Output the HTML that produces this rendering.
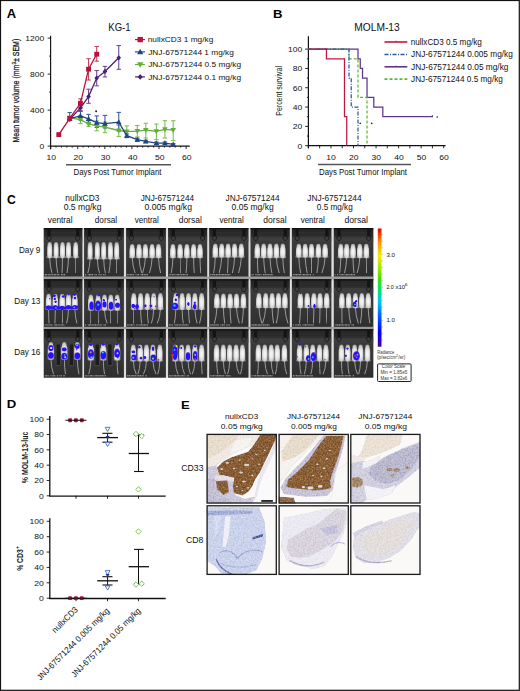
<!DOCTYPE html>
<html><head><meta charset="utf-8"><title>Figure</title>
<style>html,body{margin:0;padding:0;background:#fff;}body{width:520px;height:691px;overflow:hidden;font-family:"Liberation Sans",sans-serif;}svg{display:block;}</style>
</head><body>
<svg width="520" height="691" viewBox="0 0 520 691" font-family='"Liberation Sans", sans-serif'><defs><radialGradient id="mg" cx="50%" cy="55%" r="58%"><stop offset="0" stop-color="#fafafa"/><stop offset="0.45" stop-color="#e8e8e8"/><stop offset="0.8" stop-color="#c6c6c6"/><stop offset="1" stop-color="#848484"/></radialGradient><linearGradient id="cellbg" x1="0" y1="0" x2="0" y2="1"><stop offset="0" stop-color="#222"/><stop offset="0.18" stop-color="#2a2a2a"/><stop offset="0.2" stop-color="#3b3b3b"/><stop offset="0.6" stop-color="#363636"/><stop offset="1" stop-color="#2e2e2e"/></linearGradient><radialGradient id="bB" cx="50%" cy="50%" r="50%"><stop offset="0" stop-color="#2418ff"/><stop offset="0.75" stop-color="#2010ff"/><stop offset="1" stop-color="#6a20e0" stop-opacity="0.7"/></radialGradient><radialGradient id="bH" cx="50%" cy="50%" r="50%"><stop offset="0" stop-color="#c8f040"/><stop offset="0.18" stop-color="#30d8a0"/><stop offset="0.38" stop-color="#2090ff"/><stop offset="0.65" stop-color="#2010ff"/><stop offset="1" stop-color="#6a20e0" stop-opacity="0.7"/></radialGradient><radialGradient id="bC" cx="50%" cy="50%" r="50%"><stop offset="0" stop-color="#40e0e0"/><stop offset="0.35" stop-color="#2080ff"/><stop offset="0.7" stop-color="#2010ff"/><stop offset="1" stop-color="#6a20e0" stop-opacity="0.7"/></radialGradient><radialGradient id="bR" cx="50%" cy="50%" r="50%"><stop offset="0" stop-color="#e02010"/><stop offset="0.2" stop-color="#f0a020"/><stop offset="0.38" stop-color="#50d060"/><stop offset="0.58" stop-color="#2060ff"/><stop offset="0.8" stop-color="#2010ff"/><stop offset="1" stop-color="#6a20e0" stop-opacity="0.7"/></radialGradient><filter id="soft" x="-20%" y="-20%" width="140%" height="140%"><feGaussianBlur stdDeviation="0.35"/></filter><filter id="soft2" x="-20%" y="-20%" width="140%" height="140%"><feGaussianBlur stdDeviation="0.25"/></filter><filter id="grain" x="0" y="0" width="100%" height="100%"><feTurbulence type="fractalNoise" baseFrequency="0.6" numOctaves="2" seed="3" result="n"/><feColorMatrix in="n" type="matrix" values="0.9 0 0 0 0.05  0.9 0 0 0 0.05  0.9 0 0 0 0.05  0 0 0 0 1" result="g"/><feBlend in="g" in2="SourceGraphic" mode="soft-light" result="b"/><feComposite in="b" in2="SourceGraphic" operator="in"/></filter><linearGradient id="cbar" x1="0" y1="1" x2="0" y2="0"><stop offset="0" stop-color="#5000d0"/><stop offset="0.08" stop-color="#0000ff"/><stop offset="0.3" stop-color="#00a0ff"/><stop offset="0.45" stop-color="#00e0c0"/><stop offset="0.6" stop-color="#40e000"/><stop offset="0.75" stop-color="#e8e800"/><stop offset="0.88" stop-color="#ff8000"/><stop offset="1" stop-color="#e00000"/></linearGradient><linearGradient id="cbar2" x1="0" y1="1" x2="0" y2="0"><stop offset="0" stop-color="#4b00a0"/><stop offset="0.12" stop-color="#0000ff"/><stop offset="0.28" stop-color="#0070ff"/><stop offset="0.37" stop-color="#00c0ff"/><stop offset="0.47" stop-color="#00e080"/><stop offset="0.57" stop-color="#40e000"/><stop offset="0.67" stop-color="#a0e800"/><stop offset="0.77" stop-color="#f0f000"/><stop offset="0.885" stop-color="#ff9000"/><stop offset="1" stop-color="#e00000"/></linearGradient></defs><rect width="520" height="691" fill="#fff"/><text x="6.88" y="17.6" font-size="12.25" font-weight="bold" fill="#000" textLength="9.38" lengthAdjust="spacingAndGlyphs" >A</text>
<text x="272.9" y="17.8" font-size="11.69" font-weight="bold" fill="#000" textLength="9.47" lengthAdjust="spacingAndGlyphs" >B</text>
<text x="7.01" y="204" font-size="11.97" font-weight="bold" fill="#000" textLength="8.82" lengthAdjust="spacingAndGlyphs" >C</text>
<text x="6.84" y="408.3" font-size="11.27" font-weight="bold" fill="#000" textLength="9.51" lengthAdjust="spacingAndGlyphs" >D</text>
<text x="180.95" y="408.5" font-size="11.69" font-weight="bold" fill="#000" textLength="8.74" lengthAdjust="spacingAndGlyphs" >E</text>
<line x1="50.6" y1="35.8" x2="50.6" y2="149.2" stroke="#111" stroke-width="1.15" />
<line x1="50.1" y1="146.1" x2="189.8" y2="146.1" stroke="#111" stroke-width="1.15" />
<line x1="47.6" y1="146.1" x2="50.6" y2="146.1" stroke="#111" stroke-width="0.9" />
<line x1="49.1" y1="128.1" x2="50.6" y2="128.1" stroke="#111" stroke-width="0.9" />
<line x1="47.6" y1="110.1" x2="50.6" y2="110.1" stroke="#111" stroke-width="0.9" />
<line x1="49.1" y1="92.1" x2="50.6" y2="92.1" stroke="#111" stroke-width="0.9" />
<line x1="47.6" y1="74.1" x2="50.6" y2="74.1" stroke="#111" stroke-width="0.9" />
<line x1="49.1" y1="56.1" x2="50.6" y2="56.1" stroke="#111" stroke-width="0.9" />
<line x1="47.6" y1="38.1" x2="50.6" y2="38.1" stroke="#111" stroke-width="0.9" />
<text x="39.5" y="148.9" font-size="7.89" font-weight="normal" fill="#111" textLength="4.75" lengthAdjust="spacingAndGlyphs" >0</text>
<text x="30.02" y="112.9" font-size="7.89" font-weight="normal" fill="#111" textLength="14.25" lengthAdjust="spacingAndGlyphs" >400</text>
<text x="30.02" y="76.9" font-size="7.89" font-weight="normal" fill="#111" textLength="14.25" lengthAdjust="spacingAndGlyphs" >800</text>
<text x="25.23" y="40.9" font-size="7.89" font-weight="normal" fill="#111" textLength="19.01" lengthAdjust="spacingAndGlyphs" >1200</text>
<line x1="50.6" y1="146.1" x2="50.6" y2="149.1" stroke="#111" stroke-width="0.9" />
<line x1="56.02" y1="146.1" x2="56.02" y2="147.6" stroke="#111" stroke-width="0.9" />
<line x1="61.44" y1="146.1" x2="61.44" y2="147.6" stroke="#111" stroke-width="0.9" />
<line x1="66.86" y1="146.1" x2="66.86" y2="147.6" stroke="#111" stroke-width="0.9" />
<line x1="72.28" y1="146.1" x2="72.28" y2="147.6" stroke="#111" stroke-width="0.9" />
<line x1="77.7" y1="146.1" x2="77.7" y2="149.1" stroke="#111" stroke-width="0.9" />
<line x1="83.12" y1="146.1" x2="83.12" y2="147.6" stroke="#111" stroke-width="0.9" />
<line x1="88.54" y1="146.1" x2="88.54" y2="147.6" stroke="#111" stroke-width="0.9" />
<line x1="93.96" y1="146.1" x2="93.96" y2="147.6" stroke="#111" stroke-width="0.9" />
<line x1="99.38" y1="146.1" x2="99.38" y2="147.6" stroke="#111" stroke-width="0.9" />
<line x1="104.8" y1="146.1" x2="104.8" y2="149.1" stroke="#111" stroke-width="0.9" />
<line x1="110.22" y1="146.1" x2="110.22" y2="147.6" stroke="#111" stroke-width="0.9" />
<line x1="115.64" y1="146.1" x2="115.64" y2="147.6" stroke="#111" stroke-width="0.9" />
<line x1="121.06" y1="146.1" x2="121.06" y2="147.6" stroke="#111" stroke-width="0.9" />
<line x1="126.48" y1="146.1" x2="126.48" y2="147.6" stroke="#111" stroke-width="0.9" />
<line x1="131.9" y1="146.1" x2="131.9" y2="149.1" stroke="#111" stroke-width="0.9" />
<line x1="137.32" y1="146.1" x2="137.32" y2="147.6" stroke="#111" stroke-width="0.9" />
<line x1="142.74" y1="146.1" x2="142.74" y2="147.6" stroke="#111" stroke-width="0.9" />
<line x1="148.16" y1="146.1" x2="148.16" y2="147.6" stroke="#111" stroke-width="0.9" />
<line x1="153.58" y1="146.1" x2="153.58" y2="147.6" stroke="#111" stroke-width="0.9" />
<line x1="159" y1="146.1" x2="159" y2="149.1" stroke="#111" stroke-width="0.9" />
<line x1="164.42" y1="146.1" x2="164.42" y2="147.6" stroke="#111" stroke-width="0.9" />
<line x1="169.84" y1="146.1" x2="169.84" y2="147.6" stroke="#111" stroke-width="0.9" />
<line x1="175.26" y1="146.1" x2="175.26" y2="147.6" stroke="#111" stroke-width="0.9" />
<line x1="180.68" y1="146.1" x2="180.68" y2="147.6" stroke="#111" stroke-width="0.9" />
<line x1="186.1" y1="146.1" x2="186.1" y2="149.1" stroke="#111" stroke-width="0.9" />
<text x="46.41" y="159.85" font-size="7.89" font-weight="normal" fill="#111" textLength="9.5" lengthAdjust="spacingAndGlyphs" >10</text>
<text x="73.62" y="159.85" font-size="7.89" font-weight="normal" fill="#111" textLength="9.5" lengthAdjust="spacingAndGlyphs" >20</text>
<text x="100.76" y="159.85" font-size="7.89" font-weight="normal" fill="#111" textLength="9.5" lengthAdjust="spacingAndGlyphs" >30</text>
<text x="127.92" y="159.85" font-size="7.89" font-weight="normal" fill="#111" textLength="9.5" lengthAdjust="spacingAndGlyphs" >40</text>
<text x="154.96" y="159.85" font-size="7.89" font-weight="normal" fill="#111" textLength="9.5" lengthAdjust="spacingAndGlyphs" >50</text>
<text x="182.02" y="159.85" font-size="7.89" font-weight="normal" fill="#111" textLength="9.5" lengthAdjust="spacingAndGlyphs" >60</text>
<line x1="66" y1="164.7" x2="171" y2="164.7" stroke="#555" stroke-width="1.4" />
<text x="73.47" y="175.3" font-size="8.31" font-weight="normal" fill="#111" textLength="87.98" lengthAdjust="spacingAndGlyphs" >Days Post Tumor Implant</text>
<text transform="translate(19.3,142.5) rotate(-90)" x="0" y="0" font-size="9.3" fill="#111" textLength="103.8" lengthAdjust="spacingAndGlyphs" stroke="#111" stroke-width="0.25">Mean tumor volume (mm<tspan font-size="6.04" dy="-3.2">3</tspan><tspan dy="3.2">± SEM)</tspan></text>
<text x="108.28" y="30.6" font-size="10.28" font-weight="normal" fill="#111" textLength="22.34" lengthAdjust="spacingAndGlyphs" >KG-1</text>
<line x1="80.45" y1="116" x2="80.45" y2="123.6" stroke="#7cc055" stroke-width="1.1" />
<line x1="78.25" y1="116" x2="82.65" y2="116" stroke="#7cc055" stroke-width="1.1" />
<line x1="78.25" y1="123.6" x2="82.65" y2="123.6" stroke="#7cc055" stroke-width="1.1" />
<line x1="88.55" y1="121" x2="88.55" y2="126.3" stroke="#7cc055" stroke-width="1.1" />
<line x1="86.35" y1="121" x2="90.75" y2="121" stroke="#7cc055" stroke-width="1.1" />
<line x1="86.35" y1="126.3" x2="90.75" y2="126.3" stroke="#7cc055" stroke-width="1.1" />
<line x1="96.7" y1="121" x2="96.7" y2="130.8" stroke="#7cc055" stroke-width="1.1" />
<line x1="94.5" y1="121" x2="98.9" y2="121" stroke="#7cc055" stroke-width="1.1" />
<line x1="94.5" y1="130.8" x2="98.9" y2="130.8" stroke="#7cc055" stroke-width="1.1" />
<line x1="104.95" y1="122" x2="104.95" y2="132.7" stroke="#7cc055" stroke-width="1.1" />
<line x1="102.75" y1="122" x2="107.15" y2="122" stroke="#7cc055" stroke-width="1.1" />
<line x1="102.75" y1="132.7" x2="107.15" y2="132.7" stroke="#7cc055" stroke-width="1.1" />
<line x1="118.75" y1="125.3" x2="118.75" y2="136.6" stroke="#7cc055" stroke-width="1.1" />
<line x1="116.55" y1="125.3" x2="120.95" y2="125.3" stroke="#7cc055" stroke-width="1.1" />
<line x1="116.55" y1="136.6" x2="120.95" y2="136.6" stroke="#7cc055" stroke-width="1.1" />
<line x1="126.8" y1="125.9" x2="126.8" y2="137.2" stroke="#7cc055" stroke-width="1.1" />
<line x1="124.6" y1="125.9" x2="129" y2="125.9" stroke="#7cc055" stroke-width="1.1" />
<line x1="124.6" y1="137.2" x2="129" y2="137.2" stroke="#7cc055" stroke-width="1.1" />
<line x1="137.3" y1="125.5" x2="137.3" y2="137" stroke="#7cc055" stroke-width="1.1" />
<line x1="135.1" y1="125.5" x2="139.5" y2="125.5" stroke="#7cc055" stroke-width="1.1" />
<line x1="135.1" y1="137" x2="139.5" y2="137" stroke="#7cc055" stroke-width="1.1" />
<line x1="145.8" y1="123.3" x2="145.8" y2="138" stroke="#7cc055" stroke-width="1.1" />
<line x1="143.6" y1="123.3" x2="148" y2="123.3" stroke="#7cc055" stroke-width="1.1" />
<line x1="143.6" y1="138" x2="148" y2="138" stroke="#7cc055" stroke-width="1.1" />
<line x1="156.4" y1="124.1" x2="156.4" y2="139.7" stroke="#7cc055" stroke-width="1.1" />
<line x1="154.2" y1="124.1" x2="158.6" y2="124.1" stroke="#7cc055" stroke-width="1.1" />
<line x1="154.2" y1="139.7" x2="158.6" y2="139.7" stroke="#7cc055" stroke-width="1.1" />
<line x1="164.9" y1="120.7" x2="164.9" y2="138" stroke="#7cc055" stroke-width="1.1" />
<line x1="162.7" y1="120.7" x2="167.1" y2="120.7" stroke="#7cc055" stroke-width="1.1" />
<line x1="162.7" y1="138" x2="167.1" y2="138" stroke="#7cc055" stroke-width="1.1" />
<line x1="173.2" y1="120.7" x2="173.2" y2="140.6" stroke="#7cc055" stroke-width="1.1" />
<line x1="171" y1="120.7" x2="175.4" y2="120.7" stroke="#7cc055" stroke-width="1.1" />
<line x1="171" y1="140.6" x2="175.4" y2="140.6" stroke="#7cc055" stroke-width="1.1" />
<line x1="69.7" y1="112.5" x2="69.7" y2="119.5" stroke="#3d5f9a" stroke-width="1.1" />
<line x1="67.5" y1="112.5" x2="71.9" y2="112.5" stroke="#3d5f9a" stroke-width="1.1" />
<line x1="67.5" y1="119.5" x2="71.9" y2="119.5" stroke="#3d5f9a" stroke-width="1.1" />
<line x1="80.45" y1="111.5" x2="80.45" y2="120" stroke="#3d5f9a" stroke-width="1.1" />
<line x1="78.25" y1="111.5" x2="82.65" y2="111.5" stroke="#3d5f9a" stroke-width="1.1" />
<line x1="78.25" y1="120" x2="82.65" y2="120" stroke="#3d5f9a" stroke-width="1.1" />
<line x1="88.55" y1="114.4" x2="88.55" y2="123" stroke="#3d5f9a" stroke-width="1.1" />
<line x1="86.35" y1="114.4" x2="90.75" y2="114.4" stroke="#3d5f9a" stroke-width="1.1" />
<line x1="86.35" y1="123" x2="90.75" y2="123" stroke="#3d5f9a" stroke-width="1.1" />
<line x1="96.7" y1="115.9" x2="96.7" y2="127.4" stroke="#3d5f9a" stroke-width="1.1" />
<line x1="94.5" y1="115.9" x2="98.9" y2="115.9" stroke="#3d5f9a" stroke-width="1.1" />
<line x1="94.5" y1="127.4" x2="98.9" y2="127.4" stroke="#3d5f9a" stroke-width="1.1" />
<line x1="104.95" y1="115.4" x2="104.95" y2="128" stroke="#3d5f9a" stroke-width="1.1" />
<line x1="102.75" y1="115.4" x2="107.15" y2="115.4" stroke="#3d5f9a" stroke-width="1.1" />
<line x1="102.75" y1="128" x2="107.15" y2="128" stroke="#3d5f9a" stroke-width="1.1" />
<line x1="118.75" y1="112.4" x2="118.75" y2="131" stroke="#3d5f9a" stroke-width="1.1" />
<line x1="116.55" y1="112.4" x2="120.95" y2="112.4" stroke="#3d5f9a" stroke-width="1.1" />
<line x1="116.55" y1="131" x2="120.95" y2="131" stroke="#3d5f9a" stroke-width="1.1" />
<line x1="126.8" y1="134" x2="126.8" y2="137.6" stroke="#3d5f9a" stroke-width="1.1" />
<line x1="124.6" y1="134" x2="129" y2="134" stroke="#3d5f9a" stroke-width="1.1" />
<line x1="124.6" y1="137.6" x2="129" y2="137.6" stroke="#3d5f9a" stroke-width="1.1" />
<line x1="137.3" y1="138.2" x2="137.3" y2="141.2" stroke="#3d5f9a" stroke-width="1.1" />
<line x1="135.1" y1="138.2" x2="139.5" y2="138.2" stroke="#3d5f9a" stroke-width="1.1" />
<line x1="135.1" y1="141.2" x2="139.5" y2="141.2" stroke="#3d5f9a" stroke-width="1.1" />
<line x1="145.8" y1="140.2" x2="145.8" y2="142.6" stroke="#3d5f9a" stroke-width="1.1" />
<line x1="143.6" y1="140.2" x2="148" y2="140.2" stroke="#3d5f9a" stroke-width="1.1" />
<line x1="143.6" y1="142.6" x2="148" y2="142.6" stroke="#3d5f9a" stroke-width="1.1" />
<line x1="156.4" y1="142" x2="156.4" y2="144.4" stroke="#3d5f9a" stroke-width="1.1" />
<line x1="154.2" y1="142" x2="158.6" y2="142" stroke="#3d5f9a" stroke-width="1.1" />
<line x1="154.2" y1="144.4" x2="158.6" y2="144.4" stroke="#3d5f9a" stroke-width="1.1" />
<line x1="164.9" y1="142" x2="164.9" y2="144.4" stroke="#3d5f9a" stroke-width="1.1" />
<line x1="162.7" y1="142" x2="167.1" y2="142" stroke="#3d5f9a" stroke-width="1.1" />
<line x1="162.7" y1="144.4" x2="167.1" y2="144.4" stroke="#3d5f9a" stroke-width="1.1" />
<line x1="173.2" y1="143.6" x2="173.2" y2="145.2" stroke="#3d5f9a" stroke-width="1.1" />
<line x1="171" y1="143.6" x2="175.4" y2="143.6" stroke="#3d5f9a" stroke-width="1.1" />
<line x1="171" y1="145.2" x2="175.4" y2="145.2" stroke="#3d5f9a" stroke-width="1.1" />
<line x1="80.45" y1="105.5" x2="80.45" y2="110.5" stroke="#6f4c95" stroke-width="1.1" />
<line x1="78.25" y1="105.5" x2="82.65" y2="105.5" stroke="#6f4c95" stroke-width="1.1" />
<line x1="78.25" y1="110.5" x2="82.65" y2="110.5" stroke="#6f4c95" stroke-width="1.1" />
<line x1="88.55" y1="89.2" x2="88.55" y2="103.3" stroke="#6f4c95" stroke-width="1.1" />
<line x1="86.35" y1="89.2" x2="90.75" y2="89.2" stroke="#6f4c95" stroke-width="1.1" />
<line x1="86.35" y1="103.3" x2="90.75" y2="103.3" stroke="#6f4c95" stroke-width="1.1" />
<line x1="96.7" y1="70.5" x2="96.7" y2="85.8" stroke="#6f4c95" stroke-width="1.1" />
<line x1="94.5" y1="70.5" x2="98.9" y2="70.5" stroke="#6f4c95" stroke-width="1.1" />
<line x1="94.5" y1="85.8" x2="98.9" y2="85.8" stroke="#6f4c95" stroke-width="1.1" />
<line x1="104.95" y1="66.4" x2="104.95" y2="76.9" stroke="#6f4c95" stroke-width="1.1" />
<line x1="102.75" y1="66.4" x2="107.15" y2="66.4" stroke="#6f4c95" stroke-width="1.1" />
<line x1="102.75" y1="76.9" x2="107.15" y2="76.9" stroke="#6f4c95" stroke-width="1.1" />
<line x1="118.75" y1="45.5" x2="118.75" y2="69.3" stroke="#6f4c95" stroke-width="1.1" />
<line x1="116.55" y1="45.5" x2="120.95" y2="45.5" stroke="#6f4c95" stroke-width="1.1" />
<line x1="116.55" y1="69.3" x2="120.95" y2="69.3" stroke="#6f4c95" stroke-width="1.1" />
<line x1="69.7" y1="116.5" x2="69.7" y2="120.5" stroke="#c8405f" stroke-width="1.1" />
<line x1="67.5" y1="116.5" x2="71.9" y2="116.5" stroke="#c8405f" stroke-width="1.1" />
<line x1="67.5" y1="120.5" x2="71.9" y2="120.5" stroke="#c8405f" stroke-width="1.1" />
<line x1="80.45" y1="98.8" x2="80.45" y2="107.8" stroke="#c8405f" stroke-width="1.1" />
<line x1="78.25" y1="98.8" x2="82.65" y2="98.8" stroke="#c8405f" stroke-width="1.1" />
<line x1="78.25" y1="107.8" x2="82.65" y2="107.8" stroke="#c8405f" stroke-width="1.1" />
<line x1="88.55" y1="58.7" x2="88.55" y2="80" stroke="#c8405f" stroke-width="1.1" />
<line x1="86.35" y1="58.7" x2="90.75" y2="58.7" stroke="#c8405f" stroke-width="1.1" />
<line x1="86.35" y1="80" x2="90.75" y2="80" stroke="#c8405f" stroke-width="1.1" />
<line x1="96.7" y1="46.5" x2="96.7" y2="61.2" stroke="#c8405f" stroke-width="1.1" />
<line x1="94.5" y1="46.5" x2="98.9" y2="46.5" stroke="#c8405f" stroke-width="1.1" />
<line x1="94.5" y1="61.2" x2="98.9" y2="61.2" stroke="#c8405f" stroke-width="1.1" />
<polyline points="69.7,117.8 80.45,119.7 88.55,124 96.7,125.8 104.95,127.2 118.75,130.5 126.8,131.6 137.3,131.2 145.8,130.2 156.4,131.4 164.9,129.3 173.2,130.2" fill="none" stroke="#62ad3c" stroke-width="1.3" />
<polygon points="69.7,120.7 72.5,115.7 66.9,115.7" fill="#62ad3c" stroke="none" stroke-width="1" />
<polygon points="80.45,122.6 83.25,117.6 77.65,117.6" fill="#62ad3c" stroke="none" stroke-width="1" />
<polygon points="88.55,126.9 91.35,121.9 85.75,121.9" fill="#62ad3c" stroke="none" stroke-width="1" />
<polygon points="96.7,128.7 99.5,123.7 93.9,123.7" fill="#62ad3c" stroke="none" stroke-width="1" />
<polygon points="104.95,130.1 107.75,125.1 102.15,125.1" fill="#62ad3c" stroke="none" stroke-width="1" />
<polygon points="118.75,133.4 121.55,128.4 115.95,128.4" fill="#62ad3c" stroke="none" stroke-width="1" />
<polygon points="126.8,134.5 129.6,129.5 124,129.5" fill="#62ad3c" stroke="none" stroke-width="1" />
<polygon points="137.3,134.1 140.1,129.1 134.5,129.1" fill="#62ad3c" stroke="none" stroke-width="1" />
<polygon points="145.8,133.1 148.6,128.1 143,128.1" fill="#62ad3c" stroke="none" stroke-width="1" />
<polygon points="156.4,134.3 159.2,129.3 153.6,129.3" fill="#62ad3c" stroke="none" stroke-width="1" />
<polygon points="164.9,132.2 167.7,127.2 162.1,127.2" fill="#62ad3c" stroke="none" stroke-width="1" />
<polygon points="173.2,133.1 176,128.1 170.4,128.1" fill="#62ad3c" stroke="none" stroke-width="1" />
<polyline points="69.7,118.6 80.45,115.9 88.55,118.8 96.7,122.6 104.95,123.6 118.75,122.1 126.8,135.7 137.3,139.7 145.8,141.4 156.4,143.2 164.9,143.2 173.2,144.4" fill="none" stroke="#1f4585" stroke-width="1.3" />
<polygon points="69.7,115.7 72.5,120.7 66.9,120.7" fill="#1f4585" stroke="none" stroke-width="1" />
<polygon points="80.45,113 83.25,118 77.65,118" fill="#1f4585" stroke="none" stroke-width="1" />
<polygon points="88.55,115.9 91.35,120.9 85.75,120.9" fill="#1f4585" stroke="none" stroke-width="1" />
<polygon points="96.7,119.7 99.5,124.7 93.9,124.7" fill="#1f4585" stroke="none" stroke-width="1" />
<polygon points="104.95,120.7 107.75,125.7 102.15,125.7" fill="#1f4585" stroke="none" stroke-width="1" />
<polygon points="118.75,119.2 121.55,124.2 115.95,124.2" fill="#1f4585" stroke="none" stroke-width="1" />
<polygon points="126.8,132.8 129.6,137.8 124,137.8" fill="#1f4585" stroke="none" stroke-width="1" />
<polygon points="137.3,136.8 140.1,141.8 134.5,141.8" fill="#1f4585" stroke="none" stroke-width="1" />
<polygon points="145.8,138.5 148.6,143.5 143,143.5" fill="#1f4585" stroke="none" stroke-width="1" />
<polygon points="156.4,140.3 159.2,145.3 153.6,145.3" fill="#1f4585" stroke="none" stroke-width="1" />
<polygon points="164.9,140.3 167.7,145.3 162.1,145.3" fill="#1f4585" stroke="none" stroke-width="1" />
<polygon points="173.2,141.5 176,146.5 170.4,146.5" fill="#1f4585" stroke="none" stroke-width="1" />
<polyline points="69.7,119.5 80.45,107.9 88.55,96.6 96.7,78.1 104.95,71.4 118.75,57.8" fill="none" stroke="#4a2170" stroke-width="1.3" />
<polygon points="69.7,116.9 72,119.5 69.7,122.1 67.4,119.5" fill="#4a2170" stroke="none" stroke-width="1" />
<polygon points="80.45,105.3 82.75,107.9 80.45,110.5 78.15,107.9" fill="#4a2170" stroke="none" stroke-width="1" />
<polygon points="88.55,94 90.85,96.6 88.55,99.2 86.25,96.6" fill="#4a2170" stroke="none" stroke-width="1" />
<polygon points="96.7,75.5 99,78.1 96.7,80.7 94.4,78.1" fill="#4a2170" stroke="none" stroke-width="1" />
<polygon points="104.95,68.8 107.25,71.4 104.95,74 102.65,71.4" fill="#4a2170" stroke="none" stroke-width="1" />
<polygon points="118.75,55.2 121.05,57.8 118.75,60.4 116.45,57.8" fill="#4a2170" stroke="none" stroke-width="1" />
<polyline points="58.8,134.6 69.7,118.4 80.45,103.3 88.55,69.2 96.7,54.2" fill="none" stroke="#b8123a" stroke-width="1.3" />
<rect x="56.35" y="132.2" width="4.9" height="4.8" fill="#b8123a"/>
<rect x="67.25" y="116" width="4.9" height="4.8" fill="#b8123a"/>
<rect x="78" y="100.9" width="4.9" height="4.8" fill="#b8123a"/>
<rect x="86.1" y="66.8" width="4.9" height="4.8" fill="#b8123a"/>
<rect x="94.25" y="51.8" width="4.9" height="4.8" fill="#b8123a"/>
<circle cx="96.1" cy="111.3" r="1.0" fill="#222"/>
<line x1="135" y1="39.6" x2="144.9" y2="39.6" stroke="#b8123a" stroke-width="1.2" />
<rect x="137.5" y="36.96" width="5.39" height="5.28" fill="#b8123a"/>
<text x="147.76" y="42.4" font-size="7.89" font-weight="normal" fill="#111" textLength="65.5" lengthAdjust="spacingAndGlyphs" >nullxCD3 1 mg/kg</text>
<line x1="135" y1="51.9" x2="144.9" y2="51.9" stroke="#1f4585" stroke-width="1.2" />
<polygon points="140.2,48.71 143.28,54.21 137.12,54.21" fill="#1f4585" stroke="none" stroke-width="1" />
<text x="148.18" y="54.7" font-size="7.89" font-weight="normal" fill="#111" textLength="85.66" lengthAdjust="spacingAndGlyphs" >JNJ-67571244 1 mg/kg</text>
<line x1="135" y1="64.5" x2="144.9" y2="64.5" stroke="#62ad3c" stroke-width="1.2" />
<polygon points="140.2,67.69 143.28,62.19 137.12,62.19" fill="#62ad3c" stroke="none" stroke-width="1" />
<text x="148.18" y="67.3" font-size="7.89" font-weight="normal" fill="#111" textLength="93" lengthAdjust="spacingAndGlyphs" >JNJ-67571244 0.5 mg/kg</text>
<line x1="135" y1="76.9" x2="144.9" y2="76.9" stroke="#4a2170" stroke-width="1.2" />
<polygon points="140.2,74.04 142.73,76.9 140.2,79.76 137.67,76.9" fill="#4a2170" stroke="none" stroke-width="1" />
<text x="148.18" y="79.7" font-size="7.89" font-weight="normal" fill="#111" textLength="92.89" lengthAdjust="spacingAndGlyphs" >JNJ-67571244 0.1 mg/kg</text>
<line x1="308.4" y1="36.2" x2="308.4" y2="148.3" stroke="#111" stroke-width="1.2" />
<line x1="307.9" y1="145.7" x2="445.6" y2="145.7" stroke="#111" stroke-width="1.2" />
<line x1="305.1" y1="145.7" x2="308.4" y2="145.7" stroke="#111" stroke-width="0.9" />
<line x1="306.9" y1="136.04" x2="308.4" y2="136.04" stroke="#111" stroke-width="0.9" />
<line x1="305.1" y1="126.38" x2="308.4" y2="126.38" stroke="#111" stroke-width="0.9" />
<line x1="306.9" y1="116.72" x2="308.4" y2="116.72" stroke="#111" stroke-width="0.9" />
<line x1="305.1" y1="107.06" x2="308.4" y2="107.06" stroke="#111" stroke-width="0.9" />
<line x1="306.9" y1="97.4" x2="308.4" y2="97.4" stroke="#111" stroke-width="0.9" />
<line x1="305.1" y1="87.74" x2="308.4" y2="87.74" stroke="#111" stroke-width="0.9" />
<line x1="306.9" y1="78.08" x2="308.4" y2="78.08" stroke="#111" stroke-width="0.9" />
<line x1="305.1" y1="68.42" x2="308.4" y2="68.42" stroke="#111" stroke-width="0.9" />
<line x1="306.9" y1="58.76" x2="308.4" y2="58.76" stroke="#111" stroke-width="0.9" />
<line x1="305.1" y1="49.1" x2="308.4" y2="49.1" stroke="#111" stroke-width="0.9" />
<text x="297.4" y="148.5" font-size="7.89" font-weight="normal" fill="#111" textLength="4.75" lengthAdjust="spacingAndGlyphs" >0</text>
<text x="292.66" y="129.18" font-size="7.89" font-weight="normal" fill="#111" textLength="9.5" lengthAdjust="spacingAndGlyphs" >20</text>
<text x="292.66" y="109.86" font-size="7.89" font-weight="normal" fill="#111" textLength="9.5" lengthAdjust="spacingAndGlyphs" >40</text>
<text x="292.66" y="90.54" font-size="7.89" font-weight="normal" fill="#111" textLength="9.5" lengthAdjust="spacingAndGlyphs" >60</text>
<text x="292.66" y="71.22" font-size="7.89" font-weight="normal" fill="#111" textLength="9.5" lengthAdjust="spacingAndGlyphs" >80</text>
<text x="287.92" y="51.9" font-size="7.89" font-weight="normal" fill="#111" textLength="14.25" lengthAdjust="spacingAndGlyphs" >100</text>
<line x1="308.4" y1="145.7" x2="308.4" y2="148.3" stroke="#111" stroke-width="0.9" />
<line x1="319.67" y1="145.7" x2="319.67" y2="148.3" stroke="#111" stroke-width="0.9" />
<line x1="330.95" y1="145.7" x2="330.95" y2="148.3" stroke="#111" stroke-width="0.9" />
<line x1="342.22" y1="145.7" x2="342.22" y2="148.3" stroke="#111" stroke-width="0.9" />
<line x1="353.5" y1="145.7" x2="353.5" y2="148.3" stroke="#111" stroke-width="0.9" />
<line x1="364.77" y1="145.7" x2="364.77" y2="148.3" stroke="#111" stroke-width="0.9" />
<line x1="376.05" y1="145.7" x2="376.05" y2="148.3" stroke="#111" stroke-width="0.9" />
<line x1="387.32" y1="145.7" x2="387.32" y2="148.3" stroke="#111" stroke-width="0.9" />
<line x1="398.6" y1="145.7" x2="398.6" y2="148.3" stroke="#111" stroke-width="0.9" />
<line x1="409.88" y1="145.7" x2="409.88" y2="148.3" stroke="#111" stroke-width="0.9" />
<line x1="421.15" y1="145.7" x2="421.15" y2="148.3" stroke="#111" stroke-width="0.9" />
<line x1="432.42" y1="145.7" x2="432.42" y2="148.3" stroke="#111" stroke-width="0.9" />
<line x1="443.7" y1="145.7" x2="443.7" y2="148.3" stroke="#111" stroke-width="0.9" />
<text x="306.33" y="159.9" font-size="7.89" font-weight="normal" fill="#111" textLength="4.75" lengthAdjust="spacingAndGlyphs" >0</text>
<text x="326.36" y="159.9" font-size="7.89" font-weight="normal" fill="#111" textLength="9.5" lengthAdjust="spacingAndGlyphs" >10</text>
<text x="349.02" y="159.9" font-size="7.89" font-weight="normal" fill="#111" textLength="9.5" lengthAdjust="spacingAndGlyphs" >20</text>
<text x="371.61" y="159.9" font-size="7.89" font-weight="normal" fill="#111" textLength="9.5" lengthAdjust="spacingAndGlyphs" >30</text>
<text x="394.22" y="159.9" font-size="7.89" font-weight="normal" fill="#111" textLength="9.5" lengthAdjust="spacingAndGlyphs" >40</text>
<text x="416.71" y="159.9" font-size="7.89" font-weight="normal" fill="#111" textLength="9.5" lengthAdjust="spacingAndGlyphs" >50</text>
<text x="439.22" y="159.9" font-size="7.89" font-weight="normal" fill="#111" textLength="9.5" lengthAdjust="spacingAndGlyphs" >60</text>
<line x1="318" y1="164.5" x2="411" y2="164.5" stroke="#555" stroke-width="1.4" />
<text x="318.97" y="175" font-size="8.31" font-weight="normal" fill="#111" textLength="88.08" lengthAdjust="spacingAndGlyphs" >Days Post Tumor Implant</text>
<text transform="translate(281.5,115.2) rotate(-90)" x="-0.56" y="0" font-size="9.15" font-weight="normal" fill="#111" textLength="49.74" lengthAdjust="spacingAndGlyphs">Percent survival</text>
<text x="354.28" y="30.7" font-size="10.14" font-weight="normal" fill="#111" textLength="45.38" lengthAdjust="spacingAndGlyphs" >MOLM-13</text>
<polyline points="308.4,49.1 358.01,49.1 358.01,58.76 360.26,58.76 360.26,68.42 362.52,68.42 362.52,78.08 367.03,78.08 367.03,97.4 373.79,97.4 373.79,107.06 382.81,107.06 382.81,116.72 432.42,116.72 432.42,115.27" fill="none" stroke="#60358a" stroke-width="1.25" />
<polyline points="308.4,49.1 348.99,49.1 348.99,58.76 358.01,58.76 358.01,97.4 367.03,97.4 367.03,145.7" fill="none" stroke="#5fb536" stroke-width="1.25" stroke-dasharray="3,2"/>
<polyline points="308.4,49.1 348.99,49.1 348.99,78.08 351.25,78.08 351.25,107.06 358.01,107.06 358.01,145.7" fill="none" stroke="#2f5a9e" stroke-width="1.25" stroke-dasharray="4,1.5,1,1.5"/>
<polyline points="308.4,49.1 326.44,49.1 326.44,58.76 344.48,58.76 344.48,116.72 346.73,116.72 346.73,145.7" fill="none" stroke="#c41540" stroke-width="1.25" />
<circle cx="360.2" cy="123.4" r="0.8" fill="#222"/>
<circle cx="371.7" cy="123.4" r="0.8" fill="#222"/>
<circle cx="437.2" cy="117.0" r="0.8" fill="#222"/>
<line x1="384.5" y1="42" x2="407.3" y2="42" stroke="#c41540" stroke-width="1.6" />
<line x1="395.9" y1="42" x2="395.9" y2="40.7" stroke="#c41540" stroke-width="0.8" />
<text x="410.67" y="44.7" font-size="8.17" font-weight="normal" fill="#111" textLength="71.17" lengthAdjust="spacingAndGlyphs" >nullxCD3 0.5 mg/kg</text>
<line x1="384.5" y1="54.5" x2="407.3" y2="54.5" stroke="#2f5a9e" stroke-width="1.6" stroke-dasharray="4,1.5,1,1.5"/>
<text x="411.08" y="57.2" font-size="8.17" font-weight="normal" fill="#111" textLength="101.77" lengthAdjust="spacingAndGlyphs" >JNJ-67571244 0.005 mg/kg</text>
<line x1="384.5" y1="66.8" x2="407.3" y2="66.8" stroke="#60358a" stroke-width="1.6" />
<line x1="395.9" y1="66.8" x2="395.9" y2="65.5" stroke="#60358a" stroke-width="0.8" />
<text x="411.08" y="69.5" font-size="8.17" font-weight="normal" fill="#111" textLength="97.36" lengthAdjust="spacingAndGlyphs" >JNJ-67571244 0.05 mg/kg</text>
<line x1="384.5" y1="79.1" x2="407.3" y2="79.1" stroke="#5fb536" stroke-width="1.6" stroke-dasharray="3,2"/>
<text x="411.08" y="81.8" font-size="8.17" font-weight="normal" fill="#111" textLength="91.79" lengthAdjust="spacingAndGlyphs" >JNJ-67571244 0.5 mg/kg</text>
<rect x="43.5" y="228.1" width="330.1" height="149.6" fill="#dcdcdc"/>
<rect x="43.5" y="276.6" width="330.1" height="2.6" fill="#9a9a9a"/>
<rect x="43.5" y="326.9" width="330.1" height="2.3" fill="#9a9a9a"/>
<g transform="translate(43.8,228.1)"><rect x="0" y="0" width="38.6" height="48.5" fill="url(#cellbg)"/><rect x="0" y="0" width="38.6" height="1.2" fill="#0e0e0e"/><rect x="6" y="2.4" width="26.6" height="0.6" fill="#343434"/><rect x="6" y="3.9" width="26.6" height="0.6" fill="#343434"/><rect x="6" y="5.4" width="26.6" height="0.6" fill="#343434"/><rect x="6" y="6.9" width="26.6" height="0.6" fill="#343434"/><rect x="0" y="8.3" width="38.6" height="5.2" fill="#414141" opacity="0.55"/><rect x="3.6" y="0.8" width="3.2" height="7.6" rx="1.2" fill="#141414"/><path d="M3,8.2 Q3,12.4 5.2,12.4 Q7.4,12.4 7.4,8.2" fill="none" stroke="#1c1c1c" stroke-width="1.0"/><rect x="32.4" y="0.8" width="3.2" height="7.6" rx="1.2" fill="#141414"/><path d="M31.8,8.2 Q31.8,12.4 34,12.4 Q36.2,12.4 36.2,8.2" fill="none" stroke="#1c1c1c" stroke-width="1.0"/><path d="M5.9,29.7 Q6.23,38.2 8.1,45" stroke="#9a9a9a" stroke-width="1.0" fill="none" filter="url(#soft)"/><path d="M12.3,29.7 Q12.55,38.2 13.95,45" stroke="#9a9a9a" stroke-width="1.0" fill="none" filter="url(#soft)"/><path d="M18.7,29.7 Q18.62,38.2 18.19,45" stroke="#9a9a9a" stroke-width="1.0" fill="none" filter="url(#soft)"/><path d="M24.7,29.7 Q24.47,38.2 23.16,45" stroke="#9a9a9a" stroke-width="1.0" fill="none" filter="url(#soft)"/><path d="M31.9,29.7 Q31.91,38.2 31.97,45" stroke="#9a9a9a" stroke-width="1.0" fill="none" filter="url(#soft)"/><ellipse cx="3.5" cy="29" rx="0.9" ry="1.1" fill="#8e8e8e"/><ellipse cx="8.3" cy="29" rx="0.9" ry="1.1" fill="#8e8e8e"/><path d="M3.7,15.6 Q3.7,13.8 5.9,13.8 Q8.1,13.8 8.1,15.6 L8.2,17.5 Q8.4,18.5 8.4,20.5 L8.5,27.7 Q8.5,30 7.5,30.2 L4.3,30.2 Q3.3,30 3.3,27.7 L3.4,20.5 Q3.4,18.5 3.6,17.5 Z" fill="url(#mg)" filter="url(#soft)"/><ellipse cx="9.9" cy="29" rx="0.9" ry="1.1" fill="#8e8e8e"/><ellipse cx="14.7" cy="29" rx="0.9" ry="1.1" fill="#8e8e8e"/><path d="M10.1,15.6 Q10.1,13.8 12.3,13.8 Q14.5,13.8 14.5,15.6 L14.6,17.5 Q14.8,18.5 14.8,20.5 L14.9,27.7 Q14.9,30 13.9,30.2 L10.7,30.2 Q9.7,30 9.7,27.7 L9.8,20.5 Q9.8,18.5 10,17.5 Z" fill="url(#mg)" filter="url(#soft)"/><ellipse cx="16.3" cy="29" rx="0.9" ry="1.1" fill="#8e8e8e"/><ellipse cx="21.1" cy="29" rx="0.9" ry="1.1" fill="#8e8e8e"/><path d="M16.5,15.6 Q16.5,13.8 18.7,13.8 Q20.9,13.8 20.9,15.6 L21,17.5 Q21.2,18.5 21.2,20.5 L21.3,27.7 Q21.3,30 20.3,30.2 L17.1,30.2 Q16.1,30 16.1,27.7 L16.2,20.5 Q16.2,18.5 16.4,17.5 Z" fill="url(#mg)" filter="url(#soft)"/><ellipse cx="22.3" cy="29" rx="0.9" ry="1.1" fill="#8e8e8e"/><ellipse cx="27.1" cy="29" rx="0.9" ry="1.1" fill="#8e8e8e"/><path d="M22.5,15.6 Q22.5,13.8 24.7,13.8 Q26.9,13.8 26.9,15.6 L27,17.5 Q27.2,18.5 27.2,20.5 L27.3,27.7 Q27.3,30 26.3,30.2 L23.1,30.2 Q22.1,30 22.1,27.7 L22.2,20.5 Q22.2,18.5 22.4,17.5 Z" fill="url(#mg)" filter="url(#soft)"/><ellipse cx="29.5" cy="29" rx="0.9" ry="1.1" fill="#8e8e8e"/><ellipse cx="34.3" cy="29" rx="0.9" ry="1.1" fill="#8e8e8e"/><path d="M29.7,15.6 Q29.7,13.8 31.9,13.8 Q34.1,13.8 34.1,15.6 L34.2,17.5 Q34.4,18.5 34.4,20.5 L34.5,27.7 Q34.5,30 33.5,30.2 L30.3,30.2 Q29.3,30 29.3,27.7 L29.4,20.5 Q29.4,18.5 29.6,17.5 Z" fill="url(#mg)" filter="url(#soft)"/><rect x="1" y="45.9" width="1.15" height="1.3" fill="#9c9c9c"/><rect x="2.5" y="45.9" width="1.01" height="1.3" fill="#9c9c9c"/><rect x="4.08" y="45.9" width="0.8" height="1.3" fill="#9c9c9c"/><rect x="5.39" y="45.9" width="0.78" height="1.3" fill="#9c9c9c"/><rect x="6.74" y="45.9" width="1.17" height="1.3" fill="#9c9c9c"/><rect x="8.47" y="45.9" width="1.11" height="1.3" fill="#9c9c9c"/><rect x="10.14" y="45.9" width="0.93" height="1.3" fill="#9c9c9c"/><rect x="11.36" y="45.9" width="1.03" height="1.3" fill="#9c9c9c"/><rect x="12.96" y="45.9" width="0.93" height="1.3" fill="#9c9c9c"/><rect x="14.44" y="45.9" width="1.16" height="1.3" fill="#9c9c9c"/><rect x="17.25" y="45.9" width="1.1" height="1.3" fill="#9c9c9c"/><rect x="18.74" y="45.9" width="1.07" height="1.3" fill="#9c9c9c"/><rect x="20.06" y="45.9" width="1.21" height="1.3" fill="#9c9c9c"/></g>
<g transform="translate(84.1,228.1)"><rect x="0" y="0" width="39.8" height="48.5" fill="url(#cellbg)"/><rect x="0" y="0" width="39.8" height="1.2" fill="#0e0e0e"/><rect x="6" y="2.4" width="27.8" height="0.6" fill="#343434"/><rect x="6" y="3.9" width="27.8" height="0.6" fill="#343434"/><rect x="6" y="5.4" width="27.8" height="0.6" fill="#343434"/><rect x="6" y="6.9" width="27.8" height="0.6" fill="#343434"/><rect x="0" y="8.3" width="39.8" height="5.2" fill="#414141" opacity="0.55"/><rect x="3.6" y="0.8" width="3.2" height="7.6" rx="1.2" fill="#141414"/><path d="M3,8.2 Q3,12.4 5.2,12.4 Q7.4,12.4 7.4,8.2" fill="none" stroke="#1c1c1c" stroke-width="1.0"/><rect x="33.6" y="0.8" width="3.2" height="7.6" rx="1.2" fill="#141414"/><path d="M33,8.2 Q33,12.4 35.2,12.4 Q37.4,12.4 37.4,8.2" fill="none" stroke="#1c1c1c" stroke-width="1.0"/><path d="M6,30.9 Q5.65,39.4 3.66,45" stroke="#9a9a9a" stroke-width="1.0" fill="none" filter="url(#soft)"/><path d="M13.2,30.9 Q13.53,39.4 15.42,45" stroke="#9a9a9a" stroke-width="1.0" fill="none" filter="url(#soft)"/><path d="M19.6,30.9 Q19.85,39.4 21.29,45" stroke="#9a9a9a" stroke-width="1.0" fill="none" filter="url(#soft)"/><path d="M26.3,30.9 Q26.06,39.4 24.73,45" stroke="#9a9a9a" stroke-width="1.0" fill="none" filter="url(#soft)"/><path d="M32.6,30.9 Q32.6,39.4 32.57,45" stroke="#9a9a9a" stroke-width="1.0" fill="none" filter="url(#soft)"/><ellipse cx="3.6" cy="30.2" rx="0.9" ry="1.1" fill="#8e8e8e"/><ellipse cx="8.4" cy="30.2" rx="0.9" ry="1.1" fill="#8e8e8e"/><path d="M3.8,15.8 Q3.8,14 6,14 Q8.2,14 8.2,15.8 L8.3,17.7 Q8.5,18.7 8.5,20.7 L8.6,28.9 Q8.6,31.2 7.6,31.4 L4.4,31.4 Q3.4,31.2 3.4,28.9 L3.5,20.7 Q3.5,18.7 3.7,17.7 Z" fill="url(#mg)" filter="url(#soft)"/><ellipse cx="10.8" cy="30.2" rx="0.9" ry="1.1" fill="#8e8e8e"/><ellipse cx="15.6" cy="30.2" rx="0.9" ry="1.1" fill="#8e8e8e"/><path d="M11,15.8 Q11,14 13.2,14 Q15.4,14 15.4,15.8 L15.5,17.7 Q15.7,18.7 15.7,20.7 L15.8,28.9 Q15.8,31.2 14.8,31.4 L11.6,31.4 Q10.6,31.2 10.6,28.9 L10.7,20.7 Q10.7,18.7 10.9,17.7 Z" fill="url(#mg)" filter="url(#soft)"/><ellipse cx="17.2" cy="30.2" rx="0.9" ry="1.1" fill="#8e8e8e"/><ellipse cx="22" cy="30.2" rx="0.9" ry="1.1" fill="#8e8e8e"/><path d="M17.4,15.8 Q17.4,14 19.6,14 Q21.8,14 21.8,15.8 L21.9,17.7 Q22.1,18.7 22.1,20.7 L22.2,28.9 Q22.2,31.2 21.2,31.4 L18,31.4 Q17,31.2 17,28.9 L17.1,20.7 Q17.1,18.7 17.3,17.7 Z" fill="url(#mg)" filter="url(#soft)"/><ellipse cx="23.9" cy="30.2" rx="0.9" ry="1.1" fill="#8e8e8e"/><ellipse cx="28.7" cy="30.2" rx="0.9" ry="1.1" fill="#8e8e8e"/><path d="M24.1,15.8 Q24.1,14 26.3,14 Q28.5,14 28.5,15.8 L28.6,17.7 Q28.8,18.7 28.8,20.7 L28.9,28.9 Q28.9,31.2 27.9,31.4 L24.7,31.4 Q23.7,31.2 23.7,28.9 L23.8,20.7 Q23.8,18.7 24,17.7 Z" fill="url(#mg)" filter="url(#soft)"/><ellipse cx="30.2" cy="30.2" rx="0.9" ry="1.1" fill="#8e8e8e"/><ellipse cx="35" cy="30.2" rx="0.9" ry="1.1" fill="#8e8e8e"/><path d="M30.4,15.8 Q30.4,14 32.6,14 Q34.8,14 34.8,15.8 L34.9,17.7 Q35.1,18.7 35.1,20.7 L35.2,28.9 Q35.2,31.2 34.2,31.4 L31,31.4 Q30,31.2 30,28.9 L30.1,20.7 Q30.1,18.7 30.3,17.7 Z" fill="url(#mg)" filter="url(#soft)"/><rect x="1" y="45.9" width="1.06" height="1.3" fill="#9c9c9c"/><rect x="3.78" y="45.9" width="0.62" height="1.3" fill="#9c9c9c"/><rect x="4.94" y="45.9" width="1.13" height="1.3" fill="#9c9c9c"/><rect x="6.33" y="45.9" width="1.11" height="1.3" fill="#9c9c9c"/><rect x="7.76" y="45.9" width="1.23" height="1.3" fill="#9c9c9c"/><rect x="10.46" y="45.9" width="0.98" height="1.3" fill="#9c9c9c"/><rect x="12.01" y="45.9" width="0.75" height="1.3" fill="#9c9c9c"/><rect x="14.36" y="45.9" width="0.76" height="1.3" fill="#9c9c9c"/><rect x="15.52" y="45.9" width="0.76" height="1.3" fill="#9c9c9c"/><rect x="16.62" y="45.9" width="0.92" height="1.3" fill="#9c9c9c"/><rect x="19.09" y="45.9" width="1.19" height="1.3" fill="#9c9c9c"/><rect x="20.72" y="45.9" width="0.73" height="1.3" fill="#9c9c9c"/></g>
<g transform="translate(126.1,228.1)"><rect x="0" y="0" width="39.8" height="48.5" fill="url(#cellbg)"/><rect x="0" y="0" width="39.8" height="1.2" fill="#0e0e0e"/><rect x="6" y="2.4" width="27.8" height="0.6" fill="#343434"/><rect x="6" y="3.9" width="27.8" height="0.6" fill="#343434"/><rect x="6" y="5.4" width="27.8" height="0.6" fill="#343434"/><rect x="6" y="6.9" width="27.8" height="0.6" fill="#343434"/><rect x="0" y="8.3" width="39.8" height="5.2" fill="#414141" opacity="0.55"/><rect x="3.6" y="0.8" width="3.2" height="7.6" rx="1.2" fill="#141414"/><path d="M3,8.2 Q3,12.4 5.2,12.4 Q7.4,12.4 7.4,8.2" fill="none" stroke="#1c1c1c" stroke-width="1.0"/><rect x="33.6" y="0.8" width="3.2" height="7.6" rx="1.2" fill="#141414"/><path d="M33,8.2 Q33,12.4 35.2,12.4 Q37.4,12.4 37.4,8.2" fill="none" stroke="#1c1c1c" stroke-width="1.0"/><path d="M6.1,29.7 Q6.54,38.2 9.02,45" stroke="#9a9a9a" stroke-width="1.0" fill="none" filter="url(#soft)"/><path d="M12.9,29.7 Q13.33,38.2 15.77,45" stroke="#9a9a9a" stroke-width="1.0" fill="none" filter="url(#soft)"/><path d="M19.3,29.7 Q18.87,38.2 16.46,45" stroke="#9a9a9a" stroke-width="1.0" fill="none" filter="url(#soft)"/><path d="M26,29.7 Q25.6,38.2 23.34,45" stroke="#9a9a9a" stroke-width="1.0" fill="none" filter="url(#soft)"/><path d="M32.4,29.7 Q32.72,38.2 34.55,45" stroke="#9a9a9a" stroke-width="1.0" fill="none" filter="url(#soft)"/><ellipse cx="3.7" cy="29" rx="0.9" ry="1.1" fill="#8e8e8e"/><ellipse cx="8.5" cy="29" rx="0.9" ry="1.1" fill="#8e8e8e"/><path d="M3.9,17.7 Q3.9,15.9 6.1,15.9 Q8.3,15.9 8.3,17.7 L8.4,19.6 Q8.9,20.6 8.9,22.6 L9,27.7 Q9,30 7.7,30.2 L4.5,30.2 Q3.2,30 3.2,27.7 L3.3,22.6 Q3.3,20.6 3.8,19.6 Z" fill="url(#mg)" filter="url(#soft)"/><ellipse cx="10.5" cy="29" rx="0.9" ry="1.1" fill="#8e8e8e"/><ellipse cx="15.3" cy="29" rx="0.9" ry="1.1" fill="#8e8e8e"/><path d="M10.7,17.7 Q10.7,15.9 12.9,15.9 Q15.1,15.9 15.1,17.7 L15.2,19.6 Q15.7,20.6 15.7,22.6 L15.8,27.7 Q15.8,30 14.5,30.2 L11.3,30.2 Q10,30 10,27.7 L10.1,22.6 Q10.1,20.6 10.6,19.6 Z" fill="url(#mg)" filter="url(#soft)"/><ellipse cx="16.9" cy="29" rx="0.9" ry="1.1" fill="#8e8e8e"/><ellipse cx="21.7" cy="29" rx="0.9" ry="1.1" fill="#8e8e8e"/><path d="M17.1,17.7 Q17.1,15.9 19.3,15.9 Q21.5,15.9 21.5,17.7 L21.6,19.6 Q22.1,20.6 22.1,22.6 L22.2,27.7 Q22.2,30 20.9,30.2 L17.7,30.2 Q16.4,30 16.4,27.7 L16.5,22.6 Q16.5,20.6 17,19.6 Z" fill="url(#mg)" filter="url(#soft)"/><ellipse cx="23.6" cy="29" rx="0.9" ry="1.1" fill="#8e8e8e"/><ellipse cx="28.4" cy="29" rx="0.9" ry="1.1" fill="#8e8e8e"/><path d="M23.8,17.7 Q23.8,15.9 26,15.9 Q28.2,15.9 28.2,17.7 L28.3,19.6 Q28.8,20.6 28.8,22.6 L28.9,27.7 Q28.9,30 27.6,30.2 L24.4,30.2 Q23.1,30 23.1,27.7 L23.2,22.6 Q23.2,20.6 23.7,19.6 Z" fill="url(#mg)" filter="url(#soft)"/><ellipse cx="30" cy="29" rx="0.9" ry="1.1" fill="#8e8e8e"/><ellipse cx="34.8" cy="29" rx="0.9" ry="1.1" fill="#8e8e8e"/><path d="M30.2,17.7 Q30.2,15.9 32.4,15.9 Q34.6,15.9 34.6,17.7 L34.7,19.6 Q35.2,20.6 35.2,22.6 L35.3,27.7 Q35.3,30 34,30.2 L30.8,30.2 Q29.5,30 29.5,27.7 L29.6,22.6 Q29.6,20.6 30.1,19.6 Z" fill="url(#mg)" filter="url(#soft)"/><rect x="1" y="45.9" width="1.07" height="1.3" fill="#9c9c9c"/><rect x="2.43" y="45.9" width="1.02" height="1.3" fill="#9c9c9c"/><rect x="3.9" y="45.9" width="0.9" height="1.3" fill="#9c9c9c"/><rect x="5.19" y="45.9" width="1.3" height="1.3" fill="#9c9c9c"/><rect x="7.07" y="45.9" width="0.91" height="1.3" fill="#9c9c9c"/><rect x="9.53" y="45.9" width="0.62" height="1.3" fill="#9c9c9c"/><rect x="10.56" y="45.9" width="0.87" height="1.3" fill="#9c9c9c"/><rect x="11.99" y="45.9" width="0.99" height="1.3" fill="#9c9c9c"/><rect x="14.51" y="45.9" width="0.83" height="1.3" fill="#9c9c9c"/><rect x="15.64" y="45.9" width="1.3" height="1.3" fill="#9c9c9c"/><rect x="17.42" y="45.9" width="1.23" height="1.3" fill="#9c9c9c"/><rect x="19.18" y="45.9" width="1.23" height="1.3" fill="#9c9c9c"/><rect x="20.93" y="45.9" width="0.85" height="1.3" fill="#9c9c9c"/></g>
<g transform="translate(168.1,228.1)"><rect x="0" y="0" width="39.1" height="48.5" fill="url(#cellbg)"/><rect x="0" y="0" width="39.1" height="1.2" fill="#0e0e0e"/><rect x="6" y="2.4" width="27.1" height="0.6" fill="#343434"/><rect x="6" y="3.9" width="27.1" height="0.6" fill="#343434"/><rect x="6" y="5.4" width="27.1" height="0.6" fill="#343434"/><rect x="6" y="6.9" width="27.1" height="0.6" fill="#343434"/><rect x="0" y="8.3" width="39.1" height="5.2" fill="#414141" opacity="0.55"/><rect x="3.6" y="0.8" width="3.2" height="7.6" rx="1.2" fill="#141414"/><path d="M3,8.2 Q3,12.4 5.2,12.4 Q7.4,12.4 7.4,8.2" fill="none" stroke="#1c1c1c" stroke-width="1.0"/><rect x="32.9" y="0.8" width="3.2" height="7.6" rx="1.2" fill="#141414"/><path d="M32.3,8.2 Q32.3,12.4 34.5,12.4 Q36.7,12.4 36.7,8.2" fill="none" stroke="#1c1c1c" stroke-width="1.0"/><path d="M4.8,29.7 Q4.55,38.2 3.12,45" stroke="#9a9a9a" stroke-width="1.0" fill="none" filter="url(#soft)"/><path d="M12,29.7 Q12.04,38.2 12.28,45" stroke="#9a9a9a" stroke-width="1.0" fill="none" filter="url(#soft)"/><path d="M18.8,29.7 Q18.68,38.2 17.97,45" stroke="#9a9a9a" stroke-width="1.0" fill="none" filter="url(#soft)"/><path d="M25.5,29.7 Q25.6,38.2 26.17,45" stroke="#9a9a9a" stroke-width="1.0" fill="none" filter="url(#soft)"/><path d="M31.9,29.7 Q32.02,38.2 32.7,45" stroke="#9a9a9a" stroke-width="1.0" fill="none" filter="url(#soft)"/><ellipse cx="2.4" cy="29" rx="0.9" ry="1.1" fill="#8e8e8e"/><ellipse cx="7.2" cy="29" rx="0.9" ry="1.1" fill="#8e8e8e"/><path d="M2.6,17.7 Q2.6,15.9 4.8,15.9 Q7,15.9 7,17.7 L7.1,19.6 Q7.6,20.6 7.6,22.6 L7.7,27.7 Q7.7,30 6.4,30.2 L3.2,30.2 Q1.9,30 1.9,27.7 L2,22.6 Q2,20.6 2.5,19.6 Z" fill="url(#mg)" filter="url(#soft)"/><ellipse cx="9.6" cy="29" rx="0.9" ry="1.1" fill="#8e8e8e"/><ellipse cx="14.4" cy="29" rx="0.9" ry="1.1" fill="#8e8e8e"/><path d="M9.8,17.7 Q9.8,15.9 12,15.9 Q14.2,15.9 14.2,17.7 L14.3,19.6 Q14.8,20.6 14.8,22.6 L14.9,27.7 Q14.9,30 13.6,30.2 L10.4,30.2 Q9.1,30 9.1,27.7 L9.2,22.6 Q9.2,20.6 9.7,19.6 Z" fill="url(#mg)" filter="url(#soft)"/><ellipse cx="16.4" cy="29" rx="0.9" ry="1.1" fill="#8e8e8e"/><ellipse cx="21.2" cy="29" rx="0.9" ry="1.1" fill="#8e8e8e"/><path d="M16.6,17.7 Q16.6,15.9 18.8,15.9 Q21,15.9 21,17.7 L21.1,19.6 Q21.6,20.6 21.6,22.6 L21.7,27.7 Q21.7,30 20.4,30.2 L17.2,30.2 Q15.9,30 15.9,27.7 L16,22.6 Q16,20.6 16.5,19.6 Z" fill="url(#mg)" filter="url(#soft)"/><ellipse cx="23.1" cy="29" rx="0.9" ry="1.1" fill="#8e8e8e"/><ellipse cx="27.9" cy="29" rx="0.9" ry="1.1" fill="#8e8e8e"/><path d="M23.3,17.7 Q23.3,15.9 25.5,15.9 Q27.7,15.9 27.7,17.7 L27.8,19.6 Q28.3,20.6 28.3,22.6 L28.4,27.7 Q28.4,30 27.1,30.2 L23.9,30.2 Q22.6,30 22.6,27.7 L22.7,22.6 Q22.7,20.6 23.2,19.6 Z" fill="url(#mg)" filter="url(#soft)"/><ellipse cx="29.5" cy="29" rx="0.9" ry="1.1" fill="#8e8e8e"/><ellipse cx="34.3" cy="29" rx="0.9" ry="1.1" fill="#8e8e8e"/><path d="M29.7,17.7 Q29.7,15.9 31.9,15.9 Q34.1,15.9 34.1,17.7 L34.2,19.6 Q34.7,20.6 34.7,22.6 L34.8,27.7 Q34.8,30 33.5,30.2 L30.3,30.2 Q29,30 29,27.7 L29.1,22.6 Q29.1,20.6 29.6,19.6 Z" fill="url(#mg)" filter="url(#soft)"/><rect x="1" y="45.9" width="0.61" height="1.3" fill="#9c9c9c"/><rect x="2.15" y="45.9" width="0.76" height="1.3" fill="#9c9c9c"/><rect x="3.51" y="45.9" width="1.19" height="1.3" fill="#9c9c9c"/><rect x="5.12" y="45.9" width="0.71" height="1.3" fill="#9c9c9c"/><rect x="6.29" y="45.9" width="0.97" height="1.3" fill="#9c9c9c"/><rect x="7.77" y="45.9" width="0.64" height="1.3" fill="#9c9c9c"/><rect x="8.93" y="45.9" width="0.81" height="1.3" fill="#9c9c9c"/><rect x="10" y="45.9" width="0.93" height="1.3" fill="#9c9c9c"/><rect x="11.43" y="45.9" width="1.1" height="1.3" fill="#9c9c9c"/><rect x="13.11" y="45.9" width="1.16" height="1.3" fill="#9c9c9c"/><rect x="14.67" y="45.9" width="1.22" height="1.3" fill="#9c9c9c"/><rect x="16.17" y="45.9" width="0.75" height="1.3" fill="#9c9c9c"/><rect x="17.51" y="45.9" width="1.04" height="1.3" fill="#9c9c9c"/><rect x="18.91" y="45.9" width="0.87" height="1.3" fill="#9c9c9c"/></g>
<g transform="translate(209.2,228.1)"><rect x="0" y="0" width="39.3" height="48.5" fill="url(#cellbg)"/><rect x="0" y="0" width="39.3" height="1.2" fill="#0e0e0e"/><rect x="6" y="2.4" width="27.3" height="0.6" fill="#343434"/><rect x="6" y="3.9" width="27.3" height="0.6" fill="#343434"/><rect x="6" y="5.4" width="27.3" height="0.6" fill="#343434"/><rect x="6" y="6.9" width="27.3" height="0.6" fill="#343434"/><rect x="0" y="8.3" width="39.3" height="5.2" fill="#414141" opacity="0.55"/><rect x="3.6" y="0.8" width="3.2" height="7.6" rx="1.2" fill="#141414"/><path d="M3,8.2 Q3,12.4 5.2,12.4 Q7.4,12.4 7.4,8.2" fill="none" stroke="#1c1c1c" stroke-width="1.0"/><rect x="33.1" y="0.8" width="3.2" height="7.6" rx="1.2" fill="#141414"/><path d="M32.5,8.2 Q32.5,12.4 34.7,12.4 Q36.9,12.4 36.9,8.2" fill="none" stroke="#1c1c1c" stroke-width="1.0"/><path d="M6.1,29.2 Q5.85,37.7 4.41,45" stroke="#9a9a9a" stroke-width="1.0" fill="none" filter="url(#soft)"/><path d="M12.5,29.2 Q12.12,37.7 9.96,45" stroke="#9a9a9a" stroke-width="1.0" fill="none" filter="url(#soft)"/><path d="M18.9,29.2 Q18.8,37.7 18.23,45" stroke="#9a9a9a" stroke-width="1.0" fill="none" filter="url(#soft)"/><path d="M25.4,29.2 Q25.07,37.7 23.19,45" stroke="#9a9a9a" stroke-width="1.0" fill="none" filter="url(#soft)"/><path d="M32.1,29.2 Q31.68,37.7 29.33,45" stroke="#9a9a9a" stroke-width="1.0" fill="none" filter="url(#soft)"/><ellipse cx="3.7" cy="28.5" rx="0.9" ry="1.1" fill="#8e8e8e"/><ellipse cx="8.5" cy="28.5" rx="0.9" ry="1.1" fill="#8e8e8e"/><path d="M3.9,17.3 Q3.9,15.5 6.1,15.5 Q8.3,15.5 8.3,17.3 L8.4,19.2 Q8.9,20.2 8.9,22.2 L9,27.2 Q9,29.5 7.7,29.7 L4.5,29.7 Q3.2,29.5 3.2,27.2 L3.3,22.2 Q3.3,20.2 3.8,19.2 Z" fill="url(#mg)" filter="url(#soft)"/><ellipse cx="10.1" cy="28.5" rx="0.9" ry="1.1" fill="#8e8e8e"/><ellipse cx="14.9" cy="28.5" rx="0.9" ry="1.1" fill="#8e8e8e"/><path d="M10.3,17.3 Q10.3,15.5 12.5,15.5 Q14.7,15.5 14.7,17.3 L14.8,19.2 Q15.3,20.2 15.3,22.2 L15.4,27.2 Q15.4,29.5 14.1,29.7 L10.9,29.7 Q9.6,29.5 9.6,27.2 L9.7,22.2 Q9.7,20.2 10.2,19.2 Z" fill="url(#mg)" filter="url(#soft)"/><ellipse cx="16.5" cy="28.5" rx="0.9" ry="1.1" fill="#8e8e8e"/><ellipse cx="21.3" cy="28.5" rx="0.9" ry="1.1" fill="#8e8e8e"/><path d="M16.7,17.3 Q16.7,15.5 18.9,15.5 Q21.1,15.5 21.1,17.3 L21.2,19.2 Q21.7,20.2 21.7,22.2 L21.8,27.2 Q21.8,29.5 20.5,29.7 L17.3,29.7 Q16,29.5 16,27.2 L16.1,22.2 Q16.1,20.2 16.6,19.2 Z" fill="url(#mg)" filter="url(#soft)"/><ellipse cx="23" cy="28.5" rx="0.9" ry="1.1" fill="#8e8e8e"/><ellipse cx="27.8" cy="28.5" rx="0.9" ry="1.1" fill="#8e8e8e"/><path d="M23.2,17.3 Q23.2,15.5 25.4,15.5 Q27.6,15.5 27.6,17.3 L27.7,19.2 Q28.2,20.2 28.2,22.2 L28.3,27.2 Q28.3,29.5 27,29.7 L23.8,29.7 Q22.5,29.5 22.5,27.2 L22.6,22.2 Q22.6,20.2 23.1,19.2 Z" fill="url(#mg)" filter="url(#soft)"/><ellipse cx="29.7" cy="28.5" rx="0.9" ry="1.1" fill="#8e8e8e"/><ellipse cx="34.5" cy="28.5" rx="0.9" ry="1.1" fill="#8e8e8e"/><path d="M29.9,17.3 Q29.9,15.5 32.1,15.5 Q34.3,15.5 34.3,17.3 L34.4,19.2 Q34.9,20.2 34.9,22.2 L35,27.2 Q35,29.5 33.7,29.7 L30.5,29.7 Q29.2,29.5 29.2,27.2 L29.3,22.2 Q29.3,20.2 29.8,19.2 Z" fill="url(#mg)" filter="url(#soft)"/><rect x="1" y="45.9" width="1.24" height="1.3" fill="#9c9c9c"/><rect x="2.77" y="45.9" width="0.76" height="1.3" fill="#9c9c9c"/><rect x="3.97" y="45.9" width="0.72" height="1.3" fill="#9c9c9c"/><rect x="4.97" y="45.9" width="1.25" height="1.3" fill="#9c9c9c"/><rect x="6.76" y="45.9" width="1.16" height="1.3" fill="#9c9c9c"/><rect x="8.24" y="45.9" width="1.04" height="1.3" fill="#9c9c9c"/><rect x="9.79" y="45.9" width="1.22" height="1.3" fill="#9c9c9c"/><rect x="11.28" y="45.9" width="1.07" height="1.3" fill="#9c9c9c"/><rect x="12.78" y="45.9" width="0.93" height="1.3" fill="#9c9c9c"/><rect x="13.99" y="45.9" width="1.21" height="1.3" fill="#9c9c9c"/><rect x="15.64" y="45.9" width="1.24" height="1.3" fill="#9c9c9c"/><rect x="17.33" y="45.9" width="1.19" height="1.3" fill="#9c9c9c"/><rect x="18.95" y="45.9" width="1.02" height="1.3" fill="#9c9c9c"/><rect x="20.37" y="45.9" width="0.81" height="1.3" fill="#9c9c9c"/></g>
<g transform="translate(250.5,228.1)"><rect x="0" y="0" width="39.3" height="48.5" fill="url(#cellbg)"/><rect x="0" y="0" width="39.3" height="1.2" fill="#0e0e0e"/><rect x="6" y="2.4" width="27.3" height="0.6" fill="#343434"/><rect x="6" y="3.9" width="27.3" height="0.6" fill="#343434"/><rect x="6" y="5.4" width="27.3" height="0.6" fill="#343434"/><rect x="6" y="6.9" width="27.3" height="0.6" fill="#343434"/><rect x="0" y="8.3" width="39.3" height="5.2" fill="#414141" opacity="0.55"/><rect x="3.6" y="0.8" width="3.2" height="7.6" rx="1.2" fill="#141414"/><path d="M3,8.2 Q3,12.4 5.2,12.4 Q7.4,12.4 7.4,8.2" fill="none" stroke="#1c1c1c" stroke-width="1.0"/><rect x="33.1" y="0.8" width="3.2" height="7.6" rx="1.2" fill="#141414"/><path d="M32.5,8.2 Q32.5,12.4 34.7,12.4 Q36.9,12.4 36.9,8.2" fill="none" stroke="#1c1c1c" stroke-width="1.0"/><path d="M6.8,29.7 Q6.92,38.2 7.59,45" stroke="#9a9a9a" stroke-width="1.0" fill="none" filter="url(#soft)"/><path d="M13.2,29.7 Q13.43,38.2 14.75,45" stroke="#9a9a9a" stroke-width="1.0" fill="none" filter="url(#soft)"/><path d="M19.5,29.7 Q19.78,38.2 21.39,45" stroke="#9a9a9a" stroke-width="1.0" fill="none" filter="url(#soft)"/><path d="M25.9,29.7 Q26.32,38.2 28.73,45" stroke="#9a9a9a" stroke-width="1.0" fill="none" filter="url(#soft)"/><path d="M32.3,29.7 Q32.53,38.2 33.84,45" stroke="#9a9a9a" stroke-width="1.0" fill="none" filter="url(#soft)"/><ellipse cx="4.4" cy="29" rx="0.9" ry="1.1" fill="#8e8e8e"/><ellipse cx="9.2" cy="29" rx="0.9" ry="1.1" fill="#8e8e8e"/><path d="M4.6,17.3 Q4.6,15.5 6.8,15.5 Q9,15.5 9,17.3 L9.1,19.2 Q9.6,20.2 9.6,22.2 L9.7,27.7 Q9.7,30 8.4,30.2 L5.2,30.2 Q3.9,30 3.9,27.7 L4,22.2 Q4,20.2 4.5,19.2 Z" fill="url(#mg)" filter="url(#soft)"/><ellipse cx="10.8" cy="29" rx="0.9" ry="1.1" fill="#8e8e8e"/><ellipse cx="15.6" cy="29" rx="0.9" ry="1.1" fill="#8e8e8e"/><path d="M11,17.3 Q11,15.5 13.2,15.5 Q15.4,15.5 15.4,17.3 L15.5,19.2 Q16,20.2 16,22.2 L16.1,27.7 Q16.1,30 14.8,30.2 L11.6,30.2 Q10.3,30 10.3,27.7 L10.4,22.2 Q10.4,20.2 10.9,19.2 Z" fill="url(#mg)" filter="url(#soft)"/><ellipse cx="17.1" cy="29" rx="0.9" ry="1.1" fill="#8e8e8e"/><ellipse cx="21.9" cy="29" rx="0.9" ry="1.1" fill="#8e8e8e"/><path d="M17.3,17.3 Q17.3,15.5 19.5,15.5 Q21.7,15.5 21.7,17.3 L21.8,19.2 Q22.3,20.2 22.3,22.2 L22.4,27.7 Q22.4,30 21.1,30.2 L17.9,30.2 Q16.6,30 16.6,27.7 L16.7,22.2 Q16.7,20.2 17.2,19.2 Z" fill="url(#mg)" filter="url(#soft)"/><ellipse cx="23.5" cy="29" rx="0.9" ry="1.1" fill="#8e8e8e"/><ellipse cx="28.3" cy="29" rx="0.9" ry="1.1" fill="#8e8e8e"/><path d="M23.7,17.3 Q23.7,15.5 25.9,15.5 Q28.1,15.5 28.1,17.3 L28.2,19.2 Q28.7,20.2 28.7,22.2 L28.8,27.7 Q28.8,30 27.5,30.2 L24.3,30.2 Q23,30 23,27.7 L23.1,22.2 Q23.1,20.2 23.6,19.2 Z" fill="url(#mg)" filter="url(#soft)"/><ellipse cx="29.9" cy="29" rx="0.9" ry="1.1" fill="#8e8e8e"/><ellipse cx="34.7" cy="29" rx="0.9" ry="1.1" fill="#8e8e8e"/><path d="M30.1,17.3 Q30.1,15.5 32.3,15.5 Q34.5,15.5 34.5,17.3 L34.6,19.2 Q35.1,20.2 35.1,22.2 L35.2,27.7 Q35.2,30 33.9,30.2 L30.7,30.2 Q29.4,30 29.4,27.7 L29.5,22.2 Q29.5,20.2 30,19.2 Z" fill="url(#mg)" filter="url(#soft)"/><rect x="1" y="45.9" width="0.62" height="1.3" fill="#9c9c9c"/><rect x="2.03" y="45.9" width="1.05" height="1.3" fill="#9c9c9c"/><rect x="4.85" y="45.9" width="0.93" height="1.3" fill="#9c9c9c"/><rect x="6.12" y="45.9" width="1" height="1.3" fill="#9c9c9c"/><rect x="7.37" y="45.9" width="0.8" height="1.3" fill="#9c9c9c"/><rect x="8.74" y="45.9" width="0.71" height="1.3" fill="#9c9c9c"/><rect x="9.98" y="45.9" width="1.03" height="1.3" fill="#9c9c9c"/><rect x="12.51" y="45.9" width="1.21" height="1.3" fill="#9c9c9c"/><rect x="14.04" y="45.9" width="1.29" height="1.3" fill="#9c9c9c"/><rect x="15.88" y="45.9" width="1.27" height="1.3" fill="#9c9c9c"/><rect x="17.6" y="45.9" width="0.74" height="1.3" fill="#9c9c9c"/><rect x="18.92" y="45.9" width="1.28" height="1.3" fill="#9c9c9c"/><rect x="20.76" y="45.9" width="0.85" height="1.3" fill="#9c9c9c"/><rect x="21.92" y="45.9" width="0.65" height="1.3" fill="#9c9c9c"/></g>
<g transform="translate(291.9,228.1)"><rect x="0" y="0" width="39.5" height="48.5" fill="url(#cellbg)"/><rect x="0" y="0" width="39.5" height="1.2" fill="#0e0e0e"/><rect x="6" y="2.4" width="27.5" height="0.6" fill="#343434"/><rect x="6" y="3.9" width="27.5" height="0.6" fill="#343434"/><rect x="6" y="5.4" width="27.5" height="0.6" fill="#343434"/><rect x="6" y="6.9" width="27.5" height="0.6" fill="#343434"/><rect x="0" y="8.3" width="39.5" height="5.2" fill="#414141" opacity="0.55"/><rect x="3.6" y="0.8" width="3.2" height="7.6" rx="1.2" fill="#141414"/><path d="M3,8.2 Q3,12.4 5.2,12.4 Q7.4,12.4 7.4,8.2" fill="none" stroke="#1c1c1c" stroke-width="1.0"/><rect x="33.3" y="0.8" width="3.2" height="7.6" rx="1.2" fill="#141414"/><path d="M32.7,8.2 Q32.7,12.4 34.9,12.4 Q37.1,12.4 37.1,8.2" fill="none" stroke="#1c1c1c" stroke-width="1.0"/><path d="M6.9,29.2 Q7.18,37.7 8.78,45" stroke="#9a9a9a" stroke-width="1.0" fill="none" filter="url(#soft)"/><path d="M13.3,29.2 Q13.61,37.7 15.36,45" stroke="#9a9a9a" stroke-width="1.0" fill="none" filter="url(#soft)"/><path d="M19.6,29.2 Q19.59,37.7 19.5,45" stroke="#9a9a9a" stroke-width="1.0" fill="none" filter="url(#soft)"/><path d="M26.5,29.2 Q26.27,37.7 24.97,45" stroke="#9a9a9a" stroke-width="1.0" fill="none" filter="url(#soft)"/><path d="M33.2,29.2 Q32.72,37.7 30,45" stroke="#9a9a9a" stroke-width="1.0" fill="none" filter="url(#soft)"/><ellipse cx="4.5" cy="28.5" rx="0.9" ry="1.1" fill="#8e8e8e"/><ellipse cx="9.3" cy="28.5" rx="0.9" ry="1.1" fill="#8e8e8e"/><path d="M4.7,17.5 Q4.7,15.7 6.9,15.7 Q9.1,15.7 9.1,17.5 L9.2,19.4 Q9.7,20.4 9.7,22.4 L9.8,27.2 Q9.8,29.5 8.5,29.7 L5.3,29.7 Q4,29.5 4,27.2 L4.1,22.4 Q4.1,20.4 4.6,19.4 Z" fill="url(#mg)" filter="url(#soft)"/><ellipse cx="10.9" cy="28.5" rx="0.9" ry="1.1" fill="#8e8e8e"/><ellipse cx="15.7" cy="28.5" rx="0.9" ry="1.1" fill="#8e8e8e"/><path d="M11.1,17.5 Q11.1,15.7 13.3,15.7 Q15.5,15.7 15.5,17.5 L15.6,19.4 Q16.1,20.4 16.1,22.4 L16.2,27.2 Q16.2,29.5 14.9,29.7 L11.7,29.7 Q10.4,29.5 10.4,27.2 L10.5,22.4 Q10.5,20.4 11,19.4 Z" fill="url(#mg)" filter="url(#soft)"/><ellipse cx="17.2" cy="28.5" rx="0.9" ry="1.1" fill="#8e8e8e"/><ellipse cx="22" cy="28.5" rx="0.9" ry="1.1" fill="#8e8e8e"/><path d="M17.4,17.5 Q17.4,15.7 19.6,15.7 Q21.8,15.7 21.8,17.5 L21.9,19.4 Q22.4,20.4 22.4,22.4 L22.5,27.2 Q22.5,29.5 21.2,29.7 L18,29.7 Q16.7,29.5 16.7,27.2 L16.8,22.4 Q16.8,20.4 17.3,19.4 Z" fill="url(#mg)" filter="url(#soft)"/><ellipse cx="24.1" cy="28.5" rx="0.9" ry="1.1" fill="#8e8e8e"/><ellipse cx="28.9" cy="28.5" rx="0.9" ry="1.1" fill="#8e8e8e"/><path d="M24.3,17.5 Q24.3,15.7 26.5,15.7 Q28.7,15.7 28.7,17.5 L28.8,19.4 Q29.3,20.4 29.3,22.4 L29.4,27.2 Q29.4,29.5 28.1,29.7 L24.9,29.7 Q23.6,29.5 23.6,27.2 L23.7,22.4 Q23.7,20.4 24.2,19.4 Z" fill="url(#mg)" filter="url(#soft)"/><ellipse cx="30.8" cy="28.5" rx="0.9" ry="1.1" fill="#8e8e8e"/><ellipse cx="35.6" cy="28.5" rx="0.9" ry="1.1" fill="#8e8e8e"/><path d="M31,17.5 Q31,15.7 33.2,15.7 Q35.4,15.7 35.4,17.5 L35.5,19.4 Q36,20.4 36,22.4 L36.1,27.2 Q36.1,29.5 34.8,29.7 L31.6,29.7 Q30.3,29.5 30.3,27.2 L30.4,22.4 Q30.4,20.4 30.9,19.4 Z" fill="url(#mg)" filter="url(#soft)"/><rect x="1" y="45.9" width="0.93" height="1.3" fill="#9c9c9c"/><rect x="2.45" y="45.9" width="1.14" height="1.3" fill="#9c9c9c"/><rect x="3.93" y="45.9" width="1.11" height="1.3" fill="#9c9c9c"/><rect x="5.44" y="45.9" width="1.08" height="1.3" fill="#9c9c9c"/><rect x="6.83" y="45.9" width="1.16" height="1.3" fill="#9c9c9c"/><rect x="8.34" y="45.9" width="1.08" height="1.3" fill="#9c9c9c"/><rect x="9.96" y="45.9" width="0.67" height="1.3" fill="#9c9c9c"/><rect x="11.16" y="45.9" width="0.91" height="1.3" fill="#9c9c9c"/><rect x="12.35" y="45.9" width="1.04" height="1.3" fill="#9c9c9c"/><rect x="13.75" y="45.9" width="1.01" height="1.3" fill="#9c9c9c"/><rect x="15.08" y="45.9" width="0.85" height="1.3" fill="#9c9c9c"/><rect x="16.51" y="45.9" width="0.96" height="1.3" fill="#9c9c9c"/><rect x="17.95" y="45.9" width="1.16" height="1.3" fill="#9c9c9c"/><rect x="20.9" y="45.9" width="0.85" height="1.3" fill="#9c9c9c"/></g>
<g transform="translate(333.8,228.1)"><rect x="0" y="0" width="39.5" height="48.5" fill="url(#cellbg)"/><rect x="0" y="0" width="39.5" height="1.2" fill="#0e0e0e"/><rect x="6" y="2.4" width="27.5" height="0.6" fill="#343434"/><rect x="6" y="3.9" width="27.5" height="0.6" fill="#343434"/><rect x="6" y="5.4" width="27.5" height="0.6" fill="#343434"/><rect x="6" y="6.9" width="27.5" height="0.6" fill="#343434"/><rect x="0" y="8.3" width="39.5" height="5.2" fill="#414141" opacity="0.55"/><rect x="3.6" y="0.8" width="3.2" height="7.6" rx="1.2" fill="#141414"/><path d="M3,8.2 Q3,12.4 5.2,12.4 Q7.4,12.4 7.4,8.2" fill="none" stroke="#1c1c1c" stroke-width="1.0"/><rect x="33.3" y="0.8" width="3.2" height="7.6" rx="1.2" fill="#141414"/><path d="M32.7,8.2 Q32.7,12.4 34.9,12.4 Q37.1,12.4 37.1,8.2" fill="none" stroke="#1c1c1c" stroke-width="1.0"/><path d="M7,29.7 Q6.83,38.2 5.87,45" stroke="#9a9a9a" stroke-width="1.0" fill="none" filter="url(#soft)"/><path d="M12.9,29.7 Q12.56,38.2 10.67,45" stroke="#9a9a9a" stroke-width="1.0" fill="none" filter="url(#soft)"/><path d="M19.2,29.7 Q19.34,38.2 20.17,45" stroke="#9a9a9a" stroke-width="1.0" fill="none" filter="url(#soft)"/><path d="M26,29.7 Q25.59,38.2 23.26,45" stroke="#9a9a9a" stroke-width="1.0" fill="none" filter="url(#soft)"/><path d="M32.5,29.7 Q32.53,38.2 32.73,45" stroke="#9a9a9a" stroke-width="1.0" fill="none" filter="url(#soft)"/><ellipse cx="4.6" cy="29" rx="0.9" ry="1.1" fill="#8e8e8e"/><ellipse cx="9.4" cy="29" rx="0.9" ry="1.1" fill="#8e8e8e"/><path d="M4.8,17.5 Q4.8,15.7 7,15.7 Q9.2,15.7 9.2,17.5 L9.3,19.4 Q9.8,20.4 9.8,22.4 L9.9,27.7 Q9.9,30 8.6,30.2 L5.4,30.2 Q4.1,30 4.1,27.7 L4.2,22.4 Q4.2,20.4 4.7,19.4 Z" fill="url(#mg)" filter="url(#soft)"/><ellipse cx="10.5" cy="29" rx="0.9" ry="1.1" fill="#8e8e8e"/><ellipse cx="15.3" cy="29" rx="0.9" ry="1.1" fill="#8e8e8e"/><path d="M10.7,17.5 Q10.7,15.7 12.9,15.7 Q15.1,15.7 15.1,17.5 L15.2,19.4 Q15.7,20.4 15.7,22.4 L15.8,27.7 Q15.8,30 14.5,30.2 L11.3,30.2 Q10,30 10,27.7 L10.1,22.4 Q10.1,20.4 10.6,19.4 Z" fill="url(#mg)" filter="url(#soft)"/><ellipse cx="16.8" cy="29" rx="0.9" ry="1.1" fill="#8e8e8e"/><ellipse cx="21.6" cy="29" rx="0.9" ry="1.1" fill="#8e8e8e"/><path d="M17,17.5 Q17,15.7 19.2,15.7 Q21.4,15.7 21.4,17.5 L21.5,19.4 Q22,20.4 22,22.4 L22.1,27.7 Q22.1,30 20.8,30.2 L17.6,30.2 Q16.3,30 16.3,27.7 L16.4,22.4 Q16.4,20.4 16.9,19.4 Z" fill="url(#mg)" filter="url(#soft)"/><ellipse cx="23.6" cy="29" rx="0.9" ry="1.1" fill="#8e8e8e"/><ellipse cx="28.4" cy="29" rx="0.9" ry="1.1" fill="#8e8e8e"/><path d="M23.8,17.5 Q23.8,15.7 26,15.7 Q28.2,15.7 28.2,17.5 L28.3,19.4 Q28.8,20.4 28.8,22.4 L28.9,27.7 Q28.9,30 27.6,30.2 L24.4,30.2 Q23.1,30 23.1,27.7 L23.2,22.4 Q23.2,20.4 23.7,19.4 Z" fill="url(#mg)" filter="url(#soft)"/><ellipse cx="30.1" cy="29" rx="0.9" ry="1.1" fill="#8e8e8e"/><ellipse cx="34.9" cy="29" rx="0.9" ry="1.1" fill="#8e8e8e"/><path d="M30.3,17.5 Q30.3,15.7 32.5,15.7 Q34.7,15.7 34.7,17.5 L34.8,19.4 Q35.3,20.4 35.3,22.4 L35.4,27.7 Q35.4,30 34.1,30.2 L30.9,30.2 Q29.6,30 29.6,27.7 L29.7,22.4 Q29.7,20.4 30.2,19.4 Z" fill="url(#mg)" filter="url(#soft)"/><rect x="1" y="45.9" width="0.64" height="1.3" fill="#9c9c9c"/><rect x="3.27" y="45.9" width="0.9" height="1.3" fill="#9c9c9c"/><rect x="5.65" y="45.9" width="0.9" height="1.3" fill="#9c9c9c"/><rect x="7.08" y="45.9" width="0.76" height="1.3" fill="#9c9c9c"/><rect x="8.31" y="45.9" width="1" height="1.3" fill="#9c9c9c"/><rect x="9.7" y="45.9" width="0.63" height="1.3" fill="#9c9c9c"/><rect x="10.88" y="45.9" width="0.7" height="1.3" fill="#9c9c9c"/><rect x="11.88" y="45.9" width="1.17" height="1.3" fill="#9c9c9c"/><rect x="13.36" y="45.9" width="1.05" height="1.3" fill="#9c9c9c"/><rect x="14.79" y="45.9" width="0.64" height="1.3" fill="#9c9c9c"/><rect x="15.7" y="45.9" width="1.08" height="1.3" fill="#9c9c9c"/><rect x="17.18" y="45.9" width="1.01" height="1.3" fill="#9c9c9c"/><rect x="18.6" y="45.9" width="1.16" height="1.3" fill="#9c9c9c"/><rect x="20.25" y="45.9" width="1" height="1.3" fill="#9c9c9c"/></g>
<g transform="translate(43.8,279.2)"><rect x="0" y="0" width="38.6" height="47.7" fill="url(#cellbg)"/><rect x="0" y="0" width="38.6" height="1.2" fill="#0e0e0e"/><rect x="6" y="2.4" width="26.6" height="0.6" fill="#343434"/><rect x="6" y="3.9" width="26.6" height="0.6" fill="#343434"/><rect x="6" y="5.4" width="26.6" height="0.6" fill="#343434"/><rect x="6" y="6.9" width="26.6" height="0.6" fill="#343434"/><rect x="0" y="8.3" width="38.6" height="5.2" fill="#414141" opacity="0.55"/><rect x="3.6" y="0.8" width="3.2" height="7.6" rx="1.2" fill="#141414"/><path d="M3,8.2 Q3,12.4 5.2,12.4 Q7.4,12.4 7.4,8.2" fill="none" stroke="#1c1c1c" stroke-width="1.0"/><rect x="32.4" y="0.8" width="3.2" height="7.6" rx="1.2" fill="#141414"/><path d="M31.8,8.2 Q31.8,12.4 34,12.4 Q36.2,12.4 36.2,8.2" fill="none" stroke="#1c1c1c" stroke-width="1.0"/><path d="M4.8,30.2 Q4.87,38.7 5.26,44.2" stroke="#9a9a9a" stroke-width="1.0" fill="none" filter="url(#soft)"/><path d="M11.5,30.2 Q11.43,38.7 11.04,44.2" stroke="#9a9a9a" stroke-width="1.0" fill="none" filter="url(#soft)"/><path d="M18.4,30.2 Q18.47,38.7 18.9,44.2" stroke="#9a9a9a" stroke-width="1.0" fill="none" filter="url(#soft)"/><path d="M24.7,30.2 Q24.42,38.7 22.82,44.2" stroke="#9a9a9a" stroke-width="1.0" fill="none" filter="url(#soft)"/><path d="M31.1,30.2 Q31.4,38.7 33.11,44.2" stroke="#9a9a9a" stroke-width="1.0" fill="none" filter="url(#soft)"/><ellipse cx="2.4" cy="29.5" rx="0.9" ry="1.1" fill="#8e8e8e"/><ellipse cx="7.2" cy="29.5" rx="0.9" ry="1.1" fill="#8e8e8e"/><path d="M2.6,16.4 Q2.6,14.6 4.8,14.6 Q7,14.6 7,16.4 L7.1,18.3 Q7.6,19.3 7.6,21.3 L7.7,28.2 Q7.7,30.5 6.4,30.7 L3.2,30.7 Q1.9,30.5 1.9,28.2 L2,21.3 Q2,19.3 2.5,18.3 Z" fill="url(#mg)" filter="url(#soft)"/><ellipse cx="9.1" cy="29.5" rx="0.9" ry="1.1" fill="#8e8e8e"/><ellipse cx="13.9" cy="29.5" rx="0.9" ry="1.1" fill="#8e8e8e"/><path d="M9.3,16.4 Q9.3,14.6 11.5,14.6 Q13.7,14.6 13.7,16.4 L13.8,18.3 Q14.3,19.3 14.3,21.3 L14.4,28.2 Q14.4,30.5 13.1,30.7 L9.9,30.7 Q8.6,30.5 8.6,28.2 L8.7,21.3 Q8.7,19.3 9.2,18.3 Z" fill="url(#mg)" filter="url(#soft)"/><ellipse cx="16" cy="29.5" rx="0.9" ry="1.1" fill="#8e8e8e"/><ellipse cx="20.8" cy="29.5" rx="0.9" ry="1.1" fill="#8e8e8e"/><path d="M16.2,16.4 Q16.2,14.6 18.4,14.6 Q20.6,14.6 20.6,16.4 L20.7,18.3 Q21.2,19.3 21.2,21.3 L21.3,28.2 Q21.3,30.5 20,30.7 L16.8,30.7 Q15.5,30.5 15.5,28.2 L15.6,21.3 Q15.6,19.3 16.1,18.3 Z" fill="url(#mg)" filter="url(#soft)"/><ellipse cx="22.3" cy="29.5" rx="0.9" ry="1.1" fill="#8e8e8e"/><ellipse cx="27.1" cy="29.5" rx="0.9" ry="1.1" fill="#8e8e8e"/><path d="M22.5,16.4 Q22.5,14.6 24.7,14.6 Q26.9,14.6 26.9,16.4 L27,18.3 Q27.5,19.3 27.5,21.3 L27.6,28.2 Q27.6,30.5 26.3,30.7 L23.1,30.7 Q21.8,30.5 21.8,28.2 L21.9,21.3 Q21.9,19.3 22.4,18.3 Z" fill="url(#mg)" filter="url(#soft)"/><ellipse cx="28.7" cy="29.5" rx="0.9" ry="1.1" fill="#8e8e8e"/><ellipse cx="33.5" cy="29.5" rx="0.9" ry="1.1" fill="#8e8e8e"/><path d="M28.9,16.4 Q28.9,14.6 31.1,14.6 Q33.3,14.6 33.3,16.4 L33.4,18.3 Q33.9,19.3 33.9,21.3 L34,28.2 Q34,30.5 32.7,30.7 L29.5,30.7 Q28.2,30.5 28.2,28.2 L28.3,21.3 Q28.3,19.3 28.8,18.3 Z" fill="url(#mg)" filter="url(#soft)"/><g filter="url(#soft)"><ellipse cx="4.8" cy="28.4" rx="3" ry="2.4" fill="url(#bB)"/><ellipse cx="8.2" cy="28.7" rx="1.8" ry="1.8" fill="url(#bB)"/><ellipse cx="11.5" cy="28.4" rx="3" ry="2.6" fill="url(#bB)"/><ellipse cx="12.08" cy="28.64" rx="1.05" ry="0.91" fill="#30b8f0"/><ellipse cx="15" cy="28.7" rx="1.8" ry="1.8" fill="url(#bB)"/><ellipse cx="18.4" cy="28.7" rx="2.8" ry="2.2" fill="url(#bB)"/><ellipse cx="21.6" cy="28.9" rx="1.8" ry="1.6" fill="url(#bB)"/><ellipse cx="24.7" cy="28.1" rx="2.8" ry="2.4" fill="url(#bB)"/><ellipse cx="28" cy="28.7" rx="1.8" ry="1.6" fill="url(#bB)"/><ellipse cx="31.1" cy="28.1" rx="3" ry="2.4" fill="url(#bB)"/><ellipse cx="30.49" cy="28.13" rx="1.05" ry="0.84" fill="#30b8f0"/><ellipse cx="33.5" cy="28" rx="1.5" ry="1.5" fill="url(#bB)"/><ellipse cx="10.6" cy="16.5" rx="1.5" ry="1.5" fill="url(#bB)"/><ellipse cx="11" cy="19.7" rx="1.2" ry="1.2" fill="url(#bB)"/><ellipse cx="11.8" cy="22.5" rx="1.3" ry="1.3" fill="url(#bB)"/><ellipse cx="19.3" cy="17.3" rx="1.5" ry="1.3" fill="url(#bB)"/><ellipse cx="30.7" cy="15.4" rx="1.6" ry="1.3" fill="url(#bB)"/><ellipse cx="31.1" cy="18.9" rx="1.3" ry="1.3" fill="url(#bB)"/><ellipse cx="24.8" cy="15.4" rx="1.2" ry="1" fill="url(#bB)"/><ellipse cx="6" cy="19.5" rx="0.8" ry="0.8" fill="#7a2ad8"/></g><rect x="1" y="45.1" width="0.77" height="1.3" fill="#9c9c9c"/><rect x="2.36" y="45.1" width="0.63" height="1.3" fill="#9c9c9c"/><rect x="3.54" y="45.1" width="0.87" height="1.3" fill="#9c9c9c"/><rect x="4.76" y="45.1" width="0.92" height="1.3" fill="#9c9c9c"/><rect x="6.17" y="45.1" width="0.69" height="1.3" fill="#9c9c9c"/><rect x="7.38" y="45.1" width="1.28" height="1.3" fill="#9c9c9c"/><rect x="10.32" y="45.1" width="0.6" height="1.3" fill="#9c9c9c"/><rect x="11.22" y="45.1" width="0.81" height="1.3" fill="#9c9c9c"/><rect x="12.41" y="45.1" width="0.82" height="1.3" fill="#9c9c9c"/><rect x="13.67" y="45.1" width="0.65" height="1.3" fill="#9c9c9c"/><rect x="14.77" y="45.1" width="0.71" height="1.3" fill="#9c9c9c"/><rect x="15.81" y="45.1" width="0.63" height="1.3" fill="#9c9c9c"/><rect x="16.86" y="45.1" width="1.06" height="1.3" fill="#9c9c9c"/><rect x="18.36" y="45.1" width="0.7" height="1.3" fill="#9c9c9c"/><rect x="19.51" y="45.1" width="1.02" height="1.3" fill="#9c9c9c"/></g>
<g transform="translate(84.1,279.2)"><rect x="0" y="0" width="39.8" height="47.7" fill="url(#cellbg)"/><rect x="0" y="0" width="39.8" height="1.2" fill="#0e0e0e"/><rect x="6" y="2.4" width="27.8" height="0.6" fill="#343434"/><rect x="6" y="3.9" width="27.8" height="0.6" fill="#343434"/><rect x="6" y="5.4" width="27.8" height="0.6" fill="#343434"/><rect x="6" y="6.9" width="27.8" height="0.6" fill="#343434"/><rect x="0" y="8.3" width="39.8" height="5.2" fill="#414141" opacity="0.55"/><rect x="3.6" y="0.8" width="3.2" height="7.6" rx="1.2" fill="#141414"/><path d="M3,8.2 Q3,12.4 5.2,12.4 Q7.4,12.4 7.4,8.2" fill="none" stroke="#1c1c1c" stroke-width="1.0"/><rect x="33.6" y="0.8" width="3.2" height="7.6" rx="1.2" fill="#141414"/><path d="M33,8.2 Q33,12.4 35.2,12.4 Q37.4,12.4 37.4,8.2" fill="none" stroke="#1c1c1c" stroke-width="1.0"/><path d="M6.8,31 Q6.75,39.5 6.5,44.2" stroke="#9a9a9a" stroke-width="1.0" fill="none" filter="url(#soft)"/><path d="M14,31 Q14.06,39.5 14.38,44.2" stroke="#9a9a9a" stroke-width="1.0" fill="none" filter="url(#soft)"/><path d="M20.4,31 Q20.81,39.5 23.11,44.2" stroke="#9a9a9a" stroke-width="1.0" fill="none" filter="url(#soft)"/><path d="M26.7,31 Q26.67,39.5 26.48,44.2" stroke="#9a9a9a" stroke-width="1.0" fill="none" filter="url(#soft)"/><path d="M33.1,31 Q33.11,39.5 33.15,44.2" stroke="#9a9a9a" stroke-width="1.0" fill="none" filter="url(#soft)"/><ellipse cx="4.4" cy="30.3" rx="0.9" ry="1.1" fill="#8e8e8e"/><ellipse cx="9.2" cy="30.3" rx="0.9" ry="1.1" fill="#8e8e8e"/><path d="M4.6,17.2 Q4.6,15.4 6.8,15.4 Q9,15.4 9,17.2 L9.1,19.1 Q9.6,20.1 9.6,22.1 L9.7,29 Q9.7,31.3 8.4,31.5 L5.2,31.5 Q3.9,31.3 3.9,29 L4,22.1 Q4,20.1 4.5,19.1 Z" fill="url(#mg)" filter="url(#soft)"/><ellipse cx="11.6" cy="30.3" rx="0.9" ry="1.1" fill="#8e8e8e"/><ellipse cx="16.4" cy="30.3" rx="0.9" ry="1.1" fill="#8e8e8e"/><path d="M11.8,17.2 Q11.8,15.4 14,15.4 Q16.2,15.4 16.2,17.2 L16.3,19.1 Q16.8,20.1 16.8,22.1 L16.9,29 Q16.9,31.3 15.6,31.5 L12.4,31.5 Q11.1,31.3 11.1,29 L11.2,22.1 Q11.2,20.1 11.7,19.1 Z" fill="url(#mg)" filter="url(#soft)"/><ellipse cx="18" cy="30.3" rx="0.9" ry="1.1" fill="#8e8e8e"/><ellipse cx="22.8" cy="30.3" rx="0.9" ry="1.1" fill="#8e8e8e"/><path d="M18.2,17.2 Q18.2,15.4 20.4,15.4 Q22.6,15.4 22.6,17.2 L22.7,19.1 Q23.2,20.1 23.2,22.1 L23.3,29 Q23.3,31.3 22,31.5 L18.8,31.5 Q17.5,31.3 17.5,29 L17.6,22.1 Q17.6,20.1 18.1,19.1 Z" fill="url(#mg)" filter="url(#soft)"/><ellipse cx="24.3" cy="30.3" rx="0.9" ry="1.1" fill="#8e8e8e"/><ellipse cx="29.1" cy="30.3" rx="0.9" ry="1.1" fill="#8e8e8e"/><path d="M24.5,17.2 Q24.5,15.4 26.7,15.4 Q28.9,15.4 28.9,17.2 L29,19.1 Q29.5,20.1 29.5,22.1 L29.6,29 Q29.6,31.3 28.3,31.5 L25.1,31.5 Q23.8,31.3 23.8,29 L23.9,22.1 Q23.9,20.1 24.4,19.1 Z" fill="url(#mg)" filter="url(#soft)"/><ellipse cx="30.7" cy="30.3" rx="0.9" ry="1.1" fill="#8e8e8e"/><ellipse cx="35.5" cy="30.3" rx="0.9" ry="1.1" fill="#8e8e8e"/><path d="M30.9,17.2 Q30.9,15.4 33.1,15.4 Q35.3,15.4 35.3,17.2 L35.4,19.1 Q35.9,20.1 35.9,22.1 L36,29 Q36,31.3 34.7,31.5 L31.5,31.5 Q30.2,31.3 30.2,29 L30.3,22.1 Q30.3,20.1 30.8,19.1 Z" fill="url(#mg)" filter="url(#soft)"/><g filter="url(#soft)"><ellipse cx="7.4" cy="26.5" rx="2.4" ry="4.5" fill="url(#bB)"/><ellipse cx="14" cy="26.5" rx="3.3" ry="5.5" fill="url(#bB)"/><ellipse cx="14.17" cy="25.46" rx="1.15" ry="1.15" fill="#30b8f0"/><ellipse cx="14.5" cy="16" rx="1.3" ry="1.3" fill="url(#bB)"/><ellipse cx="20.4" cy="25.3" rx="2.3" ry="3.3" fill="url(#bB)"/><ellipse cx="26.9" cy="26.5" rx="2.5" ry="4.3" fill="url(#bB)"/><ellipse cx="33.4" cy="26" rx="2.6" ry="2.8" fill="url(#bB)"/><ellipse cx="32" cy="20.5" rx="1" ry="1" fill="url(#bB)"/><ellipse cx="19.7" cy="21" rx="1.2" ry="1.2" fill="url(#bB)"/></g><rect x="1" y="45.1" width="1.04" height="1.3" fill="#9c9c9c"/><rect x="3.77" y="45.1" width="0.81" height="1.3" fill="#9c9c9c"/><rect x="4.86" y="45.1" width="1.09" height="1.3" fill="#9c9c9c"/><rect x="6.21" y="45.1" width="1.28" height="1.3" fill="#9c9c9c"/><rect x="7.97" y="45.1" width="0.71" height="1.3" fill="#9c9c9c"/><rect x="8.93" y="45.1" width="0.64" height="1.3" fill="#9c9c9c"/><rect x="9.89" y="45.1" width="0.62" height="1.3" fill="#9c9c9c"/><rect x="10.92" y="45.1" width="1.19" height="1.3" fill="#9c9c9c"/><rect x="12.55" y="45.1" width="0.95" height="1.3" fill="#9c9c9c"/><rect x="13.98" y="45.1" width="0.79" height="1.3" fill="#9c9c9c"/><rect x="15.37" y="45.1" width="1.19" height="1.3" fill="#9c9c9c"/><rect x="17.06" y="45.1" width="0.76" height="1.3" fill="#9c9c9c"/><rect x="19.37" y="45.1" width="1.14" height="1.3" fill="#9c9c9c"/><rect x="20.9" y="45.1" width="0.87" height="1.3" fill="#9c9c9c"/></g>
<g transform="translate(126.1,279.2)"><rect x="0" y="0" width="39.8" height="47.7" fill="url(#cellbg)"/><rect x="0" y="0" width="39.8" height="1.2" fill="#0e0e0e"/><rect x="6" y="2.4" width="27.8" height="0.6" fill="#343434"/><rect x="6" y="3.9" width="27.8" height="0.6" fill="#343434"/><rect x="6" y="5.4" width="27.8" height="0.6" fill="#343434"/><rect x="6" y="6.9" width="27.8" height="0.6" fill="#343434"/><rect x="0" y="8.3" width="39.8" height="5.2" fill="#414141" opacity="0.55"/><rect x="3.6" y="0.8" width="3.2" height="7.6" rx="1.2" fill="#141414"/><path d="M3,8.2 Q3,12.4 5.2,12.4 Q7.4,12.4 7.4,8.2" fill="none" stroke="#1c1c1c" stroke-width="1.0"/><rect x="33.6" y="0.8" width="3.2" height="7.6" rx="1.2" fill="#141414"/><path d="M33,8.2 Q33,12.4 35.2,12.4 Q37.4,12.4 37.4,8.2" fill="none" stroke="#1c1c1c" stroke-width="1.0"/><path d="M7.7,30.2 Q7.68,38.7 7.54,44.2" stroke="#9a9a9a" stroke-width="1.0" fill="none" filter="url(#soft)"/><path d="M14.5,30.2 Q14.65,38.7 15.51,44.2" stroke="#9a9a9a" stroke-width="1.0" fill="none" filter="url(#soft)"/><path d="M21.2,30.2 Q21.36,38.7 22.27,44.2" stroke="#9a9a9a" stroke-width="1.0" fill="none" filter="url(#soft)"/><path d="M27.6,30.2 Q27.26,38.7 25.31,44.2" stroke="#9a9a9a" stroke-width="1.0" fill="none" filter="url(#soft)"/><path d="M34.3,30.2 Q33.83,38.7 31.17,44.2" stroke="#9a9a9a" stroke-width="1.0" fill="none" filter="url(#soft)"/><ellipse cx="5.3" cy="29.5" rx="0.9" ry="1.1" fill="#8e8e8e"/><ellipse cx="10.1" cy="29.5" rx="0.9" ry="1.1" fill="#8e8e8e"/><path d="M5.5,15.6 Q5.5,13.8 7.7,13.8 Q9.9,13.8 9.9,15.6 L10,17.5 Q10.5,18.5 10.5,20.5 L10.6,28.2 Q10.6,30.5 9.3,30.7 L6.1,30.7 Q4.8,30.5 4.8,28.2 L4.9,20.5 Q4.9,18.5 5.4,17.5 Z" fill="url(#mg)" filter="url(#soft)"/><ellipse cx="12.1" cy="29.5" rx="0.9" ry="1.1" fill="#8e8e8e"/><ellipse cx="16.9" cy="29.5" rx="0.9" ry="1.1" fill="#8e8e8e"/><path d="M12.3,15.6 Q12.3,13.8 14.5,13.8 Q16.7,13.8 16.7,15.6 L16.8,17.5 Q17.3,18.5 17.3,20.5 L17.4,28.2 Q17.4,30.5 16.1,30.7 L12.9,30.7 Q11.6,30.5 11.6,28.2 L11.7,20.5 Q11.7,18.5 12.2,17.5 Z" fill="url(#mg)" filter="url(#soft)"/><ellipse cx="18.8" cy="29.5" rx="0.9" ry="1.1" fill="#8e8e8e"/><ellipse cx="23.6" cy="29.5" rx="0.9" ry="1.1" fill="#8e8e8e"/><path d="M19,15.6 Q19,13.8 21.2,13.8 Q23.4,13.8 23.4,15.6 L23.5,17.5 Q24,18.5 24,20.5 L24.1,28.2 Q24.1,30.5 22.8,30.7 L19.6,30.7 Q18.3,30.5 18.3,28.2 L18.4,20.5 Q18.4,18.5 18.9,17.5 Z" fill="url(#mg)" filter="url(#soft)"/><ellipse cx="25.2" cy="29.5" rx="0.9" ry="1.1" fill="#8e8e8e"/><ellipse cx="30" cy="29.5" rx="0.9" ry="1.1" fill="#8e8e8e"/><path d="M25.4,15.6 Q25.4,13.8 27.6,13.8 Q29.8,13.8 29.8,15.6 L29.9,17.5 Q30.4,18.5 30.4,20.5 L30.5,28.2 Q30.5,30.5 29.2,30.7 L26,30.7 Q24.7,30.5 24.7,28.2 L24.8,20.5 Q24.8,18.5 25.3,17.5 Z" fill="url(#mg)" filter="url(#soft)"/><ellipse cx="31.9" cy="29.5" rx="0.9" ry="1.1" fill="#8e8e8e"/><ellipse cx="36.7" cy="29.5" rx="0.9" ry="1.1" fill="#8e8e8e"/><path d="M32.1,15.6 Q32.1,13.8 34.3,13.8 Q36.5,13.8 36.5,15.6 L36.6,17.5 Q37.1,18.5 37.1,20.5 L37.2,28.2 Q37.2,30.5 35.9,30.7 L32.7,30.7 Q31.4,30.5 31.4,28.2 L31.5,20.5 Q31.5,18.5 32,17.5 Z" fill="url(#mg)" filter="url(#soft)"/><g filter="url(#soft)"><ellipse cx="7.1" cy="26.7" rx="2" ry="2.2" fill="url(#bB)"/><ellipse cx="10.9" cy="27.3" rx="2" ry="2.6" fill="url(#bB)"/><ellipse cx="19.3" cy="26.6" rx="1.3" ry="1.5" fill="url(#bB)"/><ellipse cx="24.8" cy="26.6" rx="1.6" ry="1.2" fill="url(#bB)"/><ellipse cx="29.7" cy="27.2" rx="0.8" ry="0.8" fill="#7a2ad8"/><ellipse cx="26.5" cy="30.7" rx="0.8" ry="0.8" fill="#7a2ad8"/><ellipse cx="8.5" cy="29.5" rx="1" ry="0.8" fill="#7a2ad8"/><ellipse cx="28" cy="17.5" rx="0.6" ry="0.6" fill="#7a2ad8"/></g><rect x="1" y="45.1" width="0.79" height="1.3" fill="#9c9c9c"/><rect x="2.33" y="45.1" width="1.02" height="1.3" fill="#9c9c9c"/><rect x="3.79" y="45.1" width="0.7" height="1.3" fill="#9c9c9c"/><rect x="4.9" y="45.1" width="1.23" height="1.3" fill="#9c9c9c"/><rect x="6.4" y="45.1" width="0.65" height="1.3" fill="#9c9c9c"/><rect x="7.55" y="45.1" width="0.88" height="1.3" fill="#9c9c9c"/><rect x="10.17" y="45.1" width="0.64" height="1.3" fill="#9c9c9c"/><rect x="11.39" y="45.1" width="0.66" height="1.3" fill="#9c9c9c"/><rect x="12.65" y="45.1" width="0.68" height="1.3" fill="#9c9c9c"/><rect x="13.72" y="45.1" width="0.82" height="1.3" fill="#9c9c9c"/><rect x="15.01" y="45.1" width="1.09" height="1.3" fill="#9c9c9c"/><rect x="16.36" y="45.1" width="1.17" height="1.3" fill="#9c9c9c"/><rect x="17.93" y="45.1" width="1.02" height="1.3" fill="#9c9c9c"/><rect x="19.36" y="45.1" width="0.62" height="1.3" fill="#9c9c9c"/><rect x="20.48" y="45.1" width="1.28" height="1.3" fill="#9c9c9c"/></g>
<g transform="translate(168.1,279.2)"><rect x="0" y="0" width="39.1" height="47.7" fill="url(#cellbg)"/><rect x="0" y="0" width="39.1" height="1.2" fill="#0e0e0e"/><rect x="6" y="2.4" width="27.1" height="0.6" fill="#343434"/><rect x="6" y="3.9" width="27.1" height="0.6" fill="#343434"/><rect x="6" y="5.4" width="27.1" height="0.6" fill="#343434"/><rect x="6" y="6.9" width="27.1" height="0.6" fill="#343434"/><rect x="0" y="8.3" width="39.1" height="5.2" fill="#414141" opacity="0.55"/><rect x="3.6" y="0.8" width="3.2" height="7.6" rx="1.2" fill="#141414"/><path d="M3,8.2 Q3,12.4 5.2,12.4 Q7.4,12.4 7.4,8.2" fill="none" stroke="#1c1c1c" stroke-width="1.0"/><rect x="32.9" y="0.8" width="3.2" height="7.6" rx="1.2" fill="#141414"/><path d="M32.3,8.2 Q32.3,12.4 34.5,12.4 Q36.7,12.4 36.7,8.2" fill="none" stroke="#1c1c1c" stroke-width="1.0"/><path d="M7.7,30.2 Q7.47,38.7 6.16,44.2" stroke="#9a9a9a" stroke-width="1.0" fill="none" filter="url(#soft)"/><path d="M14,30.2 Q14.18,38.7 15.19,44.2" stroke="#9a9a9a" stroke-width="1.0" fill="none" filter="url(#soft)"/><path d="M20.4,30.2 Q20.58,38.7 21.58,44.2" stroke="#9a9a9a" stroke-width="1.0" fill="none" filter="url(#soft)"/><path d="M26.8,30.2 Q27.14,38.7 29.04,44.2" stroke="#9a9a9a" stroke-width="1.0" fill="none" filter="url(#soft)"/><path d="M33.5,30.2 Q33.2,38.7 31.49,44.2" stroke="#9a9a9a" stroke-width="1.0" fill="none" filter="url(#soft)"/><ellipse cx="5.3" cy="29.5" rx="0.9" ry="1.1" fill="#8e8e8e"/><ellipse cx="10.1" cy="29.5" rx="0.9" ry="1.1" fill="#8e8e8e"/><path d="M5.5,15.6 Q5.5,13.8 7.7,13.8 Q9.9,13.8 9.9,15.6 L10,17.5 Q10.5,18.5 10.5,20.5 L10.6,28.2 Q10.6,30.5 9.3,30.7 L6.1,30.7 Q4.8,30.5 4.8,28.2 L4.9,20.5 Q4.9,18.5 5.4,17.5 Z" fill="url(#mg)" filter="url(#soft)"/><ellipse cx="11.6" cy="29.5" rx="0.9" ry="1.1" fill="#8e8e8e"/><ellipse cx="16.4" cy="29.5" rx="0.9" ry="1.1" fill="#8e8e8e"/><path d="M11.8,15.6 Q11.8,13.8 14,13.8 Q16.2,13.8 16.2,15.6 L16.3,17.5 Q16.8,18.5 16.8,20.5 L16.9,28.2 Q16.9,30.5 15.6,30.7 L12.4,30.7 Q11.1,30.5 11.1,28.2 L11.2,20.5 Q11.2,18.5 11.7,17.5 Z" fill="url(#mg)" filter="url(#soft)"/><ellipse cx="18" cy="29.5" rx="0.9" ry="1.1" fill="#8e8e8e"/><ellipse cx="22.8" cy="29.5" rx="0.9" ry="1.1" fill="#8e8e8e"/><path d="M18.2,15.6 Q18.2,13.8 20.4,13.8 Q22.6,13.8 22.6,15.6 L22.7,17.5 Q23.2,18.5 23.2,20.5 L23.3,28.2 Q23.3,30.5 22,30.7 L18.8,30.7 Q17.5,30.5 17.5,28.2 L17.6,20.5 Q17.6,18.5 18.1,17.5 Z" fill="url(#mg)" filter="url(#soft)"/><ellipse cx="24.4" cy="29.5" rx="0.9" ry="1.1" fill="#8e8e8e"/><ellipse cx="29.2" cy="29.5" rx="0.9" ry="1.1" fill="#8e8e8e"/><path d="M24.6,15.6 Q24.6,13.8 26.8,13.8 Q29,13.8 29,15.6 L29.1,17.5 Q29.6,18.5 29.6,20.5 L29.7,28.2 Q29.7,30.5 28.4,30.7 L25.2,30.7 Q23.9,30.5 23.9,28.2 L24,20.5 Q24,18.5 24.5,17.5 Z" fill="url(#mg)" filter="url(#soft)"/><ellipse cx="31.1" cy="29.5" rx="0.9" ry="1.1" fill="#8e8e8e"/><ellipse cx="35.9" cy="29.5" rx="0.9" ry="1.1" fill="#8e8e8e"/><path d="M31.3,15.6 Q31.3,13.8 33.5,13.8 Q35.7,13.8 35.7,15.6 L35.8,17.5 Q36.3,18.5 36.3,20.5 L36.4,28.2 Q36.4,30.5 35.1,30.7 L31.9,30.7 Q30.6,30.5 30.6,28.2 L30.7,20.5 Q30.7,18.5 31.2,17.5 Z" fill="url(#mg)" filter="url(#soft)"/><g filter="url(#soft)"><ellipse cx="6.9" cy="27" rx="3.4" ry="3.6" fill="url(#bB)"/><ellipse cx="6.35" cy="26.24" rx="1.19" ry="1.19" fill="#30b8f0"/><ellipse cx="8.8" cy="15.8" rx="1.3" ry="1.3" fill="url(#bB)"/><ellipse cx="7.7" cy="20.5" rx="1.2" ry="1.5" fill="url(#bB)"/><ellipse cx="20.3" cy="24.8" rx="1.3" ry="2" fill="url(#bB)"/><ellipse cx="26.7" cy="27.5" rx="1.8" ry="3" fill="url(#bB)"/><ellipse cx="26.7" cy="23.5" rx="1.2" ry="1.2" fill="url(#bB)"/></g><rect x="1" y="45.1" width="1.11" height="1.3" fill="#9c9c9c"/><rect x="2.41" y="45.1" width="0.75" height="1.3" fill="#9c9c9c"/><rect x="3.51" y="45.1" width="1.19" height="1.3" fill="#9c9c9c"/><rect x="6.36" y="45.1" width="0.79" height="1.3" fill="#9c9c9c"/><rect x="7.46" y="45.1" width="1.17" height="1.3" fill="#9c9c9c"/><rect x="9.15" y="45.1" width="1.12" height="1.3" fill="#9c9c9c"/><rect x="10.86" y="45.1" width="0.78" height="1.3" fill="#9c9c9c"/><rect x="12.19" y="45.1" width="1.13" height="1.3" fill="#9c9c9c"/><rect x="13.76" y="45.1" width="0.85" height="1.3" fill="#9c9c9c"/><rect x="15.02" y="45.1" width="0.68" height="1.3" fill="#9c9c9c"/><rect x="16.24" y="45.1" width="1.29" height="1.3" fill="#9c9c9c"/><rect x="18.02" y="45.1" width="1.12" height="1.3" fill="#9c9c9c"/><rect x="19.44" y="45.1" width="0.91" height="1.3" fill="#9c9c9c"/></g>
<g transform="translate(209.2,279.2)"><rect x="0" y="0" width="39.3" height="47.7" fill="url(#cellbg)"/><rect x="0" y="0" width="39.3" height="1.2" fill="#0e0e0e"/><rect x="6" y="2.4" width="27.3" height="0.6" fill="#343434"/><rect x="6" y="3.9" width="27.3" height="0.6" fill="#343434"/><rect x="6" y="5.4" width="27.3" height="0.6" fill="#343434"/><rect x="6" y="6.9" width="27.3" height="0.6" fill="#343434"/><rect x="0" y="8.3" width="39.3" height="5.2" fill="#414141" opacity="0.55"/><rect x="3.6" y="0.8" width="3.2" height="7.6" rx="1.2" fill="#141414"/><path d="M3,8.2 Q3,12.4 5.2,12.4 Q7.4,12.4 7.4,8.2" fill="none" stroke="#1c1c1c" stroke-width="1.0"/><rect x="33.1" y="0.8" width="3.2" height="7.6" rx="1.2" fill="#141414"/><path d="M32.5,8.2 Q32.5,12.4 34.7,12.4 Q36.9,12.4 36.9,8.2" fill="none" stroke="#1c1c1c" stroke-width="1.0"/><path d="M7.7,28.6 Q7.32,37.1 5.18,44.2" stroke="#9a9a9a" stroke-width="1.0" fill="none" filter="url(#soft)"/><path d="M14.2,28.6 Q14.39,37.1 15.5,44.2" stroke="#9a9a9a" stroke-width="1.0" fill="none" filter="url(#soft)"/><path d="M20.9,28.6 Q21.05,37.1 21.87,44.2" stroke="#9a9a9a" stroke-width="1.0" fill="none" filter="url(#soft)"/><path d="M27.3,28.6 Q27.72,37.1 30.12,44.2" stroke="#9a9a9a" stroke-width="1.0" fill="none" filter="url(#soft)"/><path d="M34.2,28.6 Q33.98,37.1 32.74,44.2" stroke="#9a9a9a" stroke-width="1.0" fill="none" filter="url(#soft)"/><ellipse cx="5.3" cy="27.9" rx="0.9" ry="1.1" fill="#8e8e8e"/><ellipse cx="10.1" cy="27.9" rx="0.9" ry="1.1" fill="#8e8e8e"/><path d="M5.5,16.1 Q5.5,14.3 7.7,14.3 Q9.9,14.3 9.9,16.1 L10,18 Q10.5,19 10.5,21 L10.6,26.6 Q10.6,28.9 9.3,29.1 L6.1,29.1 Q4.8,28.9 4.8,26.6 L4.9,21 Q4.9,19 5.4,18 Z" fill="url(#mg)" filter="url(#soft)"/><ellipse cx="11.8" cy="27.9" rx="0.9" ry="1.1" fill="#8e8e8e"/><ellipse cx="16.6" cy="27.9" rx="0.9" ry="1.1" fill="#8e8e8e"/><path d="M12,16.1 Q12,14.3 14.2,14.3 Q16.4,14.3 16.4,16.1 L16.5,18 Q17,19 17,21 L17.1,26.6 Q17.1,28.9 15.8,29.1 L12.6,29.1 Q11.3,28.9 11.3,26.6 L11.4,21 Q11.4,19 11.9,18 Z" fill="url(#mg)" filter="url(#soft)"/><ellipse cx="18.5" cy="27.9" rx="0.9" ry="1.1" fill="#8e8e8e"/><ellipse cx="23.3" cy="27.9" rx="0.9" ry="1.1" fill="#8e8e8e"/><path d="M18.7,16.1 Q18.7,14.3 20.9,14.3 Q23.1,14.3 23.1,16.1 L23.2,18 Q23.7,19 23.7,21 L23.8,26.6 Q23.8,28.9 22.5,29.1 L19.3,29.1 Q18,28.9 18,26.6 L18.1,21 Q18.1,19 18.6,18 Z" fill="url(#mg)" filter="url(#soft)"/><ellipse cx="24.9" cy="27.9" rx="0.9" ry="1.1" fill="#8e8e8e"/><ellipse cx="29.7" cy="27.9" rx="0.9" ry="1.1" fill="#8e8e8e"/><path d="M25.1,16.1 Q25.1,14.3 27.3,14.3 Q29.5,14.3 29.5,16.1 L29.6,18 Q30.1,19 30.1,21 L30.2,26.6 Q30.2,28.9 28.9,29.1 L25.7,29.1 Q24.4,28.9 24.4,26.6 L24.5,21 Q24.5,19 25,18 Z" fill="url(#mg)" filter="url(#soft)"/><ellipse cx="31.8" cy="27.9" rx="0.9" ry="1.1" fill="#8e8e8e"/><ellipse cx="36.6" cy="27.9" rx="0.9" ry="1.1" fill="#8e8e8e"/><path d="M32,16.1 Q32,14.3 34.2,14.3 Q36.4,14.3 36.4,16.1 L36.5,18 Q37,19 37,21 L37.1,26.6 Q37.1,28.9 35.8,29.1 L32.6,29.1 Q31.3,28.9 31.3,26.6 L31.4,21 Q31.4,19 31.9,18 Z" fill="url(#mg)" filter="url(#soft)"/><rect x="1" y="45.1" width="1.11" height="1.3" fill="#9c9c9c"/><rect x="2.59" y="45.1" width="1.08" height="1.3" fill="#9c9c9c"/><rect x="4.06" y="45.1" width="0.68" height="1.3" fill="#9c9c9c"/><rect x="5.07" y="45.1" width="0.85" height="1.3" fill="#9c9c9c"/><rect x="6.26" y="45.1" width="1.04" height="1.3" fill="#9c9c9c"/><rect x="7.61" y="45.1" width="1.06" height="1.3" fill="#9c9c9c"/><rect x="8.98" y="45.1" width="0.69" height="1.3" fill="#9c9c9c"/><rect x="11.24" y="45.1" width="0.74" height="1.3" fill="#9c9c9c"/><rect x="12.57" y="45.1" width="1.29" height="1.3" fill="#9c9c9c"/><rect x="14.27" y="45.1" width="1.21" height="1.3" fill="#9c9c9c"/><rect x="17.17" y="45.1" width="1.01" height="1.3" fill="#9c9c9c"/><rect x="18.65" y="45.1" width="0.67" height="1.3" fill="#9c9c9c"/><rect x="19.88" y="45.1" width="0.74" height="1.3" fill="#9c9c9c"/></g>
<g transform="translate(250.5,279.2)"><rect x="0" y="0" width="39.3" height="47.7" fill="url(#cellbg)"/><rect x="0" y="0" width="39.3" height="1.2" fill="#0e0e0e"/><rect x="6" y="2.4" width="27.3" height="0.6" fill="#343434"/><rect x="6" y="3.9" width="27.3" height="0.6" fill="#343434"/><rect x="6" y="5.4" width="27.3" height="0.6" fill="#343434"/><rect x="6" y="6.9" width="27.3" height="0.6" fill="#343434"/><rect x="0" y="8.3" width="39.3" height="5.2" fill="#414141" opacity="0.55"/><rect x="3.6" y="0.8" width="3.2" height="7.6" rx="1.2" fill="#141414"/><path d="M3,8.2 Q3,12.4 5.2,12.4 Q7.4,12.4 7.4,8.2" fill="none" stroke="#1c1c1c" stroke-width="1.0"/><rect x="33.1" y="0.8" width="3.2" height="7.6" rx="1.2" fill="#141414"/><path d="M32.5,8.2 Q32.5,12.4 34.7,12.4 Q36.9,12.4 36.9,8.2" fill="none" stroke="#1c1c1c" stroke-width="1.0"/><path d="M8.4,28.6 Q8.85,37.1 11.38,44.2" stroke="#9a9a9a" stroke-width="1.0" fill="none" filter="url(#soft)"/><path d="M15.2,28.6 Q14.73,37.1 12.07,44.2" stroke="#9a9a9a" stroke-width="1.0" fill="none" filter="url(#soft)"/><path d="M21.6,28.6 Q21.83,37.1 23.11,44.2" stroke="#9a9a9a" stroke-width="1.0" fill="none" filter="url(#soft)"/><path d="M28,28.6 Q27.67,37.1 25.81,44.2" stroke="#9a9a9a" stroke-width="1.0" fill="none" filter="url(#soft)"/><path d="M34.4,28.6 Q34.87,37.1 37.51,44.2" stroke="#9a9a9a" stroke-width="1.0" fill="none" filter="url(#soft)"/><ellipse cx="6" cy="27.9" rx="0.9" ry="1.1" fill="#8e8e8e"/><ellipse cx="10.8" cy="27.9" rx="0.9" ry="1.1" fill="#8e8e8e"/><path d="M6.2,15.6 Q6.2,13.8 8.4,13.8 Q10.6,13.8 10.6,15.6 L10.7,17.5 Q11.2,18.5 11.2,20.5 L11.3,26.6 Q11.3,28.9 10,29.1 L6.8,29.1 Q5.5,28.9 5.5,26.6 L5.6,20.5 Q5.6,18.5 6.1,17.5 Z" fill="url(#mg)" filter="url(#soft)"/><ellipse cx="12.8" cy="27.9" rx="0.9" ry="1.1" fill="#8e8e8e"/><ellipse cx="17.6" cy="27.9" rx="0.9" ry="1.1" fill="#8e8e8e"/><path d="M13,15.6 Q13,13.8 15.2,13.8 Q17.4,13.8 17.4,15.6 L17.5,17.5 Q18,18.5 18,20.5 L18.1,26.6 Q18.1,28.9 16.8,29.1 L13.6,29.1 Q12.3,28.9 12.3,26.6 L12.4,20.5 Q12.4,18.5 12.9,17.5 Z" fill="url(#mg)" filter="url(#soft)"/><ellipse cx="19.2" cy="27.9" rx="0.9" ry="1.1" fill="#8e8e8e"/><ellipse cx="24" cy="27.9" rx="0.9" ry="1.1" fill="#8e8e8e"/><path d="M19.4,15.6 Q19.4,13.8 21.6,13.8 Q23.8,13.8 23.8,15.6 L23.9,17.5 Q24.4,18.5 24.4,20.5 L24.5,26.6 Q24.5,28.9 23.2,29.1 L20,29.1 Q18.7,28.9 18.7,26.6 L18.8,20.5 Q18.8,18.5 19.3,17.5 Z" fill="url(#mg)" filter="url(#soft)"/><ellipse cx="25.6" cy="27.9" rx="0.9" ry="1.1" fill="#8e8e8e"/><ellipse cx="30.4" cy="27.9" rx="0.9" ry="1.1" fill="#8e8e8e"/><path d="M25.8,15.6 Q25.8,13.8 28,13.8 Q30.2,13.8 30.2,15.6 L30.3,17.5 Q30.8,18.5 30.8,20.5 L30.9,26.6 Q30.9,28.9 29.6,29.1 L26.4,29.1 Q25.1,28.9 25.1,26.6 L25.2,20.5 Q25.2,18.5 25.7,17.5 Z" fill="url(#mg)" filter="url(#soft)"/><ellipse cx="32" cy="27.9" rx="0.9" ry="1.1" fill="#8e8e8e"/><ellipse cx="36.8" cy="27.9" rx="0.9" ry="1.1" fill="#8e8e8e"/><path d="M32.2,15.6 Q32.2,13.8 34.4,13.8 Q36.6,13.8 36.6,15.6 L36.7,17.5 Q37.2,18.5 37.2,20.5 L37.3,26.6 Q37.3,28.9 36,29.1 L32.8,29.1 Q31.5,28.9 31.5,26.6 L31.6,20.5 Q31.6,18.5 32.1,17.5 Z" fill="url(#mg)" filter="url(#soft)"/><rect x="1" y="45.1" width="1.22" height="1.3" fill="#9c9c9c"/><rect x="2.7" y="45.1" width="1.3" height="1.3" fill="#9c9c9c"/><rect x="4.34" y="45.1" width="1.1" height="1.3" fill="#9c9c9c"/><rect x="5.78" y="45.1" width="0.76" height="1.3" fill="#9c9c9c"/><rect x="7.09" y="45.1" width="1.16" height="1.3" fill="#9c9c9c"/><rect x="8.58" y="45.1" width="0.96" height="1.3" fill="#9c9c9c"/><rect x="9.87" y="45.1" width="0.89" height="1.3" fill="#9c9c9c"/><rect x="11.04" y="45.1" width="0.85" height="1.3" fill="#9c9c9c"/><rect x="12.34" y="45.1" width="1.05" height="1.3" fill="#9c9c9c"/><rect x="13.78" y="45.1" width="1.3" height="1.3" fill="#9c9c9c"/><rect x="15.5" y="45.1" width="0.61" height="1.3" fill="#9c9c9c"/><rect x="16.41" y="45.1" width="1.26" height="1.3" fill="#9c9c9c"/><rect x="18.16" y="45.1" width="0.8" height="1.3" fill="#9c9c9c"/></g>
<g transform="translate(291.9,279.2)"><rect x="0" y="0" width="39.5" height="47.7" fill="url(#cellbg)"/><rect x="0" y="0" width="39.5" height="1.2" fill="#0e0e0e"/><rect x="6" y="2.4" width="27.5" height="0.6" fill="#343434"/><rect x="6" y="3.9" width="27.5" height="0.6" fill="#343434"/><rect x="6" y="5.4" width="27.5" height="0.6" fill="#343434"/><rect x="6" y="6.9" width="27.5" height="0.6" fill="#343434"/><rect x="0" y="8.3" width="39.5" height="5.2" fill="#414141" opacity="0.55"/><rect x="3.6" y="0.8" width="3.2" height="7.6" rx="1.2" fill="#141414"/><path d="M3,8.2 Q3,12.4 5.2,12.4 Q7.4,12.4 7.4,8.2" fill="none" stroke="#1c1c1c" stroke-width="1.0"/><rect x="33.3" y="0.8" width="3.2" height="7.6" rx="1.2" fill="#141414"/><path d="M32.7,8.2 Q32.7,12.4 34.9,12.4 Q37.1,12.4 37.1,8.2" fill="none" stroke="#1c1c1c" stroke-width="1.0"/><path d="M8.5,28.6 Q8.37,37.1 7.61,44.2" stroke="#9a9a9a" stroke-width="1.0" fill="none" filter="url(#soft)"/><path d="M15.3,28.6 Q15.28,37.1 15.18,44.2" stroke="#9a9a9a" stroke-width="1.0" fill="none" filter="url(#soft)"/><path d="M22,28.6 Q21.92,37.1 21.47,44.2" stroke="#9a9a9a" stroke-width="1.0" fill="none" filter="url(#soft)"/><path d="M28.1,28.6 Q28.05,37.1 27.76,44.2" stroke="#9a9a9a" stroke-width="1.0" fill="none" filter="url(#soft)"/><path d="M34.8,28.6 Q34.71,37.1 34.22,44.2" stroke="#9a9a9a" stroke-width="1.0" fill="none" filter="url(#soft)"/><ellipse cx="6.1" cy="27.9" rx="0.9" ry="1.1" fill="#8e8e8e"/><ellipse cx="10.9" cy="27.9" rx="0.9" ry="1.1" fill="#8e8e8e"/><path d="M6.3,15.6 Q6.3,13.8 8.5,13.8 Q10.7,13.8 10.7,15.6 L10.8,17.5 Q11.3,18.5 11.3,20.5 L11.4,26.6 Q11.4,28.9 10.1,29.1 L6.9,29.1 Q5.6,28.9 5.6,26.6 L5.7,20.5 Q5.7,18.5 6.2,17.5 Z" fill="url(#mg)" filter="url(#soft)"/><ellipse cx="12.9" cy="27.9" rx="0.9" ry="1.1" fill="#8e8e8e"/><ellipse cx="17.7" cy="27.9" rx="0.9" ry="1.1" fill="#8e8e8e"/><path d="M13.1,15.6 Q13.1,13.8 15.3,13.8 Q17.5,13.8 17.5,15.6 L17.6,17.5 Q18.1,18.5 18.1,20.5 L18.2,26.6 Q18.2,28.9 16.9,29.1 L13.7,29.1 Q12.4,28.9 12.4,26.6 L12.5,20.5 Q12.5,18.5 13,17.5 Z" fill="url(#mg)" filter="url(#soft)"/><ellipse cx="19.6" cy="27.9" rx="0.9" ry="1.1" fill="#8e8e8e"/><ellipse cx="24.4" cy="27.9" rx="0.9" ry="1.1" fill="#8e8e8e"/><path d="M19.8,15.6 Q19.8,13.8 22,13.8 Q24.2,13.8 24.2,15.6 L24.3,17.5 Q24.8,18.5 24.8,20.5 L24.9,26.6 Q24.9,28.9 23.6,29.1 L20.4,29.1 Q19.1,28.9 19.1,26.6 L19.2,20.5 Q19.2,18.5 19.7,17.5 Z" fill="url(#mg)" filter="url(#soft)"/><ellipse cx="25.7" cy="27.9" rx="0.9" ry="1.1" fill="#8e8e8e"/><ellipse cx="30.5" cy="27.9" rx="0.9" ry="1.1" fill="#8e8e8e"/><path d="M25.9,15.6 Q25.9,13.8 28.1,13.8 Q30.3,13.8 30.3,15.6 L30.4,17.5 Q30.9,18.5 30.9,20.5 L31,26.6 Q31,28.9 29.7,29.1 L26.5,29.1 Q25.2,28.9 25.2,26.6 L25.3,20.5 Q25.3,18.5 25.8,17.5 Z" fill="url(#mg)" filter="url(#soft)"/><ellipse cx="32.4" cy="27.9" rx="0.9" ry="1.1" fill="#8e8e8e"/><ellipse cx="37.2" cy="27.9" rx="0.9" ry="1.1" fill="#8e8e8e"/><path d="M32.6,15.6 Q32.6,13.8 34.8,13.8 Q37,13.8 37,15.6 L37.1,17.5 Q37.6,18.5 37.6,20.5 L37.7,26.6 Q37.7,28.9 36.4,29.1 L33.2,29.1 Q31.9,28.9 31.9,26.6 L32,20.5 Q32,18.5 32.5,17.5 Z" fill="url(#mg)" filter="url(#soft)"/><g filter="url(#soft)"><ellipse cx="8.5" cy="14.3" rx="1" ry="0.8" fill="url(#bB)"/><ellipse cx="16.4" cy="26.8" rx="0.9" ry="0.9" fill="url(#bB)"/><ellipse cx="22.6" cy="27" rx="1.3" ry="2.5" fill="url(#bB)"/></g><rect x="1" y="45.1" width="0.78" height="1.3" fill="#9c9c9c"/><rect x="3.45" y="45.1" width="0.81" height="1.3" fill="#9c9c9c"/><rect x="4.63" y="45.1" width="1.12" height="1.3" fill="#9c9c9c"/><rect x="6.11" y="45.1" width="1.27" height="1.3" fill="#9c9c9c"/><rect x="7.72" y="45.1" width="1.17" height="1.3" fill="#9c9c9c"/><rect x="10.57" y="45.1" width="0.92" height="1.3" fill="#9c9c9c"/><rect x="11.96" y="45.1" width="0.76" height="1.3" fill="#9c9c9c"/><rect x="13.07" y="45.1" width="1.15" height="1.3" fill="#9c9c9c"/><rect x="14.6" y="45.1" width="1.05" height="1.3" fill="#9c9c9c"/><rect x="16.23" y="45.1" width="0.63" height="1.3" fill="#9c9c9c"/><rect x="17.45" y="45.1" width="1.15" height="1.3" fill="#9c9c9c"/><rect x="19.04" y="45.1" width="0.71" height="1.3" fill="#9c9c9c"/><rect x="20.1" y="45.1" width="0.65" height="1.3" fill="#9c9c9c"/><rect x="21.24" y="45.1" width="0.61" height="1.3" fill="#9c9c9c"/></g>
<g transform="translate(333.8,279.2)"><rect x="0" y="0" width="39.5" height="47.7" fill="url(#cellbg)"/><rect x="0" y="0" width="39.5" height="1.2" fill="#0e0e0e"/><rect x="6" y="2.4" width="27.5" height="0.6" fill="#343434"/><rect x="6" y="3.9" width="27.5" height="0.6" fill="#343434"/><rect x="6" y="5.4" width="27.5" height="0.6" fill="#343434"/><rect x="6" y="6.9" width="27.5" height="0.6" fill="#343434"/><rect x="0" y="8.3" width="39.5" height="5.2" fill="#414141" opacity="0.55"/><rect x="3.6" y="0.8" width="3.2" height="7.6" rx="1.2" fill="#141414"/><path d="M3,8.2 Q3,12.4 5.2,12.4 Q7.4,12.4 7.4,8.2" fill="none" stroke="#1c1c1c" stroke-width="1.0"/><rect x="33.3" y="0.8" width="3.2" height="7.6" rx="1.2" fill="#141414"/><path d="M32.7,8.2 Q32.7,12.4 34.9,12.4 Q37.1,12.4 37.1,8.2" fill="none" stroke="#1c1c1c" stroke-width="1.0"/><path d="M8.1,28.6 Q8.12,37.1 8.24,44.2" stroke="#9a9a9a" stroke-width="1.0" fill="none" filter="url(#soft)"/><path d="M14.9,28.6 Q15.19,37.1 16.86,44.2" stroke="#9a9a9a" stroke-width="1.0" fill="none" filter="url(#soft)"/><path d="M21.6,28.6 Q22.04,37.1 24.55,44.2" stroke="#9a9a9a" stroke-width="1.0" fill="none" filter="url(#soft)"/><path d="M28,28.6 Q27.8,37.1 26.65,44.2" stroke="#9a9a9a" stroke-width="1.0" fill="none" filter="url(#soft)"/><path d="M34.4,28.6 Q34.66,37.1 36.1,44.2" stroke="#9a9a9a" stroke-width="1.0" fill="none" filter="url(#soft)"/><ellipse cx="5.7" cy="27.9" rx="0.9" ry="1.1" fill="#8e8e8e"/><ellipse cx="10.5" cy="27.9" rx="0.9" ry="1.1" fill="#8e8e8e"/><path d="M5.9,15.6 Q5.9,13.8 8.1,13.8 Q10.3,13.8 10.3,15.6 L10.4,17.5 Q10.9,18.5 10.9,20.5 L11,26.6 Q11,28.9 9.7,29.1 L6.5,29.1 Q5.2,28.9 5.2,26.6 L5.3,20.5 Q5.3,18.5 5.8,17.5 Z" fill="url(#mg)" filter="url(#soft)"/><ellipse cx="12.5" cy="27.9" rx="0.9" ry="1.1" fill="#8e8e8e"/><ellipse cx="17.3" cy="27.9" rx="0.9" ry="1.1" fill="#8e8e8e"/><path d="M12.7,15.6 Q12.7,13.8 14.9,13.8 Q17.1,13.8 17.1,15.6 L17.2,17.5 Q17.7,18.5 17.7,20.5 L17.8,26.6 Q17.8,28.9 16.5,29.1 L13.3,29.1 Q12,28.9 12,26.6 L12.1,20.5 Q12.1,18.5 12.6,17.5 Z" fill="url(#mg)" filter="url(#soft)"/><ellipse cx="19.2" cy="27.9" rx="0.9" ry="1.1" fill="#8e8e8e"/><ellipse cx="24" cy="27.9" rx="0.9" ry="1.1" fill="#8e8e8e"/><path d="M19.4,15.6 Q19.4,13.8 21.6,13.8 Q23.8,13.8 23.8,15.6 L23.9,17.5 Q24.4,18.5 24.4,20.5 L24.5,26.6 Q24.5,28.9 23.2,29.1 L20,29.1 Q18.7,28.9 18.7,26.6 L18.8,20.5 Q18.8,18.5 19.3,17.5 Z" fill="url(#mg)" filter="url(#soft)"/><ellipse cx="25.6" cy="27.9" rx="0.9" ry="1.1" fill="#8e8e8e"/><ellipse cx="30.4" cy="27.9" rx="0.9" ry="1.1" fill="#8e8e8e"/><path d="M25.8,15.6 Q25.8,13.8 28,13.8 Q30.2,13.8 30.2,15.6 L30.3,17.5 Q30.8,18.5 30.8,20.5 L30.9,26.6 Q30.9,28.9 29.6,29.1 L26.4,29.1 Q25.1,28.9 25.1,26.6 L25.2,20.5 Q25.2,18.5 25.7,17.5 Z" fill="url(#mg)" filter="url(#soft)"/><ellipse cx="32" cy="27.9" rx="0.9" ry="1.1" fill="#8e8e8e"/><ellipse cx="36.8" cy="27.9" rx="0.9" ry="1.1" fill="#8e8e8e"/><path d="M32.2,15.6 Q32.2,13.8 34.4,13.8 Q36.6,13.8 36.6,15.6 L36.7,17.5 Q37.2,18.5 37.2,20.5 L37.3,26.6 Q37.3,28.9 36,29.1 L32.8,29.1 Q31.5,28.9 31.5,26.6 L31.6,20.5 Q31.6,18.5 32.1,17.5 Z" fill="url(#mg)" filter="url(#soft)"/><g filter="url(#soft)"><ellipse cx="20.9" cy="25" rx="2" ry="2.8" fill="url(#bB)"/><ellipse cx="21.15" cy="25.27" rx="0.76" ry="0.76" fill="#30d0a0"/><circle cx="21.15" cy="25.27" r="0.34" fill="#d0e040"/><ellipse cx="22.4" cy="22.1" rx="1.2" ry="1.2" fill="url(#bB)"/><ellipse cx="21.9" cy="26.8" rx="1" ry="1" fill="url(#bB)"/></g><rect x="1" y="45.1" width="0.62" height="1.3" fill="#9c9c9c"/><rect x="2" y="45.1" width="0.78" height="1.3" fill="#9c9c9c"/><rect x="3.21" y="45.1" width="1.19" height="1.3" fill="#9c9c9c"/><rect x="4.98" y="45.1" width="1.3" height="1.3" fill="#9c9c9c"/><rect x="6.55" y="45.1" width="1.21" height="1.3" fill="#9c9c9c"/><rect x="8.07" y="45.1" width="0.99" height="1.3" fill="#9c9c9c"/><rect x="9.64" y="45.1" width="0.98" height="1.3" fill="#9c9c9c"/><rect x="11.18" y="45.1" width="0.82" height="1.3" fill="#9c9c9c"/><rect x="12.27" y="45.1" width="0.93" height="1.3" fill="#9c9c9c"/><rect x="13.8" y="45.1" width="1.17" height="1.3" fill="#9c9c9c"/><rect x="15.51" y="45.1" width="0.61" height="1.3" fill="#9c9c9c"/><rect x="17.7" y="45.1" width="1.13" height="1.3" fill="#9c9c9c"/><rect x="19.2" y="45.1" width="0.86" height="1.3" fill="#9c9c9c"/></g>
<g transform="translate(43.8,329.2)"><rect x="0" y="0" width="38.6" height="48.5" fill="url(#cellbg)"/><rect x="0" y="0" width="38.6" height="1.2" fill="#0e0e0e"/><rect x="6" y="2.4" width="26.6" height="0.6" fill="#343434"/><rect x="6" y="3.9" width="26.6" height="0.6" fill="#343434"/><rect x="6" y="5.4" width="26.6" height="0.6" fill="#343434"/><rect x="6" y="6.9" width="26.6" height="0.6" fill="#343434"/><rect x="0" y="8.3" width="38.6" height="5.2" fill="#414141" opacity="0.55"/><rect x="3.6" y="0.8" width="3.2" height="7.6" rx="1.2" fill="#141414"/><path d="M3,8.2 Q3,12.4 5.2,12.4 Q7.4,12.4 7.4,8.2" fill="none" stroke="#1c1c1c" stroke-width="1.0"/><rect x="32.4" y="0.8" width="3.2" height="7.6" rx="1.2" fill="#141414"/><path d="M31.8,8.2 Q31.8,12.4 34,12.4 Q36.2,12.4 36.2,8.2" fill="none" stroke="#1c1c1c" stroke-width="1.0"/><rect x="12" y="14.5" width="5.0" height="22" rx="0.6" fill="#4a4a4a"/><rect x="12.7" y="15.2" width="3.6" height="20.6" fill="#1c1c1c"/><rect x="25" y="14.5" width="5.0" height="22" rx="0.6" fill="#4a4a4a"/><rect x="25.7" y="15.2" width="3.6" height="20.6" fill="#1c1c1c"/><path d="M7.1,30 Q7.49,38.5 9.7,45" stroke="#9a9a9a" stroke-width="1.0" fill="none" filter="url(#soft)"/><path d="M20.5,30 Q20.68,38.5 21.69,45" stroke="#9a9a9a" stroke-width="1.0" fill="none" filter="url(#soft)"/><path d="M33.5,30 Q33.76,38.5 35.21,45" stroke="#9a9a9a" stroke-width="1.0" fill="none" filter="url(#soft)"/><ellipse cx="4.7" cy="29.3" rx="0.9" ry="1.1" fill="#8e8e8e"/><ellipse cx="9.5" cy="29.3" rx="0.9" ry="1.1" fill="#8e8e8e"/><path d="M4.9,14.6 Q4.9,12.8 7.1,12.8 Q9.3,12.8 9.3,14.6 L9.4,16.5 Q10.3,17.5 10.3,19.5 L10.4,28 Q10.4,30.3 8.7,30.5 L5.5,30.5 Q3.8,30.3 3.8,28 L3.9,19.5 Q3.9,17.5 4.8,16.5 Z" fill="url(#mg)" filter="url(#soft)"/><ellipse cx="18.1" cy="29.3" rx="0.9" ry="1.1" fill="#8e8e8e"/><ellipse cx="22.9" cy="29.3" rx="0.9" ry="1.1" fill="#8e8e8e"/><path d="M18.3,14.6 Q18.3,12.8 20.5,12.8 Q22.7,12.8 22.7,14.6 L22.8,16.5 Q23.7,17.5 23.7,19.5 L23.8,28 Q23.8,30.3 22.1,30.5 L18.9,30.5 Q17.2,30.3 17.2,28 L17.3,19.5 Q17.3,17.5 18.2,16.5 Z" fill="url(#mg)" filter="url(#soft)"/><ellipse cx="31.1" cy="29.3" rx="0.9" ry="1.1" fill="#8e8e8e"/><ellipse cx="35.9" cy="29.3" rx="0.9" ry="1.1" fill="#8e8e8e"/><path d="M31.3,14.6 Q31.3,12.8 33.5,12.8 Q35.7,12.8 35.7,14.6 L35.8,16.5 Q36.7,17.5 36.7,19.5 L36.8,28 Q36.8,30.3 35.1,30.5 L31.9,30.5 Q30.2,30.3 30.2,28 L30.3,19.5 Q30.3,17.5 31.2,16.5 Z" fill="url(#mg)" filter="url(#soft)"/><g filter="url(#soft)"><ellipse cx="7.1" cy="18.9" rx="2.8" ry="3.2" fill="url(#bB)"/><ellipse cx="7.4" cy="18.8" rx="1.2" ry="1" fill="#f4f4f4"/><ellipse cx="7.1" cy="26.2" rx="3.1" ry="3.5" fill="url(#bB)"/><ellipse cx="20.5" cy="20.2" rx="2.6" ry="2.2" fill="url(#bB)"/><ellipse cx="20.5" cy="27" rx="3.1" ry="3.6" fill="url(#bB)"/><ellipse cx="21.4" cy="28" rx="1" ry="1" fill="#d8e830"/><ellipse cx="20.8" cy="25.8" rx="0.8" ry="0.8" fill="#30d0e0"/><ellipse cx="33.5" cy="17.2" rx="2.5" ry="2.6" fill="url(#bB)"/><ellipse cx="33.3" cy="16" rx="1" ry="1" fill="#30d0e0"/><ellipse cx="33.5" cy="26.6" rx="3.1" ry="3.6" fill="url(#bB)"/><ellipse cx="32.8" cy="20.6" rx="0.8" ry="0.8" fill="#7a2ad8"/></g><rect x="1" y="45.9" width="0.78" height="1.3" fill="#9c9c9c"/><rect x="2.25" y="45.9" width="1.21" height="1.3" fill="#9c9c9c"/><rect x="3.92" y="45.9" width="0.89" height="1.3" fill="#9c9c9c"/><rect x="6.6" y="45.9" width="0.82" height="1.3" fill="#9c9c9c"/><rect x="8.01" y="45.9" width="0.75" height="1.3" fill="#9c9c9c"/><rect x="9.11" y="45.9" width="0.83" height="1.3" fill="#9c9c9c"/><rect x="10.35" y="45.9" width="1.16" height="1.3" fill="#9c9c9c"/><rect x="13.13" y="45.9" width="1" height="1.3" fill="#9c9c9c"/><rect x="15.6" y="45.9" width="0.73" height="1.3" fill="#9c9c9c"/><rect x="16.82" y="45.9" width="1.08" height="1.3" fill="#9c9c9c"/><rect x="19.41" y="45.9" width="0.62" height="1.3" fill="#9c9c9c"/><rect x="20.53" y="45.9" width="0.75" height="1.3" fill="#9c9c9c"/></g>
<g transform="translate(84.1,329.2)"><rect x="0" y="0" width="39.8" height="48.5" fill="url(#cellbg)"/><rect x="0" y="0" width="39.8" height="1.2" fill="#0e0e0e"/><rect x="6" y="2.4" width="27.8" height="0.6" fill="#343434"/><rect x="6" y="3.9" width="27.8" height="0.6" fill="#343434"/><rect x="6" y="5.4" width="27.8" height="0.6" fill="#343434"/><rect x="6" y="6.9" width="27.8" height="0.6" fill="#343434"/><rect x="0" y="8.3" width="39.8" height="5.2" fill="#414141" opacity="0.55"/><rect x="3.6" y="0.8" width="3.2" height="7.6" rx="1.2" fill="#141414"/><path d="M3,8.2 Q3,12.4 5.2,12.4 Q7.4,12.4 7.4,8.2" fill="none" stroke="#1c1c1c" stroke-width="1.0"/><rect x="33.6" y="0.8" width="3.2" height="7.6" rx="1.2" fill="#141414"/><path d="M33,8.2 Q33,12.4 35.2,12.4 Q37.4,12.4 37.4,8.2" fill="none" stroke="#1c1c1c" stroke-width="1.0"/><rect x="10.6" y="14.5" width="5.0" height="22" rx="0.6" fill="#4a4a4a"/><rect x="11.3" y="15.2" width="3.6" height="20.6" fill="#1c1c1c"/><rect x="23.3" y="14.5" width="5.0" height="22" rx="0.6" fill="#4a4a4a"/><rect x="24" y="15.2" width="3.6" height="20.6" fill="#1c1c1c"/><path d="M6.8,30.9 Q6.48,39.4 4.66,45" stroke="#9a9a9a" stroke-width="1.0" fill="none" filter="url(#soft)"/><path d="M19.2,30.9 Q19.38,39.4 20.41,45" stroke="#9a9a9a" stroke-width="1.0" fill="none" filter="url(#soft)"/><path d="M33,30.9 Q33.13,39.4 33.86,45" stroke="#9a9a9a" stroke-width="1.0" fill="none" filter="url(#soft)"/><ellipse cx="4.4" cy="30.2" rx="0.9" ry="1.1" fill="#8e8e8e"/><ellipse cx="9.2" cy="30.2" rx="0.9" ry="1.1" fill="#8e8e8e"/><path d="M4.6,15.8 Q4.6,14 6.8,14 Q9,14 9,15.8 L9.1,17.7 Q10,18.7 10,20.7 L10.1,28.9 Q10.1,31.2 8.4,31.4 L5.2,31.4 Q3.5,31.2 3.5,28.9 L3.6,20.7 Q3.6,18.7 4.5,17.7 Z" fill="url(#mg)" filter="url(#soft)"/><ellipse cx="16.8" cy="30.2" rx="0.9" ry="1.1" fill="#8e8e8e"/><ellipse cx="21.6" cy="30.2" rx="0.9" ry="1.1" fill="#8e8e8e"/><path d="M17,15.8 Q17,14 19.2,14 Q21.4,14 21.4,15.8 L21.5,17.7 Q22.4,18.7 22.4,20.7 L22.5,28.9 Q22.5,31.2 20.8,31.4 L17.6,31.4 Q15.9,31.2 15.9,28.9 L16,20.7 Q16,18.7 16.9,17.7 Z" fill="url(#mg)" filter="url(#soft)"/><ellipse cx="30.6" cy="30.2" rx="0.9" ry="1.1" fill="#8e8e8e"/><ellipse cx="35.4" cy="30.2" rx="0.9" ry="1.1" fill="#8e8e8e"/><path d="M30.8,15.8 Q30.8,14 33,14 Q35.2,14 35.2,15.8 L35.3,17.7 Q36.2,18.7 36.2,20.7 L36.3,28.9 Q36.3,31.2 34.6,31.4 L31.4,31.4 Q29.7,31.2 29.7,28.9 L29.8,20.7 Q29.8,18.7 30.7,17.7 Z" fill="url(#mg)" filter="url(#soft)"/><g filter="url(#soft)"><ellipse cx="6.8" cy="15.2" rx="1.9" ry="1.5" fill="url(#bB)"/><ellipse cx="6.8" cy="24.8" rx="3.3" ry="5" fill="url(#bB)"/><ellipse cx="6.6" cy="23" rx="1" ry="1" fill="#f09020"/><ellipse cx="7.4" cy="28.2" rx="1.1" ry="1.1" fill="#30d0e0"/><ellipse cx="19.2" cy="15.2" rx="1.7" ry="1.4" fill="url(#bB)"/><ellipse cx="19.2" cy="26" rx="3.1" ry="4.5" fill="url(#bB)"/><ellipse cx="18.7" cy="23.4" rx="1" ry="1" fill="#30d0e0"/><ellipse cx="32.7" cy="15" rx="1.6" ry="1.4" fill="url(#bB)"/><ellipse cx="33" cy="24.2" rx="3.1" ry="5" fill="url(#bB)"/><ellipse cx="33.4" cy="24" rx="1" ry="1" fill="#d8e830"/><ellipse cx="31.8" cy="28.9" rx="0.9" ry="0.9" fill="#f4f4f4"/></g><rect x="1" y="45.9" width="0.75" height="1.3" fill="#9c9c9c"/><rect x="2.28" y="45.9" width="0.96" height="1.3" fill="#9c9c9c"/><rect x="3.66" y="45.9" width="0.6" height="1.3" fill="#9c9c9c"/><rect x="4.65" y="45.9" width="0.65" height="1.3" fill="#9c9c9c"/><rect x="5.82" y="45.9" width="0.76" height="1.3" fill="#9c9c9c"/><rect x="6.85" y="45.9" width="1.12" height="1.3" fill="#9c9c9c"/><rect x="8.52" y="45.9" width="0.62" height="1.3" fill="#9c9c9c"/><rect x="9.51" y="45.9" width="0.68" height="1.3" fill="#9c9c9c"/><rect x="10.78" y="45.9" width="0.71" height="1.3" fill="#9c9c9c"/><rect x="12.02" y="45.9" width="1.25" height="1.3" fill="#9c9c9c"/><rect x="13.68" y="45.9" width="0.84" height="1.3" fill="#9c9c9c"/><rect x="14.94" y="45.9" width="0.63" height="1.3" fill="#9c9c9c"/><rect x="16.12" y="45.9" width="1.15" height="1.3" fill="#9c9c9c"/><rect x="17.59" y="45.9" width="1.23" height="1.3" fill="#9c9c9c"/><rect x="19.33" y="45.9" width="1.01" height="1.3" fill="#9c9c9c"/><rect x="20.84" y="45.9" width="0.93" height="1.3" fill="#9c9c9c"/></g>
<g transform="translate(126.1,329.2)"><rect x="0" y="0" width="39.8" height="48.5" fill="url(#cellbg)"/><rect x="0" y="0" width="39.8" height="1.2" fill="#0e0e0e"/><rect x="6" y="2.4" width="27.8" height="0.6" fill="#343434"/><rect x="6" y="3.9" width="27.8" height="0.6" fill="#343434"/><rect x="6" y="5.4" width="27.8" height="0.6" fill="#343434"/><rect x="6" y="6.9" width="27.8" height="0.6" fill="#343434"/><rect x="0" y="8.3" width="39.8" height="5.2" fill="#414141" opacity="0.55"/><rect x="3.6" y="0.8" width="3.2" height="7.6" rx="1.2" fill="#141414"/><path d="M3,8.2 Q3,12.4 5.2,12.4 Q7.4,12.4 7.4,8.2" fill="none" stroke="#1c1c1c" stroke-width="1.0"/><rect x="33.6" y="0.8" width="3.2" height="7.6" rx="1.2" fill="#141414"/><path d="M33,8.2 Q33,12.4 35.2,12.4 Q37.4,12.4 37.4,8.2" fill="none" stroke="#1c1c1c" stroke-width="1.0"/><path d="M7.2,31.8 Q7.64,40.3 10.13,45" stroke="#9a9a9a" stroke-width="1.0" fill="none" filter="url(#soft)"/><path d="M14.1,31.8 Q13.75,40.3 11.8,45" stroke="#9a9a9a" stroke-width="1.0" fill="none" filter="url(#soft)"/><path d="M20.4,31.8 Q19.94,40.3 17.35,45" stroke="#9a9a9a" stroke-width="1.0" fill="none" filter="url(#soft)"/><path d="M26.8,31.8 Q27.28,40.3 29.99,45" stroke="#9a9a9a" stroke-width="1.0" fill="none" filter="url(#soft)"/><path d="M33.7,31.8 Q33.4,40.3 31.68,45" stroke="#9a9a9a" stroke-width="1.0" fill="none" filter="url(#soft)"/><ellipse cx="4.8" cy="31.1" rx="0.9" ry="1.1" fill="#8e8e8e"/><ellipse cx="9.6" cy="31.1" rx="0.9" ry="1.1" fill="#8e8e8e"/><path d="M5,17.2 Q5,15.4 7.2,15.4 Q9.4,15.4 9.4,17.2 L9.5,19.1 Q10,20.1 10,22.1 L10.1,29.8 Q10.1,32.1 8.8,32.3 L5.6,32.3 Q4.3,32.1 4.3,29.8 L4.4,22.1 Q4.4,20.1 4.9,19.1 Z" fill="url(#mg)" filter="url(#soft)"/><ellipse cx="11.7" cy="31.1" rx="0.9" ry="1.1" fill="#8e8e8e"/><ellipse cx="16.5" cy="31.1" rx="0.9" ry="1.1" fill="#8e8e8e"/><path d="M11.9,17.2 Q11.9,15.4 14.1,15.4 Q16.3,15.4 16.3,17.2 L16.4,19.1 Q16.9,20.1 16.9,22.1 L17,29.8 Q17,32.1 15.7,32.3 L12.5,32.3 Q11.2,32.1 11.2,29.8 L11.3,22.1 Q11.3,20.1 11.8,19.1 Z" fill="url(#mg)" filter="url(#soft)"/><ellipse cx="18" cy="31.1" rx="0.9" ry="1.1" fill="#8e8e8e"/><ellipse cx="22.8" cy="31.1" rx="0.9" ry="1.1" fill="#8e8e8e"/><path d="M18.2,17.2 Q18.2,15.4 20.4,15.4 Q22.6,15.4 22.6,17.2 L22.7,19.1 Q23.2,20.1 23.2,22.1 L23.3,29.8 Q23.3,32.1 22,32.3 L18.8,32.3 Q17.5,32.1 17.5,29.8 L17.6,22.1 Q17.6,20.1 18.1,19.1 Z" fill="url(#mg)" filter="url(#soft)"/><ellipse cx="24.4" cy="31.1" rx="0.9" ry="1.1" fill="#8e8e8e"/><ellipse cx="29.2" cy="31.1" rx="0.9" ry="1.1" fill="#8e8e8e"/><path d="M24.6,17.2 Q24.6,15.4 26.8,15.4 Q29,15.4 29,17.2 L29.1,19.1 Q29.6,20.1 29.6,22.1 L29.7,29.8 Q29.7,32.1 28.4,32.3 L25.2,32.3 Q23.9,32.1 23.9,29.8 L24,22.1 Q24,20.1 24.5,19.1 Z" fill="url(#mg)" filter="url(#soft)"/><ellipse cx="31.3" cy="31.1" rx="0.9" ry="1.1" fill="#8e8e8e"/><ellipse cx="36.1" cy="31.1" rx="0.9" ry="1.1" fill="#8e8e8e"/><path d="M31.5,17.2 Q31.5,15.4 33.7,15.4 Q35.9,15.4 35.9,17.2 L36,19.1 Q36.5,20.1 36.5,22.1 L36.6,29.8 Q36.6,32.1 35.3,32.3 L32.1,32.3 Q30.8,32.1 30.8,29.8 L30.9,22.1 Q30.9,20.1 31.4,19.1 Z" fill="url(#mg)" filter="url(#soft)"/><g filter="url(#soft)"><ellipse cx="7.2" cy="22.6" rx="2" ry="1.6" fill="url(#bB)"/><ellipse cx="7.8" cy="28.2" rx="2.8" ry="3.2" fill="url(#bB)"/><ellipse cx="7.16" cy="28.49" rx="1.06" ry="1.06" fill="#30d0a0"/><circle cx="7.16" cy="28.49" r="0.48" fill="#d0e040"/><ellipse cx="13.3" cy="18" rx="1.3" ry="1.3" fill="url(#bB)"/><ellipse cx="14.9" cy="29" rx="1.4" ry="1.4" fill="url(#bB)"/><ellipse cx="18.8" cy="28.2" rx="1.5" ry="1.5" fill="url(#bB)"/><ellipse cx="27" cy="19.6" rx="1.4" ry="2.2" fill="url(#bB)"/><ellipse cx="27.2" cy="28.6" rx="3" ry="3.5" fill="url(#bB)"/><ellipse cx="26.92" cy="29.42" rx="1.14" ry="1.14" fill="#30d0a0"/><circle cx="26.92" cy="29.42" r="0.51" fill="#d0e040"/><ellipse cx="32.4" cy="30.7" rx="0.8" ry="0.8" fill="#7a2ad8"/></g><rect x="1" y="45.9" width="1.27" height="1.3" fill="#9c9c9c"/><rect x="2.63" y="45.9" width="1.25" height="1.3" fill="#9c9c9c"/><rect x="4.38" y="45.9" width="1.1" height="1.3" fill="#9c9c9c"/><rect x="5.74" y="45.9" width="1.01" height="1.3" fill="#9c9c9c"/><rect x="7.11" y="45.9" width="1.19" height="1.3" fill="#9c9c9c"/><rect x="8.76" y="45.9" width="1.14" height="1.3" fill="#9c9c9c"/><rect x="10.49" y="45.9" width="1.09" height="1.3" fill="#9c9c9c"/><rect x="12.04" y="45.9" width="1.27" height="1.3" fill="#9c9c9c"/><rect x="13.67" y="45.9" width="1.27" height="1.3" fill="#9c9c9c"/><rect x="15.42" y="45.9" width="1.18" height="1.3" fill="#9c9c9c"/><rect x="17.08" y="45.9" width="0.63" height="1.3" fill="#9c9c9c"/><rect x="19.35" y="45.9" width="1.25" height="1.3" fill="#9c9c9c"/></g>
<g transform="translate(168.1,329.2)"><rect x="0" y="0" width="39.1" height="48.5" fill="url(#cellbg)"/><rect x="0" y="0" width="39.1" height="1.2" fill="#0e0e0e"/><rect x="6" y="2.4" width="27.1" height="0.6" fill="#343434"/><rect x="6" y="3.9" width="27.1" height="0.6" fill="#343434"/><rect x="6" y="5.4" width="27.1" height="0.6" fill="#343434"/><rect x="6" y="6.9" width="27.1" height="0.6" fill="#343434"/><rect x="0" y="8.3" width="39.1" height="5.2" fill="#414141" opacity="0.55"/><rect x="3.6" y="0.8" width="3.2" height="7.6" rx="1.2" fill="#141414"/><path d="M3,8.2 Q3,12.4 5.2,12.4 Q7.4,12.4 7.4,8.2" fill="none" stroke="#1c1c1c" stroke-width="1.0"/><rect x="32.9" y="0.8" width="3.2" height="7.6" rx="1.2" fill="#141414"/><path d="M32.3,8.2 Q32.3,12.4 34.5,12.4 Q36.7,12.4 36.7,8.2" fill="none" stroke="#1c1c1c" stroke-width="1.0"/><path d="M7.2,31.8 Q7.61,40.3 9.92,45" stroke="#9a9a9a" stroke-width="1.0" fill="none" filter="url(#soft)"/><path d="M13.6,31.8 Q14.03,40.3 16.47,45" stroke="#9a9a9a" stroke-width="1.0" fill="none" filter="url(#soft)"/><path d="M19.9,31.8 Q20.28,40.3 22.41,45" stroke="#9a9a9a" stroke-width="1.0" fill="none" filter="url(#soft)"/><path d="M26.8,31.8 Q26.4,40.3 24.13,45" stroke="#9a9a9a" stroke-width="1.0" fill="none" filter="url(#soft)"/><path d="M33.5,31.8 Q33.59,40.3 34.09,45" stroke="#9a9a9a" stroke-width="1.0" fill="none" filter="url(#soft)"/><ellipse cx="4.8" cy="31.1" rx="0.9" ry="1.1" fill="#8e8e8e"/><ellipse cx="9.6" cy="31.1" rx="0.9" ry="1.1" fill="#8e8e8e"/><path d="M5,17.2 Q5,15.4 7.2,15.4 Q9.4,15.4 9.4,17.2 L9.5,19.1 Q10,20.1 10,22.1 L10.1,29.8 Q10.1,32.1 8.8,32.3 L5.6,32.3 Q4.3,32.1 4.3,29.8 L4.4,22.1 Q4.4,20.1 4.9,19.1 Z" fill="url(#mg)" filter="url(#soft)"/><ellipse cx="11.2" cy="31.1" rx="0.9" ry="1.1" fill="#8e8e8e"/><ellipse cx="16" cy="31.1" rx="0.9" ry="1.1" fill="#8e8e8e"/><path d="M11.4,17.2 Q11.4,15.4 13.6,15.4 Q15.8,15.4 15.8,17.2 L15.9,19.1 Q16.4,20.1 16.4,22.1 L16.5,29.8 Q16.5,32.1 15.2,32.3 L12,32.3 Q10.7,32.1 10.7,29.8 L10.8,22.1 Q10.8,20.1 11.3,19.1 Z" fill="url(#mg)" filter="url(#soft)"/><ellipse cx="17.5" cy="31.1" rx="0.9" ry="1.1" fill="#8e8e8e"/><ellipse cx="22.3" cy="31.1" rx="0.9" ry="1.1" fill="#8e8e8e"/><path d="M17.7,17.2 Q17.7,15.4 19.9,15.4 Q22.1,15.4 22.1,17.2 L22.2,19.1 Q22.7,20.1 22.7,22.1 L22.8,29.8 Q22.8,32.1 21.5,32.3 L18.3,32.3 Q17,32.1 17,29.8 L17.1,22.1 Q17.1,20.1 17.6,19.1 Z" fill="url(#mg)" filter="url(#soft)"/><ellipse cx="24.4" cy="31.1" rx="0.9" ry="1.1" fill="#8e8e8e"/><ellipse cx="29.2" cy="31.1" rx="0.9" ry="1.1" fill="#8e8e8e"/><path d="M24.6,17.2 Q24.6,15.4 26.8,15.4 Q29,15.4 29,17.2 L29.1,19.1 Q29.6,20.1 29.6,22.1 L29.7,29.8 Q29.7,32.1 28.4,32.3 L25.2,32.3 Q23.9,32.1 23.9,29.8 L24,22.1 Q24,20.1 24.5,19.1 Z" fill="url(#mg)" filter="url(#soft)"/><ellipse cx="31.1" cy="31.1" rx="0.9" ry="1.1" fill="#8e8e8e"/><ellipse cx="35.9" cy="31.1" rx="0.9" ry="1.1" fill="#8e8e8e"/><path d="M31.3,17.2 Q31.3,15.4 33.5,15.4 Q35.7,15.4 35.7,17.2 L35.8,19.1 Q36.3,20.1 36.3,22.1 L36.4,29.8 Q36.4,32.1 35.1,32.3 L31.9,32.3 Q30.6,32.1 30.6,29.8 L30.7,22.1 Q30.7,20.1 31.2,19.1 Z" fill="url(#mg)" filter="url(#soft)"/><g filter="url(#soft)"><ellipse cx="6.9" cy="23.6" rx="3" ry="7.8" fill="url(#bB)"/><ellipse cx="4.5" cy="26.1" rx="1.2" ry="1.4" fill="#e03018"/><ellipse cx="8.5" cy="17.1" rx="1" ry="1" fill="#d8e830"/><ellipse cx="6.4" cy="20.6" rx="0.9" ry="0.9" fill="#30d0e0"/><ellipse cx="13.1" cy="18.8" rx="1" ry="1" fill="url(#bB)"/><ellipse cx="19.9" cy="27.1" rx="2.4" ry="4.3" fill="url(#bB)"/><ellipse cx="27.1" cy="26.6" rx="2.5" ry="5" fill="url(#bB)"/><ellipse cx="27.1" cy="30.1" rx="1.1" ry="1.1" fill="#e03018"/><ellipse cx="27.1" cy="25.6" rx="0.9" ry="0.9" fill="#d8e830"/><ellipse cx="27.1" cy="17.2" rx="1.2" ry="1.2" fill="url(#bB)"/></g><rect x="1" y="45.9" width="0.97" height="1.3" fill="#9c9c9c"/><rect x="2.27" y="45.9" width="0.91" height="1.3" fill="#9c9c9c"/><rect x="3.51" y="45.9" width="0.62" height="1.3" fill="#9c9c9c"/><rect x="4.4" y="45.9" width="0.89" height="1.3" fill="#9c9c9c"/><rect x="5.73" y="45.9" width="0.85" height="1.3" fill="#9c9c9c"/><rect x="6.85" y="45.9" width="1.01" height="1.3" fill="#9c9c9c"/><rect x="8.34" y="45.9" width="1.28" height="1.3" fill="#9c9c9c"/><rect x="10" y="45.9" width="0.86" height="1.3" fill="#9c9c9c"/><rect x="11.31" y="45.9" width="0.82" height="1.3" fill="#9c9c9c"/><rect x="12.41" y="45.9" width="1.1" height="1.3" fill="#9c9c9c"/><rect x="13.97" y="45.9" width="1.05" height="1.3" fill="#9c9c9c"/><rect x="15.33" y="45.9" width="0.83" height="1.3" fill="#9c9c9c"/><rect x="16.69" y="45.9" width="0.68" height="1.3" fill="#9c9c9c"/><rect x="18.85" y="45.9" width="0.79" height="1.3" fill="#9c9c9c"/><rect x="20.1" y="45.9" width="0.83" height="1.3" fill="#9c9c9c"/></g>
<g transform="translate(209.2,329.2)"><rect x="0" y="0" width="39.3" height="48.5" fill="url(#cellbg)"/><rect x="0" y="0" width="39.3" height="1.2" fill="#0e0e0e"/><rect x="6" y="2.4" width="27.3" height="0.6" fill="#343434"/><rect x="6" y="3.9" width="27.3" height="0.6" fill="#343434"/><rect x="6" y="5.4" width="27.3" height="0.6" fill="#343434"/><rect x="6" y="6.9" width="27.3" height="0.6" fill="#343434"/><rect x="0" y="8.3" width="39.3" height="5.2" fill="#414141" opacity="0.55"/><rect x="3.6" y="0.8" width="3.2" height="7.6" rx="1.2" fill="#141414"/><path d="M3,8.2 Q3,12.4 5.2,12.4 Q7.4,12.4 7.4,8.2" fill="none" stroke="#1c1c1c" stroke-width="1.0"/><rect x="33.1" y="0.8" width="3.2" height="7.6" rx="1.2" fill="#141414"/><path d="M32.5,8.2 Q32.5,12.4 34.7,12.4 Q36.9,12.4 36.9,8.2" fill="none" stroke="#1c1c1c" stroke-width="1.0"/><path d="M7.4,31.8 Q7.6,40.3 8.76,45" stroke="#9a9a9a" stroke-width="1.0" fill="none" filter="url(#soft)"/><path d="M14.1,31.8 Q14.43,40.3 16.27,45" stroke="#9a9a9a" stroke-width="1.0" fill="none" filter="url(#soft)"/><path d="M20.5,31.8 Q20.2,40.3 18.47,45" stroke="#9a9a9a" stroke-width="1.0" fill="none" filter="url(#soft)"/><path d="M26.9,31.8 Q27.38,40.3 30.09,45" stroke="#9a9a9a" stroke-width="1.0" fill="none" filter="url(#soft)"/><path d="M33.2,31.8 Q32.91,40.3 31.24,45" stroke="#9a9a9a" stroke-width="1.0" fill="none" filter="url(#soft)"/><ellipse cx="5" cy="31.1" rx="0.9" ry="1.1" fill="#8e8e8e"/><ellipse cx="9.8" cy="31.1" rx="0.9" ry="1.1" fill="#8e8e8e"/><path d="M5.2,17.2 Q5.2,15.4 7.4,15.4 Q9.6,15.4 9.6,17.2 L9.7,19.1 Q10.2,20.1 10.2,22.1 L10.3,29.8 Q10.3,32.1 9,32.3 L5.8,32.3 Q4.5,32.1 4.5,29.8 L4.6,22.1 Q4.6,20.1 5.1,19.1 Z" fill="url(#mg)" filter="url(#soft)"/><ellipse cx="11.7" cy="31.1" rx="0.9" ry="1.1" fill="#8e8e8e"/><ellipse cx="16.5" cy="31.1" rx="0.9" ry="1.1" fill="#8e8e8e"/><path d="M11.9,17.2 Q11.9,15.4 14.1,15.4 Q16.3,15.4 16.3,17.2 L16.4,19.1 Q16.9,20.1 16.9,22.1 L17,29.8 Q17,32.1 15.7,32.3 L12.5,32.3 Q11.2,32.1 11.2,29.8 L11.3,22.1 Q11.3,20.1 11.8,19.1 Z" fill="url(#mg)" filter="url(#soft)"/><ellipse cx="18.1" cy="31.1" rx="0.9" ry="1.1" fill="#8e8e8e"/><ellipse cx="22.9" cy="31.1" rx="0.9" ry="1.1" fill="#8e8e8e"/><path d="M18.3,17.2 Q18.3,15.4 20.5,15.4 Q22.7,15.4 22.7,17.2 L22.8,19.1 Q23.3,20.1 23.3,22.1 L23.4,29.8 Q23.4,32.1 22.1,32.3 L18.9,32.3 Q17.6,32.1 17.6,29.8 L17.7,22.1 Q17.7,20.1 18.2,19.1 Z" fill="url(#mg)" filter="url(#soft)"/><ellipse cx="24.5" cy="31.1" rx="0.9" ry="1.1" fill="#8e8e8e"/><ellipse cx="29.3" cy="31.1" rx="0.9" ry="1.1" fill="#8e8e8e"/><path d="M24.7,17.2 Q24.7,15.4 26.9,15.4 Q29.1,15.4 29.1,17.2 L29.2,19.1 Q29.7,20.1 29.7,22.1 L29.8,29.8 Q29.8,32.1 28.5,32.3 L25.3,32.3 Q24,32.1 24,29.8 L24.1,22.1 Q24.1,20.1 24.6,19.1 Z" fill="url(#mg)" filter="url(#soft)"/><ellipse cx="30.8" cy="31.1" rx="0.9" ry="1.1" fill="#8e8e8e"/><ellipse cx="35.6" cy="31.1" rx="0.9" ry="1.1" fill="#8e8e8e"/><path d="M31,17.2 Q31,15.4 33.2,15.4 Q35.4,15.4 35.4,17.2 L35.5,19.1 Q36,20.1 36,22.1 L36.1,29.8 Q36.1,32.1 34.8,32.3 L31.6,32.3 Q30.3,32.1 30.3,29.8 L30.4,22.1 Q30.4,20.1 30.9,19.1 Z" fill="url(#mg)" filter="url(#soft)"/><rect x="1" y="45.9" width="0.66" height="1.3" fill="#9c9c9c"/><rect x="2.18" y="45.9" width="1.09" height="1.3" fill="#9c9c9c"/><rect x="3.78" y="45.9" width="0.91" height="1.3" fill="#9c9c9c"/><rect x="5.24" y="45.9" width="0.68" height="1.3" fill="#9c9c9c"/><rect x="6.35" y="45.9" width="1.12" height="1.3" fill="#9c9c9c"/><rect x="7.87" y="45.9" width="1.27" height="1.3" fill="#9c9c9c"/><rect x="9.42" y="45.9" width="1.19" height="1.3" fill="#9c9c9c"/><rect x="10.92" y="45.9" width="0.81" height="1.3" fill="#9c9c9c"/><rect x="12.17" y="45.9" width="1.23" height="1.3" fill="#9c9c9c"/><rect x="13.97" y="45.9" width="1.23" height="1.3" fill="#9c9c9c"/><rect x="16.67" y="45.9" width="1.07" height="1.3" fill="#9c9c9c"/><rect x="18.27" y="45.9" width="1.29" height="1.3" fill="#9c9c9c"/><rect x="20.11" y="45.9" width="1.12" height="1.3" fill="#9c9c9c"/></g>
<g transform="translate(250.5,329.2)"><rect x="0" y="0" width="39.3" height="48.5" fill="url(#cellbg)"/><rect x="0" y="0" width="39.3" height="1.2" fill="#0e0e0e"/><rect x="6" y="2.4" width="27.3" height="0.6" fill="#343434"/><rect x="6" y="3.9" width="27.3" height="0.6" fill="#343434"/><rect x="6" y="5.4" width="27.3" height="0.6" fill="#343434"/><rect x="6" y="6.9" width="27.3" height="0.6" fill="#343434"/><rect x="0" y="8.3" width="39.3" height="5.2" fill="#414141" opacity="0.55"/><rect x="3.6" y="0.8" width="3.2" height="7.6" rx="1.2" fill="#141414"/><path d="M3,8.2 Q3,12.4 5.2,12.4 Q7.4,12.4 7.4,8.2" fill="none" stroke="#1c1c1c" stroke-width="1.0"/><rect x="33.1" y="0.8" width="3.2" height="7.6" rx="1.2" fill="#141414"/><path d="M32.5,8.2 Q32.5,12.4 34.7,12.4 Q36.9,12.4 36.9,8.2" fill="none" stroke="#1c1c1c" stroke-width="1.0"/><path d="M7.9,31.8 Q7.78,40.3 7.11,45" stroke="#9a9a9a" stroke-width="1.0" fill="none" filter="url(#soft)"/><path d="M14.3,31.8 Q14.71,40.3 17.03,45" stroke="#9a9a9a" stroke-width="1.0" fill="none" filter="url(#soft)"/><path d="M20.7,31.8 Q21.03,40.3 22.9,45" stroke="#9a9a9a" stroke-width="1.0" fill="none" filter="url(#soft)"/><path d="M26.7,31.8 Q26.43,40.3 24.87,45" stroke="#9a9a9a" stroke-width="1.0" fill="none" filter="url(#soft)"/><path d="M33.9,31.8 Q34.26,40.3 36.28,45" stroke="#9a9a9a" stroke-width="1.0" fill="none" filter="url(#soft)"/><ellipse cx="5.5" cy="31.1" rx="0.9" ry="1.1" fill="#8e8e8e"/><ellipse cx="10.3" cy="31.1" rx="0.9" ry="1.1" fill="#8e8e8e"/><path d="M5.7,17.2 Q5.7,15.4 7.9,15.4 Q10.1,15.4 10.1,17.2 L10.2,19.1 Q10.7,20.1 10.7,22.1 L10.8,29.8 Q10.8,32.1 9.5,32.3 L6.3,32.3 Q5,32.1 5,29.8 L5.1,22.1 Q5.1,20.1 5.6,19.1 Z" fill="url(#mg)" filter="url(#soft)"/><ellipse cx="11.9" cy="31.1" rx="0.9" ry="1.1" fill="#8e8e8e"/><ellipse cx="16.7" cy="31.1" rx="0.9" ry="1.1" fill="#8e8e8e"/><path d="M12.1,17.2 Q12.1,15.4 14.3,15.4 Q16.5,15.4 16.5,17.2 L16.6,19.1 Q17.1,20.1 17.1,22.1 L17.2,29.8 Q17.2,32.1 15.9,32.3 L12.7,32.3 Q11.4,32.1 11.4,29.8 L11.5,22.1 Q11.5,20.1 12,19.1 Z" fill="url(#mg)" filter="url(#soft)"/><ellipse cx="18.3" cy="31.1" rx="0.9" ry="1.1" fill="#8e8e8e"/><ellipse cx="23.1" cy="31.1" rx="0.9" ry="1.1" fill="#8e8e8e"/><path d="M18.5,17.2 Q18.5,15.4 20.7,15.4 Q22.9,15.4 22.9,17.2 L23,19.1 Q23.5,20.1 23.5,22.1 L23.6,29.8 Q23.6,32.1 22.3,32.3 L19.1,32.3 Q17.8,32.1 17.8,29.8 L17.9,22.1 Q17.9,20.1 18.4,19.1 Z" fill="url(#mg)" filter="url(#soft)"/><ellipse cx="24.3" cy="31.1" rx="0.9" ry="1.1" fill="#8e8e8e"/><ellipse cx="29.1" cy="31.1" rx="0.9" ry="1.1" fill="#8e8e8e"/><path d="M24.5,17.2 Q24.5,15.4 26.7,15.4 Q28.9,15.4 28.9,17.2 L29,19.1 Q29.5,20.1 29.5,22.1 L29.6,29.8 Q29.6,32.1 28.3,32.3 L25.1,32.3 Q23.8,32.1 23.8,29.8 L23.9,22.1 Q23.9,20.1 24.4,19.1 Z" fill="url(#mg)" filter="url(#soft)"/><ellipse cx="31.5" cy="31.1" rx="0.9" ry="1.1" fill="#8e8e8e"/><ellipse cx="36.3" cy="31.1" rx="0.9" ry="1.1" fill="#8e8e8e"/><path d="M31.7,17.2 Q31.7,15.4 33.9,15.4 Q36.1,15.4 36.1,17.2 L36.2,19.1 Q36.7,20.1 36.7,22.1 L36.8,29.8 Q36.8,32.1 35.5,32.3 L32.3,32.3 Q31,32.1 31,29.8 L31.1,22.1 Q31.1,20.1 31.6,19.1 Z" fill="url(#mg)" filter="url(#soft)"/><rect x="1" y="45.9" width="0.63" height="1.3" fill="#9c9c9c"/><rect x="2.21" y="45.9" width="0.81" height="1.3" fill="#9c9c9c"/><rect x="3.43" y="45.9" width="0.69" height="1.3" fill="#9c9c9c"/><rect x="4.6" y="45.9" width="0.96" height="1.3" fill="#9c9c9c"/><rect x="6.09" y="45.9" width="1.18" height="1.3" fill="#9c9c9c"/><rect x="7.58" y="45.9" width="0.93" height="1.3" fill="#9c9c9c"/><rect x="8.8" y="45.9" width="1.05" height="1.3" fill="#9c9c9c"/><rect x="10.13" y="45.9" width="0.89" height="1.3" fill="#9c9c9c"/><rect x="11.33" y="45.9" width="0.92" height="1.3" fill="#9c9c9c"/><rect x="12.53" y="45.9" width="0.96" height="1.3" fill="#9c9c9c"/><rect x="13.78" y="45.9" width="0.63" height="1.3" fill="#9c9c9c"/><rect x="14.72" y="45.9" width="0.75" height="1.3" fill="#9c9c9c"/><rect x="15.88" y="45.9" width="0.9" height="1.3" fill="#9c9c9c"/><rect x="17.2" y="45.9" width="0.94" height="1.3" fill="#9c9c9c"/><rect x="18.41" y="45.9" width="0.8" height="1.3" fill="#9c9c9c"/><rect x="19.48" y="45.9" width="1.17" height="1.3" fill="#9c9c9c"/><rect x="21.12" y="45.9" width="0.93" height="1.3" fill="#9c9c9c"/></g>
<g transform="translate(291.9,329.2)"><rect x="0" y="0" width="39.5" height="48.5" fill="url(#cellbg)"/><rect x="0" y="0" width="39.5" height="1.2" fill="#0e0e0e"/><rect x="6" y="2.4" width="27.5" height="0.6" fill="#343434"/><rect x="6" y="3.9" width="27.5" height="0.6" fill="#343434"/><rect x="6" y="5.4" width="27.5" height="0.6" fill="#343434"/><rect x="6" y="6.9" width="27.5" height="0.6" fill="#343434"/><rect x="0" y="8.3" width="39.5" height="5.2" fill="#414141" opacity="0.55"/><rect x="3.6" y="0.8" width="3.2" height="7.6" rx="1.2" fill="#141414"/><path d="M3,8.2 Q3,12.4 5.2,12.4 Q7.4,12.4 7.4,8.2" fill="none" stroke="#1c1c1c" stroke-width="1.0"/><rect x="33.3" y="0.8" width="3.2" height="7.6" rx="1.2" fill="#141414"/><path d="M32.7,8.2 Q32.7,12.4 34.9,12.4 Q37.1,12.4 37.1,8.2" fill="none" stroke="#1c1c1c" stroke-width="1.0"/><path d="M7.7,31.8 Q7.94,40.3 9.28,45" stroke="#9a9a9a" stroke-width="1.0" fill="none" filter="url(#soft)"/><path d="M14.4,31.8 Q14.11,40.3 12.5,45" stroke="#9a9a9a" stroke-width="1.0" fill="none" filter="url(#soft)"/><path d="M20.8,31.8 Q20.52,40.3 18.91,45" stroke="#9a9a9a" stroke-width="1.0" fill="none" filter="url(#soft)"/><path d="M27.6,31.8 Q27.7,40.3 28.24,45" stroke="#9a9a9a" stroke-width="1.0" fill="none" filter="url(#soft)"/><path d="M34,31.8 Q33.57,40.3 31.16,45" stroke="#9a9a9a" stroke-width="1.0" fill="none" filter="url(#soft)"/><ellipse cx="5.3" cy="31.1" rx="0.9" ry="1.1" fill="#8e8e8e"/><ellipse cx="10.1" cy="31.1" rx="0.9" ry="1.1" fill="#8e8e8e"/><path d="M5.5,17.2 Q5.5,15.4 7.7,15.4 Q9.9,15.4 9.9,17.2 L10,19.1 Q10.5,20.1 10.5,22.1 L10.6,29.8 Q10.6,32.1 9.3,32.3 L6.1,32.3 Q4.8,32.1 4.8,29.8 L4.9,22.1 Q4.9,20.1 5.4,19.1 Z" fill="url(#mg)" filter="url(#soft)"/><ellipse cx="12" cy="31.1" rx="0.9" ry="1.1" fill="#8e8e8e"/><ellipse cx="16.8" cy="31.1" rx="0.9" ry="1.1" fill="#8e8e8e"/><path d="M12.2,17.2 Q12.2,15.4 14.4,15.4 Q16.6,15.4 16.6,17.2 L16.7,19.1 Q17.2,20.1 17.2,22.1 L17.3,29.8 Q17.3,32.1 16,32.3 L12.8,32.3 Q11.5,32.1 11.5,29.8 L11.6,22.1 Q11.6,20.1 12.1,19.1 Z" fill="url(#mg)" filter="url(#soft)"/><ellipse cx="18.4" cy="31.1" rx="0.9" ry="1.1" fill="#8e8e8e"/><ellipse cx="23.2" cy="31.1" rx="0.9" ry="1.1" fill="#8e8e8e"/><path d="M18.6,17.2 Q18.6,15.4 20.8,15.4 Q23,15.4 23,17.2 L23.1,19.1 Q23.6,20.1 23.6,22.1 L23.7,29.8 Q23.7,32.1 22.4,32.3 L19.2,32.3 Q17.9,32.1 17.9,29.8 L18,22.1 Q18,20.1 18.5,19.1 Z" fill="url(#mg)" filter="url(#soft)"/><ellipse cx="25.2" cy="31.1" rx="0.9" ry="1.1" fill="#8e8e8e"/><ellipse cx="30" cy="31.1" rx="0.9" ry="1.1" fill="#8e8e8e"/><path d="M25.4,17.2 Q25.4,15.4 27.6,15.4 Q29.8,15.4 29.8,17.2 L29.9,19.1 Q30.4,20.1 30.4,22.1 L30.5,29.8 Q30.5,32.1 29.2,32.3 L26,32.3 Q24.7,32.1 24.7,29.8 L24.8,22.1 Q24.8,20.1 25.3,19.1 Z" fill="url(#mg)" filter="url(#soft)"/><ellipse cx="31.6" cy="31.1" rx="0.9" ry="1.1" fill="#8e8e8e"/><ellipse cx="36.4" cy="31.1" rx="0.9" ry="1.1" fill="#8e8e8e"/><path d="M31.8,17.2 Q31.8,15.4 34,15.4 Q36.2,15.4 36.2,17.2 L36.3,19.1 Q36.8,20.1 36.8,22.1 L36.9,29.8 Q36.9,32.1 35.6,32.3 L32.4,32.3 Q31.1,32.1 31.1,29.8 L31.2,22.1 Q31.2,20.1 31.7,19.1 Z" fill="url(#mg)" filter="url(#soft)"/><g filter="url(#soft)"><ellipse cx="8" cy="15.6" rx="1" ry="1" fill="url(#bB)"/><ellipse cx="5.3" cy="27.6" rx="0.8" ry="0.8" fill="#7a2ad8"/><ellipse cx="13.6" cy="17.6" rx="0.8" ry="0.8" fill="#7a2ad8"/><ellipse cx="16.4" cy="29.1" rx="2.4" ry="3.2" fill="url(#bB)"/><ellipse cx="16.8" cy="29.61" rx="0.91" ry="0.91" fill="#30d0a0"/><circle cx="16.8" cy="29.61" r="0.41" fill="#d0e040"/><ellipse cx="21.6" cy="27.6" rx="2.8" ry="4.7" fill="url(#bB)"/><ellipse cx="20.83" cy="28.12" rx="0.98" ry="0.98" fill="#30b8f0"/><ellipse cx="33.1" cy="30.6" rx="0.7" ry="0.7" fill="#7a2ad8"/></g><rect x="1" y="45.9" width="1.04" height="1.3" fill="#9c9c9c"/><rect x="2.63" y="45.9" width="0.89" height="1.3" fill="#9c9c9c"/><rect x="4.06" y="45.9" width="1.28" height="1.3" fill="#9c9c9c"/><rect x="5.6" y="45.9" width="0.76" height="1.3" fill="#9c9c9c"/><rect x="6.65" y="45.9" width="1.19" height="1.3" fill="#9c9c9c"/><rect x="8.42" y="45.9" width="1.18" height="1.3" fill="#9c9c9c"/><rect x="9.86" y="45.9" width="0.81" height="1.3" fill="#9c9c9c"/><rect x="11.11" y="45.9" width="0.63" height="1.3" fill="#9c9c9c"/><rect x="11.99" y="45.9" width="0.99" height="1.3" fill="#9c9c9c"/><rect x="13.52" y="45.9" width="0.9" height="1.3" fill="#9c9c9c"/><rect x="14.96" y="45.9" width="1.22" height="1.3" fill="#9c9c9c"/><rect x="16.52" y="45.9" width="0.87" height="1.3" fill="#9c9c9c"/><rect x="17.79" y="45.9" width="0.64" height="1.3" fill="#9c9c9c"/><rect x="18.7" y="45.9" width="1.1" height="1.3" fill="#9c9c9c"/><rect x="20.07" y="45.9" width="0.86" height="1.3" fill="#9c9c9c"/></g>
<g transform="translate(333.8,329.2)"><rect x="0" y="0" width="39.5" height="48.5" fill="url(#cellbg)"/><rect x="0" y="0" width="39.5" height="1.2" fill="#0e0e0e"/><rect x="6" y="2.4" width="27.5" height="0.6" fill="#343434"/><rect x="6" y="3.9" width="27.5" height="0.6" fill="#343434"/><rect x="6" y="5.4" width="27.5" height="0.6" fill="#343434"/><rect x="6" y="6.9" width="27.5" height="0.6" fill="#343434"/><rect x="0" y="8.3" width="39.5" height="5.2" fill="#414141" opacity="0.55"/><rect x="3.6" y="0.8" width="3.2" height="7.6" rx="1.2" fill="#141414"/><path d="M3,8.2 Q3,12.4 5.2,12.4 Q7.4,12.4 7.4,8.2" fill="none" stroke="#1c1c1c" stroke-width="1.0"/><rect x="33.3" y="0.8" width="3.2" height="7.6" rx="1.2" fill="#141414"/><path d="M32.7,8.2 Q32.7,12.4 34.9,12.4 Q37.1,12.4 37.1,8.2" fill="none" stroke="#1c1c1c" stroke-width="1.0"/><path d="M7.6,31.8 Q7.74,40.3 8.55,45" stroke="#9a9a9a" stroke-width="1.0" fill="none" filter="url(#soft)"/><path d="M14,31.8 Q14.19,40.3 15.29,45" stroke="#9a9a9a" stroke-width="1.0" fill="none" filter="url(#soft)"/><path d="M20.8,31.8 Q21.24,40.3 23.73,45" stroke="#9a9a9a" stroke-width="1.0" fill="none" filter="url(#soft)"/><path d="M26.8,31.8 Q26.51,40.3 24.86,45" stroke="#9a9a9a" stroke-width="1.0" fill="none" filter="url(#soft)"/><path d="M33.6,31.8 Q33.18,40.3 30.82,45" stroke="#9a9a9a" stroke-width="1.0" fill="none" filter="url(#soft)"/><ellipse cx="5.2" cy="31.1" rx="0.9" ry="1.1" fill="#8e8e8e"/><ellipse cx="10" cy="31.1" rx="0.9" ry="1.1" fill="#8e8e8e"/><path d="M5.4,17.2 Q5.4,15.4 7.6,15.4 Q9.8,15.4 9.8,17.2 L9.9,19.1 Q10.4,20.1 10.4,22.1 L10.5,29.8 Q10.5,32.1 9.2,32.3 L6,32.3 Q4.7,32.1 4.7,29.8 L4.8,22.1 Q4.8,20.1 5.3,19.1 Z" fill="url(#mg)" filter="url(#soft)"/><ellipse cx="11.6" cy="31.1" rx="0.9" ry="1.1" fill="#8e8e8e"/><ellipse cx="16.4" cy="31.1" rx="0.9" ry="1.1" fill="#8e8e8e"/><path d="M11.8,17.2 Q11.8,15.4 14,15.4 Q16.2,15.4 16.2,17.2 L16.3,19.1 Q16.8,20.1 16.8,22.1 L16.9,29.8 Q16.9,32.1 15.6,32.3 L12.4,32.3 Q11.1,32.1 11.1,29.8 L11.2,22.1 Q11.2,20.1 11.7,19.1 Z" fill="url(#mg)" filter="url(#soft)"/><ellipse cx="18.4" cy="31.1" rx="0.9" ry="1.1" fill="#8e8e8e"/><ellipse cx="23.2" cy="31.1" rx="0.9" ry="1.1" fill="#8e8e8e"/><path d="M18.6,17.2 Q18.6,15.4 20.8,15.4 Q23,15.4 23,17.2 L23.1,19.1 Q23.6,20.1 23.6,22.1 L23.7,29.8 Q23.7,32.1 22.4,32.3 L19.2,32.3 Q17.9,32.1 17.9,29.8 L18,22.1 Q18,20.1 18.5,19.1 Z" fill="url(#mg)" filter="url(#soft)"/><ellipse cx="24.4" cy="31.1" rx="0.9" ry="1.1" fill="#8e8e8e"/><ellipse cx="29.2" cy="31.1" rx="0.9" ry="1.1" fill="#8e8e8e"/><path d="M24.6,17.2 Q24.6,15.4 26.8,15.4 Q29,15.4 29,17.2 L29.1,19.1 Q29.6,20.1 29.6,22.1 L29.7,29.8 Q29.7,32.1 28.4,32.3 L25.2,32.3 Q23.9,32.1 23.9,29.8 L24,22.1 Q24,20.1 24.5,19.1 Z" fill="url(#mg)" filter="url(#soft)"/><ellipse cx="31.2" cy="31.1" rx="0.9" ry="1.1" fill="#8e8e8e"/><ellipse cx="36" cy="31.1" rx="0.9" ry="1.1" fill="#8e8e8e"/><path d="M31.4,17.2 Q31.4,15.4 33.6,15.4 Q35.8,15.4 35.8,17.2 L35.9,19.1 Q36.4,20.1 36.4,22.1 L36.5,29.8 Q36.5,32.1 35.2,32.3 L32,32.3 Q30.7,32.1 30.7,29.8 L30.8,22.1 Q30.8,20.1 31.3,19.1 Z" fill="url(#mg)" filter="url(#soft)"/><g filter="url(#soft)"><ellipse cx="13.7" cy="19.4" rx="1.2" ry="1.2" fill="url(#bB)"/><ellipse cx="12.1" cy="26.6" rx="1" ry="1.3" fill="url(#bB)"/><ellipse cx="22.6" cy="26.7" rx="3.6" ry="4.8" fill="url(#bB)"/><circle cx="21.34" cy="26.7" r="1.08" fill="#e03018"/><circle cx="23.68" cy="25.5" r="0.9" fill="#f0a020"/><circle cx="22.96" cy="28.38" r="0.79" fill="#30c0e0"/></g><rect x="1" y="45.9" width="1.17" height="1.3" fill="#9c9c9c"/><rect x="2.48" y="45.9" width="0.94" height="1.3" fill="#9c9c9c"/><rect x="3.7" y="45.9" width="1" height="1.3" fill="#9c9c9c"/><rect x="4.98" y="45.9" width="1.14" height="1.3" fill="#9c9c9c"/><rect x="6.63" y="45.9" width="1.29" height="1.3" fill="#9c9c9c"/><rect x="8.18" y="45.9" width="1.05" height="1.3" fill="#9c9c9c"/><rect x="9.57" y="45.9" width="0.84" height="1.3" fill="#9c9c9c"/><rect x="10.89" y="45.9" width="0.97" height="1.3" fill="#9c9c9c"/><rect x="12.14" y="45.9" width="0.81" height="1.3" fill="#9c9c9c"/><rect x="13.46" y="45.9" width="1.14" height="1.3" fill="#9c9c9c"/><rect x="15.04" y="45.9" width="1.1" height="1.3" fill="#9c9c9c"/><rect x="16.48" y="45.9" width="0.72" height="1.3" fill="#9c9c9c"/><rect x="18.99" y="45.9" width="1.15" height="1.3" fill="#9c9c9c"/></g>
<text x="65.35" y="200.6" font-size="8.17" font-weight="normal" fill="#111" textLength="34.04" lengthAdjust="spacingAndGlyphs" >nullxCD3</text>
<text x="140.68" y="200.6" font-size="8.17" font-weight="normal" fill="#111" textLength="53.37" lengthAdjust="spacingAndGlyphs" >JNJ-67571244</text>
<text x="225.58" y="200.6" font-size="8.17" font-weight="normal" fill="#111" textLength="53.97" lengthAdjust="spacingAndGlyphs" >JNJ-67571244</text>
<text x="307.27" y="200.6" font-size="8.17" font-weight="normal" fill="#111" textLength="54.37" lengthAdjust="spacingAndGlyphs" >JNJ-67571244</text>
<text x="63.66" y="210.2" font-size="8.17" font-weight="normal" fill="#111" textLength="37.81" lengthAdjust="spacingAndGlyphs" >0.5 mg/kg</text>
<text x="144.45" y="210.2" font-size="8.17" font-weight="normal" fill="#111" textLength="47.54" lengthAdjust="spacingAndGlyphs" >0.005 mg/kg</text>
<text x="231.56" y="210.2" font-size="8.17" font-weight="normal" fill="#111" textLength="42.11" lengthAdjust="spacingAndGlyphs" >0.05 mg/kg</text>
<text x="316.87" y="210.2" font-size="8.17" font-weight="normal" fill="#111" textLength="35.87" lengthAdjust="spacingAndGlyphs" >0.5 mg/kg</text>
<text x="47.76" y="223.1" font-size="8.17" font-weight="normal" fill="#111" textLength="24.79" lengthAdjust="spacingAndGlyphs" >ventral</text>
<text x="94.77" y="223.1" font-size="8.17" font-weight="normal" fill="#111" textLength="22.39" lengthAdjust="spacingAndGlyphs" >dorsal</text>
<text x="134.76" y="223.1" font-size="8.17" font-weight="normal" fill="#111" textLength="24.07" lengthAdjust="spacingAndGlyphs" >ventral</text>
<text x="178.66" y="223.1" font-size="8.17" font-weight="normal" fill="#111" textLength="23.12" lengthAdjust="spacingAndGlyphs" >dorsal</text>
<text x="219.56" y="223.1" font-size="8.17" font-weight="normal" fill="#111" textLength="24.18" lengthAdjust="spacingAndGlyphs" >ventral</text>
<text x="263.36" y="223.1" font-size="8.17" font-weight="normal" fill="#111" textLength="23.23" lengthAdjust="spacingAndGlyphs" >dorsal</text>
<text x="300.66" y="223.1" font-size="8.17" font-weight="normal" fill="#111" textLength="24.07" lengthAdjust="spacingAndGlyphs" >ventral</text>
<text x="344.45" y="223.1" font-size="8.17" font-weight="normal" fill="#111" textLength="23.54" lengthAdjust="spacingAndGlyphs" >dorsal</text>
<text x="18.95" y="253" font-size="8.45" font-weight="normal" fill="#111" textLength="21.34" lengthAdjust="spacingAndGlyphs" >Day 9</text>
<text x="14.24" y="304.1" font-size="8.45" font-weight="normal" fill="#111" textLength="26.06" lengthAdjust="spacingAndGlyphs" >Day 13</text>
<text x="14.24" y="355.1" font-size="8.45" font-weight="normal" fill="#111" textLength="26.06" lengthAdjust="spacingAndGlyphs" >Day 16</text>
<rect x="377.8" y="228.5" width="3.7" height="118.2" fill="url(#cbar2)"/>
<line x1="381.7" y1="234.6" x2="382.9" y2="234.6" stroke="#666" stroke-width="0.5" />
<line x1="381.7" y1="241.2" x2="382.9" y2="241.2" stroke="#666" stroke-width="0.5" />
<line x1="381.7" y1="247.8" x2="382.9" y2="247.8" stroke="#666" stroke-width="0.5" />
<line x1="381.7" y1="254.4" x2="382.9" y2="254.4" stroke="#666" stroke-width="0.5" />
<line x1="381.7" y1="261" x2="382.9" y2="261" stroke="#666" stroke-width="0.5" />
<line x1="381.7" y1="267.6" x2="382.9" y2="267.6" stroke="#666" stroke-width="0.5" />
<line x1="381.7" y1="274.2" x2="382.9" y2="274.2" stroke="#666" stroke-width="0.5" />
<line x1="381.7" y1="280.8" x2="382.9" y2="280.8" stroke="#666" stroke-width="0.5" />
<line x1="381.7" y1="287.4" x2="382.9" y2="287.4" stroke="#666" stroke-width="0.5" />
<line x1="381.7" y1="294" x2="382.9" y2="294" stroke="#666" stroke-width="0.5" />
<line x1="381.7" y1="300.6" x2="382.9" y2="300.6" stroke="#666" stroke-width="0.5" />
<line x1="381.7" y1="307.2" x2="382.9" y2="307.2" stroke="#666" stroke-width="0.5" />
<line x1="381.7" y1="313.8" x2="382.9" y2="313.8" stroke="#666" stroke-width="0.5" />
<line x1="381.7" y1="320.4" x2="382.9" y2="320.4" stroke="#666" stroke-width="0.5" />
<line x1="381.7" y1="327" x2="382.9" y2="327" stroke="#666" stroke-width="0.5" />
<line x1="381.7" y1="333.6" x2="382.9" y2="333.6" stroke="#666" stroke-width="0.5" />
<line x1="381.7" y1="340.2" x2="382.9" y2="340.2" stroke="#666" stroke-width="0.5" />
<text x="386.45" y="256.7" font-size="5.49" font-weight="normal" fill="#111" textLength="8.6" lengthAdjust="spacingAndGlyphs" >3.0</text>
<text x="386.43" y="289" font-size="5.35" font-weight="normal" fill="#111" textLength="7.38" lengthAdjust="spacingAndGlyphs" >2.0</text>
<text x="395.41" y="289" font-size="5.35" font-weight="normal" fill="#111" textLength="9.64" lengthAdjust="spacingAndGlyphs" >x10</text>
<text x="404.75" y="286.3" font-size="3.24" font-weight="normal" fill="#111" textLength="2.78" lengthAdjust="spacingAndGlyphs" >6</text>
<text x="386.55" y="321.8" font-size="5.35" font-weight="normal" fill="#111" textLength="8.29" lengthAdjust="spacingAndGlyphs" >1.0</text>
<text x="377.28" y="354.1" font-size="4.51" font-weight="normal" fill="#333" textLength="17.11" lengthAdjust="spacingAndGlyphs" >Radiance</text>
<text x="376.93" y="358.5" font-size="4.51" font-weight="normal" fill="#333" textLength="19.38" lengthAdjust="spacingAndGlyphs" >(p/sec/cm</text>
<text x="396.12" y="356.6" font-size="2.68" font-weight="normal" fill="#333" textLength="1.96" lengthAdjust="spacingAndGlyphs" >2</text>
<text x="398.2" y="358.5" font-size="4.51" font-weight="normal" fill="#333" textLength="7.22" lengthAdjust="spacingAndGlyphs" >/sr)</text>
<rect x="377.6" y="363.9" width="33.5" height="17.6" rx="0.9" fill="#fff" stroke="#222" stroke-width="1"/>
<text x="381.87" y="368" font-size="4.65" font-weight="normal" fill="#333" textLength="23.43" lengthAdjust="spacingAndGlyphs" >Color Scale</text>
<text x="380.53" y="374.3" font-size="4.65" font-weight="normal" fill="#333" textLength="26.75" lengthAdjust="spacingAndGlyphs" >Min = 1.85e5</text>
<text x="380.55" y="380" font-size="4.65" font-weight="normal" fill="#333" textLength="26.76" lengthAdjust="spacingAndGlyphs" >Max = 3.82e6</text>
<line x1="49.8" y1="416" x2="49.8" y2="496.3" stroke="#111" stroke-width="1.3" />
<line x1="49.2" y1="496.1" x2="165.7" y2="496.1" stroke="#111" stroke-width="1.3" />
<line x1="46.7" y1="495.8" x2="49.8" y2="495.8" stroke="#111" stroke-width="0.9" />
<text x="38.9" y="498.6" font-size="7.89" font-weight="normal" fill="#111" textLength="4.75" lengthAdjust="spacingAndGlyphs" >0</text>
<line x1="46.7" y1="480.48" x2="49.8" y2="480.48" stroke="#111" stroke-width="0.9" />
<text x="34.16" y="483.28" font-size="7.89" font-weight="normal" fill="#111" textLength="9.5" lengthAdjust="spacingAndGlyphs" >20</text>
<line x1="46.7" y1="465.16" x2="49.8" y2="465.16" stroke="#111" stroke-width="0.9" />
<text x="34.16" y="467.96" font-size="7.89" font-weight="normal" fill="#111" textLength="9.5" lengthAdjust="spacingAndGlyphs" >40</text>
<line x1="46.7" y1="449.84" x2="49.8" y2="449.84" stroke="#111" stroke-width="0.9" />
<text x="34.16" y="452.64" font-size="7.89" font-weight="normal" fill="#111" textLength="9.5" lengthAdjust="spacingAndGlyphs" >60</text>
<line x1="46.7" y1="434.52" x2="49.8" y2="434.52" stroke="#111" stroke-width="0.9" />
<text x="34.16" y="437.32" font-size="7.89" font-weight="normal" fill="#111" textLength="9.5" lengthAdjust="spacingAndGlyphs" >80</text>
<line x1="46.7" y1="419.2" x2="49.8" y2="419.2" stroke="#111" stroke-width="0.9" />
<text x="29.42" y="422" font-size="7.89" font-weight="normal" fill="#111" textLength="14.25" lengthAdjust="spacingAndGlyphs" >100</text>
<line x1="76" y1="495.8" x2="76" y2="498.8" stroke="#111" stroke-width="0.9" />
<line x1="107.5" y1="495.8" x2="107.5" y2="498.8" stroke="#111" stroke-width="0.9" />
<line x1="138.5" y1="495.8" x2="138.5" y2="498.8" stroke="#111" stroke-width="0.9" />
<rect x="68.2" y="418.37" width="3.8" height="3.8" rx="0.9" fill="#b8102e"/>
<rect x="74" y="418.37" width="3.8" height="3.8" rx="0.9" fill="#b8102e"/>
<rect x="79.9" y="418.37" width="3.8" height="3.8" rx="0.9" fill="#b8102e"/>
<line x1="65.5" y1="420.27" x2="86.5" y2="420.27" stroke="#111" stroke-width="1" />
<line x1="107.6" y1="433.3" x2="107.6" y2="442.2" stroke="#111" stroke-width="1" />
<line x1="102.4" y1="433.3" x2="112.5" y2="433.3" stroke="#111" stroke-width="1.1" />
<line x1="102.4" y1="442.2" x2="112.5" y2="442.2" stroke="#111" stroke-width="1.1" />
<line x1="97.2" y1="437.6" x2="118" y2="437.6" stroke="#111" stroke-width="1.3" />
<polygon points="105.2,427.3 110,427.3 107.6,431.5" fill="#fff" stroke="#3a66b8" stroke-width="0.85" />
<polygon points="105.2,442.3 110,442.3 107.6,446.5" fill="#fff" stroke="#3a66b8" stroke-width="0.85" />
<polygon points="105.6,435.9 109.6,435.9 107.6,439.5" fill="#1f3f7a" stroke="none" stroke-width="1" />
<line x1="138.5" y1="435" x2="138.5" y2="471.5" stroke="#111" stroke-width="1" />
<line x1="134" y1="435" x2="143.7" y2="435" stroke="#111" stroke-width="1.1" />
<line x1="134" y1="471.5" x2="143.7" y2="471.5" stroke="#111" stroke-width="1.1" />
<line x1="128.7" y1="453.5" x2="149" y2="453.5" stroke="#111" stroke-width="1.3" />
<polygon points="136,431.3 138.7,434 136,436.7 133.3,434" fill="#fff" stroke="#66b83c" stroke-width="0.85" />
<polygon points="141.7,433.3 144.4,436 141.7,438.7 139,436" fill="#fff" stroke="#66b83c" stroke-width="0.85" />
<polygon points="138.5,486.7 141.2,489.4 138.5,492.1 135.8,489.4" fill="#fff" stroke="#66b83c" stroke-width="0.85" />
<line x1="49.8" y1="518.3" x2="49.8" y2="598.7" stroke="#111" stroke-width="1.3" />
<line x1="49.2" y1="598.5" x2="165.7" y2="598.5" stroke="#111" stroke-width="1.3" />
<line x1="46.7" y1="598.2" x2="49.8" y2="598.2" stroke="#111" stroke-width="0.9" />
<text x="38.9" y="601" font-size="7.89" font-weight="normal" fill="#111" textLength="4.75" lengthAdjust="spacingAndGlyphs" >0</text>
<line x1="46.7" y1="582.82" x2="49.8" y2="582.82" stroke="#111" stroke-width="0.9" />
<text x="34.16" y="585.62" font-size="7.89" font-weight="normal" fill="#111" textLength="9.5" lengthAdjust="spacingAndGlyphs" >20</text>
<line x1="46.7" y1="567.44" x2="49.8" y2="567.44" stroke="#111" stroke-width="0.9" />
<text x="34.16" y="570.24" font-size="7.89" font-weight="normal" fill="#111" textLength="9.5" lengthAdjust="spacingAndGlyphs" >40</text>
<line x1="46.7" y1="552.06" x2="49.8" y2="552.06" stroke="#111" stroke-width="0.9" />
<text x="34.16" y="554.86" font-size="7.89" font-weight="normal" fill="#111" textLength="9.5" lengthAdjust="spacingAndGlyphs" >60</text>
<line x1="46.7" y1="536.68" x2="49.8" y2="536.68" stroke="#111" stroke-width="0.9" />
<text x="34.16" y="539.48" font-size="7.89" font-weight="normal" fill="#111" textLength="9.5" lengthAdjust="spacingAndGlyphs" >80</text>
<line x1="46.7" y1="521.3" x2="49.8" y2="521.3" stroke="#111" stroke-width="0.9" />
<text x="29.42" y="524.1" font-size="7.89" font-weight="normal" fill="#111" textLength="14.25" lengthAdjust="spacingAndGlyphs" >100</text>
<line x1="76" y1="598.2" x2="76" y2="601.2" stroke="#111" stroke-width="0.9" />
<line x1="107.5" y1="598.2" x2="107.5" y2="601.2" stroke="#111" stroke-width="0.9" />
<line x1="138.5" y1="598.2" x2="138.5" y2="601.2" stroke="#111" stroke-width="0.9" />
<rect x="68.2" y="596.3" width="3.8" height="3.8" rx="0.9" fill="#b8102e"/>
<rect x="74" y="596.3" width="3.8" height="3.8" rx="0.9" fill="#b8102e"/>
<rect x="79.9" y="596.3" width="3.8" height="3.8" rx="0.9" fill="#b8102e"/>
<line x1="65.5" y1="598.2" x2="86.5" y2="598.2" stroke="#111" stroke-width="1" />
<line x1="107.6" y1="576.7" x2="107.6" y2="585" stroke="#111" stroke-width="1" />
<line x1="102.4" y1="576.7" x2="112.5" y2="576.7" stroke="#111" stroke-width="1.1" />
<line x1="102.4" y1="585" x2="112.5" y2="585" stroke="#111" stroke-width="1.1" />
<line x1="97.2" y1="580.8" x2="118" y2="580.8" stroke="#111" stroke-width="1.3" />
<polygon points="105.2,570.6 110,570.6 107.6,574.8" fill="#fff" stroke="#3a66b8" stroke-width="0.85" />
<polygon points="105.2,585.9 110,585.9 107.6,590.1" fill="#fff" stroke="#3a66b8" stroke-width="0.85" />
<polygon points="105.6,573.9 109.6,573.9 107.6,577.5" fill="#1f3f7a" stroke="none" stroke-width="1" />
<line x1="138.5" y1="549.4" x2="138.5" y2="584" stroke="#111" stroke-width="1" />
<line x1="134" y1="549.4" x2="143.7" y2="549.4" stroke="#111" stroke-width="1.1" />
<line x1="134" y1="584" x2="143.7" y2="584" stroke="#111" stroke-width="1.1" />
<line x1="128.7" y1="566.7" x2="149" y2="566.7" stroke="#111" stroke-width="1.3" />
<polygon points="136,581.9 138.7,584.6 136,587.3 133.3,584.6" fill="#fff" stroke="#66b83c" stroke-width="0.85" />
<polygon points="141.7,581 144.4,583.7 141.7,586.4 139,583.7" fill="#fff" stroke="#66b83c" stroke-width="0.85" />
<polygon points="138.5,528.8 141.2,531.5 138.5,534.2 135.8,531.5" fill="#fff" stroke="#66b83c" stroke-width="0.85" />
<text transform="translate(27.5,483) rotate(-90)" x="-0.17" y="0" font-size="9.72" font-weight="bold" fill="#1a1a1a" textLength="51.48" lengthAdjust="spacingAndGlyphs">% MOLM-13-luc</text>
<text transform="translate(23.2,570.7) rotate(-90)" x="-0.17" y="0" font-size="9.86" font-weight="bold" fill="#1a1a1a" textLength="21.52" lengthAdjust="spacingAndGlyphs">% CD3</text>
<text x="17.4" y="548.9" font-size="5" font-weight="bold" fill="#1a1a1a" text-anchor="middle" transform="rotate(-90 17.4 547.5)">+</text>
<text transform="translate(78.8,610) rotate(-45)" x="-33.29" y="0" font-size="8.59" fill="#111" textLength="32.91" lengthAdjust="spacingAndGlyphs">nullxCD3</text>
<text transform="translate(110.2,611) rotate(-45)" x="-98.67" y="0" font-size="8.59" fill="#111" textLength="98.15" lengthAdjust="spacingAndGlyphs">JNJ-67571244 0.005 mg/kg</text>
<text transform="translate(141.6,611) rotate(-45)" x="-94.66" y="0" font-size="8.59" fill="#111" textLength="94.14" lengthAdjust="spacingAndGlyphs">JNJ-67571244 0.05 mg/kg</text>
<text x="224.97" y="418.6" font-size="7.75" font-weight="normal" fill="#111" textLength="33.22" lengthAdjust="spacingAndGlyphs" >nullxCD3</text>
<text x="286.98" y="418.6" font-size="7.75" font-weight="normal" fill="#111" textLength="52.96" lengthAdjust="spacingAndGlyphs" >JNJ-67571244</text>
<text x="358.38" y="418.6" font-size="7.75" font-weight="normal" fill="#111" textLength="53.97" lengthAdjust="spacingAndGlyphs" >JNJ-67571244</text>
<text x="220.86" y="428.9" font-size="7.75" font-weight="normal" fill="#111" textLength="41.91" lengthAdjust="spacingAndGlyphs" >0.05 mg/kg</text>
<text x="290.97" y="428.9" font-size="7.75" font-weight="normal" fill="#111" textLength="45.91" lengthAdjust="spacingAndGlyphs" >0.005 mg/kg</text>
<text x="364.76" y="428.9" font-size="7.75" font-weight="normal" fill="#111" textLength="42.22" lengthAdjust="spacingAndGlyphs" >0.05 mg/kg</text>
<text x="181.27" y="471.4" font-size="8.59" font-weight="normal" fill="#111" textLength="22.24" lengthAdjust="spacingAndGlyphs" >CD33</text>
<text x="186.07" y="542.6" font-size="8.59" font-weight="normal" fill="#111" textLength="17.39" lengthAdjust="spacingAndGlyphs" >CD8</text>
<g transform="translate(206.5,433.8)"><svg x="0" y="0" width="70.4" height="69.8" viewBox="0 0 70.4 69.8" overflow="hidden"><rect width="70.4" height="69.8" fill="#faf9f8"/><g filter="url(#grain)"><polygon points="0,0 55.39,0 45.69,11.08 34.62,15.92 24.92,20.77 15.23,27.69 6.92,32.54 0,34.62" fill="#f0eae3"/><polygon points="0,0 33.23,0 29.77,5.54 22.15,12.46 12.46,19.39 4.15,23.54 0,24.92" fill="#e8ddcd"/><polygon points="27.69,8.31 34.62,5.54 45.69,4.15 41.54,12.46 31.85,16.62 23.54,20.77" fill="#f6f3f0"/><polygon points="0,33.92 9.69,31.15 11.77,41.54 20.77,44.31 27,47.08 28.39,60.92 38.08,65.08 47.77,63 45.69,72 0,72" fill="#cecadc"/><polygon points="0,45.69 8.31,44.31 12.46,60.92 24.92,66.46 27.69,72 0,72" fill="#c4c0d5"/><polygon points="54.69,0 70.62,0 68.54,6.92 63.42,18 57.88,29.08 53.72,38.08 48.74,45.69 45.69,52.62 41.54,58.16 36,61.62 27.69,59.54 26.31,52.62 27.69,44.31 19.39,42.23 12.46,40.85 10.38,33.92 16.62,27.69 24.92,23.54 33.23,20.77 41.54,18 47.08,11.08" fill="#885b34"/><polygon points="8.31,41.26 20.77,42.37 27.42,45.42 26.59,48.19 19.39,46.8 8.31,45.97" fill="#e2dfe8"/><polygon points="9.42,47.36 20.77,46.8 22.43,58.16 16.89,61.2 11.08,55.66" fill="#8a5d36"/><ellipse cx="40.16" cy="31.15" rx="2.77" ry="1.25" fill="#d9cfca"/><ellipse cx="34.62" cy="38.77" rx="1.94" ry="1.11" fill="#d9cfca"/><ellipse cx="37.39" cy="47.77" rx="2.22" ry="0.83" fill="#d9cfca"/><ellipse cx="45.69" cy="41.54" rx="1.25" ry="0.83" fill="#d9cfca"/><ellipse cx="20.77" cy="29.08" rx="1.94" ry="0.83" fill="#d9cfca"/><ellipse cx="33.23" cy="26.31" rx="1.11" ry="0.69" fill="#d9cfca"/><ellipse cx="41.54" cy="54" rx="1.25" ry="0.83" fill="#d9cfca"/><ellipse cx="49.85" cy="20.77" rx="1.25" ry="0.69" fill="#d9cfca"/><ellipse cx="15.23" cy="35.31" rx="1.38" ry="1.11" fill="#d9cfca"/><ellipse cx="27.69" cy="34.62" rx="1.25" ry="0.83" fill="#d9cfca"/><ellipse cx="30.46" cy="52.62" rx="1.11" ry="0.83" fill="#d9cfca"/><ellipse cx="52.62" cy="30.46" rx="0.97" ry="0.69" fill="#d9cfca"/><ellipse cx="45.69" cy="24.92" rx="0.83" ry="0.55" fill="#d9cfca"/><ellipse cx="58.16" cy="16.62" rx="0.83" ry="0.55" fill="#d9cfca"/><ellipse cx="36" cy="56.77" rx="0.97" ry="0.55" fill="#d9cfca"/><polygon points="70.62,0 72,0 72,72 44.31,72 48.46,62.31 51.51,47.08 55.39,36.69 60.92,26.31 66.46,13.85" fill="#e9e7ef"/><polygon points="72,8.31 72,72 45.69,72 50.54,62.31 54,48.46 58.16,38.77 63.69,27.69 68.54,16.62" fill="#fafafa"/></g><rect x="54.8" y="66.3" width="11.6" height="1.7" fill="#111"/></svg><rect x="0.6" y="0.6" width="69.2" height="68.6" fill="none" stroke="#1a1a1a" stroke-width="1.3"/></g>
<g transform="translate(278.5,433.8)"><svg x="0" y="0" width="70.4" height="69.8" viewBox="0 0 70.4 69.8" overflow="hidden"><rect width="70.4" height="69.8" fill="#faf9f8"/><g filter="url(#grain)"><polygon points="0,0 45.69,0 37.39,8.31 24.92,20.77 13.85,31.85 4.15,45.69 0,49.85" fill="#f5f2ef"/><polygon points="15.23,0 41.54,0 34.62,8.31 26.31,16.62 16.62,23.54 4.15,27.69 2.77,18" fill="#e8dccc"/><polygon points="45,1.38 67.16,1.38 64.39,15.23 60.23,29.08 56.08,41.54 54.69,55.39 48.46,62.31 27.69,63 5.54,60.23 2.08,54 7.62,44.31 15.92,35.31 24.23,27 32.54,17.31 39.46,8.31" fill="#c8c4da"/><polygon points="47.77,2.08 65.08,2.08 62.31,13.85 58.16,27.69 54,38.77 51.51,47.08 52.62,54.28 45.69,55.66 36,56.77 24.92,55.39 13.15,54.28 7.62,52.62 9.69,45.69 16.62,40.16 23.54,33.23 30.46,26.31 36,18 41.54,9.69" fill="#8a5e36"/><polygon points="0,63 15.23,63.69 18,72 0,72" fill="#93694a"/><ellipse cx="31.85" cy="54" rx="3.05" ry="1.66" fill="#e2dde0"/><ellipse cx="41.54" cy="52.62" rx="2.22" ry="1.38" fill="#e2dde0"/><ellipse cx="24.92" cy="53.31" rx="1.66" ry="1.11" fill="#e2dde0"/><ellipse cx="45.69" cy="34.62" rx="1.38" ry="0.83" fill="#e2dde0"/><ellipse cx="38.77" cy="30.46" rx="1.11" ry="0.69" fill="#e2dde0"/><ellipse cx="48.46" cy="24.92" rx="1.11" ry="0.69" fill="#e2dde0"/><ellipse cx="34.62" cy="41.54" rx="1.11" ry="0.69" fill="#e2dde0"/><ellipse cx="42.92" cy="42.92" rx="0.97" ry="0.69" fill="#e2dde0"/><ellipse cx="51.23" cy="16.62" rx="0.83" ry="0.55" fill="#e2dde0"/><polygon points="58.16,36 72,27.69 72,72 41.54,72 52.62,65.08" fill="#f8f8f8"/></g></svg><rect x="0.6" y="0.6" width="69.2" height="68.6" fill="none" stroke="#1a1a1a" stroke-width="1.3"/></g>
<g transform="translate(350.2,433.8)"><svg x="0" y="0" width="70.4" height="69.8" viewBox="0 0 70.4 69.8" overflow="hidden"><rect width="70.4" height="69.8" fill="#faf9f8"/><g filter="url(#grain)"><polygon points="16.62,1.38 51.92,1.38 49.85,10.38 38.77,15.92 26.31,20.77 16.62,23.54 8.31,22.85 12.46,15.23" fill="#ebe2d5"/><polygon points="0,20.77 8.31,22.85 16.62,23.82 8.31,29.08 0,29.77" fill="#f0ebe6"/><polygon points="0,29.77 12.46,27 23.54,29.77 34.62,22.85 52.62,14.54 69.23,8.31 72,9.69 72,31.85 59.54,42.23 45.69,53.31 31.85,58.85 20.77,63.69 11.08,69.23 0,69.23" fill="#d2d0e0"/><polygon points="20.77,32.54 36,22.85 52.62,15.51 67.85,9.97 69.93,22.15 61.62,34.62 49.85,45.69 37.39,50.54 24.92,47.08 18,40.16" fill="#bbb9cf"/><polygon points="2.08,44.03 8.31,43.2 12.74,46.39 12.18,51.51 6.92,53.72 2.08,52.62" fill="#a58463"/><ellipse cx="39.46" cy="35.72" rx="3.05" ry="1.66" fill="#ab8a6e"/><ellipse cx="46.39" cy="36.28" rx="3.32" ry="1.8" fill="#ab8a6e"/><ellipse cx="42.23" cy="41.54" rx="1.66" ry="1.25" fill="#ab8a6e"/><ellipse cx="57.05" cy="33.92" rx="2.49" ry="1.25" fill="#ab8a6e"/><polygon points="13.85,51.51 33.23,55.39 45.69,51.51 41.54,59.54 27.69,64.8 16.62,66.19" fill="#f3f2f5"/><polygon points="12.46,28.39 22.15,26.31 30.46,21.46 27.69,28.39 18,33.23 12.46,34.62" fill="#f2f1f4"/></g></svg><rect x="0.6" y="0.6" width="69.2" height="68.6" fill="none" stroke="#1a1a1a" stroke-width="1.3"/></g>
<g transform="translate(206.5,505.2)"><svg x="0" y="0" width="70.4" height="69.8" viewBox="0 0 70.4 69.8" overflow="hidden"><rect width="70.4" height="69.8" fill="#faf9f8"/><g filter="url(#grain)"><polygon points="0,2.08 52.62,2.08 58.16,16.62 59.54,36 56.08,52.62 49.85,65.08 34.62,70.62 16.62,69.93 8.31,60.92 0,55.39" fill="#cbd3eb"/><polygon points="0,5.54 45.69,5.26 45.69,8.58 0,10.38" fill="#a3afd6"/><polygon points="18.69,11.08 24.23,11.08 22.15,30.46 19.39,41.54 15.92,41.54" fill="#eef0f8"/><polygon points="8.31,11.08 13.85,11.08 11.08,27.69 8.31,30.46" fill="#d8def0"/><polygon points="45.69,32.12 56.77,28.66 56.08,31.29 46.39,34.2" fill="#4a5d98"/><path d="M9.69,54 Q13.85,65.08 26.31,69.23" stroke="#6676ad" stroke-width="1.2" fill="none"/><path d="M12.46,47.77 Q24.92,41.54 30.46,53.31 Q41.54,41.54 55.39,46.39" stroke="#9ba8d2" stroke-width="1.1" fill="none"/><path d="M13.85,58.16 Q27.69,65.08 49.85,59.54" stroke="#a9b4da" stroke-width="1" fill="none"/></g></svg><rect x="0.6" y="0.6" width="69.2" height="68.6" fill="none" stroke="#1a1a1a" stroke-width="1.3"/></g>
<g transform="translate(278.5,505.2)"><svg x="0" y="0" width="70.4" height="69.8" viewBox="0 0 70.4 69.8" overflow="hidden"><rect width="70.4" height="69.8" fill="#faf9f8"/><g filter="url(#grain)"><polygon points="5.54,12.46 27.69,8.31 45.69,4.15 66.46,2.77 69.23,13.85 65.08,27.69 58.16,41.54 52.62,52.62 45.69,60.92 34.62,63.69 20.77,59.54 8.31,55.39 2.77,41.54 4.15,27.69" fill="#ebeaf2"/><polygon points="58.16,3.46 67.85,5.54 65.08,24.92 58.16,34.62 51.23,40.16 41.54,45.69 30.46,51.23 20.77,52.62 12.46,51.23 8.31,44.31 9.69,34.62 16.62,30.46 27.69,23.54 38.77,19.39 48.46,11.08" fill="#d9d4de"/><polygon points="41.54,23.54 58.16,19.39 59.54,27.69 48.46,29.77" fill="#c4c1da"/><path d="M11.08,55.39 Q27.69,65.08 45.69,56.77" stroke="#b0aed0" stroke-width="1.3" fill="none"/><path d="M52.62,41.54 Q58.16,34.62 66.46,38.77" stroke="#c0bed8" stroke-width="1.2" fill="none"/></g></svg><rect x="0.6" y="0.6" width="69.2" height="68.6" fill="none" stroke="#1a1a1a" stroke-width="1.3"/></g>
<g transform="translate(350.2,505.2)"><svg x="0" y="0" width="70.4" height="69.8" viewBox="0 0 70.4 69.8" overflow="hidden"><rect width="70.4" height="69.8" fill="#faf9f8"/><g filter="url(#grain)"><polygon points="4.15,30.46 20.77,22.15 41.54,13.85 63.69,6.92 69.23,8.31 69.23,20.77 60.92,34.62 49.85,45.69 38.77,52.62 27.69,56.77 13.85,58.16 5.54,52.62 2.77,41.54" fill="#e2dee6"/><polygon points="13.85,31.85 27.69,24.92 41.54,19.39 55.39,15.23 62.31,19.39 55.39,31.85 45.69,42.92 34.62,48.46 20.77,48.46 12.46,41.54" fill="#e4dedc"/><path d="M5.54,51.23 Q20.77,60.92 41.54,55.39" stroke="#b2aed0" stroke-width="1.3" fill="none"/><polygon points="2.77,27.69 16.62,20.77 31.85,15.23 33.23,18 16.62,24.92 4.15,31.85" fill="#d6d4e4"/></g></svg><rect x="0.6" y="0.6" width="69.2" height="68.6" fill="none" stroke="#1a1a1a" stroke-width="1.3"/></g><rect x="0.5" y="0.5" width="518.8" height="689.8" fill="none" stroke="#111" stroke-width="1.2"/></svg>
</body></html>
